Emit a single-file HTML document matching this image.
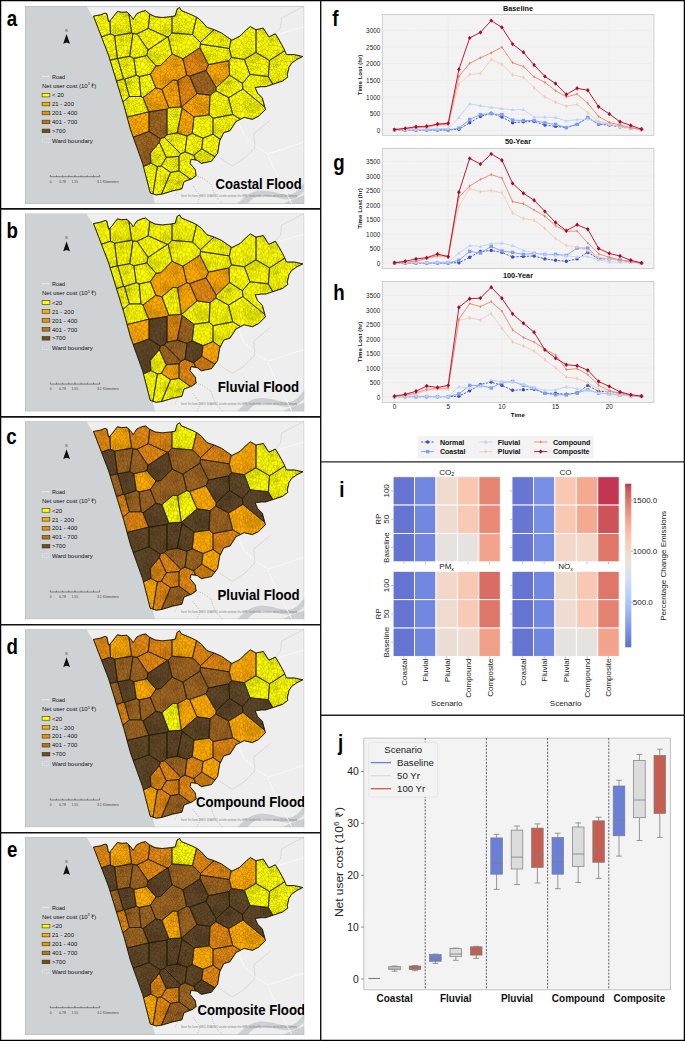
<!DOCTYPE html><html><head><meta charset="utf-8"><style>
html,body{margin:0;padding:0;background:#fff;}
svg{display:block;}
text{font-family:"Liberation Sans",sans-serif;}
.tk{font-size:6.4px;fill:#222;}
.ttl{font-size:7.3px;font-weight:bold;fill:#111;}
.yl{font-size:5.6px;font-weight:bold;fill:#111;}
.lg{font-size:7.1px;font-weight:bold;fill:#111;}
.hm{font-size:8px;fill:#222;}
.bx{font-size:9.6px;fill:#222;}
.bxt{font-size:10.4px;fill:#222;}
.bxl{font-size:10.2px;fill:#222;}
.bxg{font-size:10px;font-weight:bold;fill:#111;}
.pl{font-size:22px;font-weight:bold;fill:#000;}
.ml{font-size:6px;fill:#111;}
.mt{font-size:15px;font-weight:bold;fill:#000;}
</style></head><body><svg width="685" height="1041" viewBox="0 0 685 1041"><defs><clipPath id="mclip"><rect x="0" y="0" width="279.3" height="198"/></clipPath>
<clipPath id="cityclip"><polygon points="68.4,10.1 74.9,8.9 80.1,7.1 81.9,7.7 83.7,15.9 86.3,13.3 92.4,5.4 96.8,6.3 102.0,5.9 106.4,10.6 108.2,13.3 111.7,7.7 116.9,5.4 120.4,4.5 124.8,8.0 130.1,10.6 137.1,11.5 145.8,10.6 150.2,9.8 152.0,3.1 154.6,1.4 156.4,4.5 160.7,6.3 166.9,8.9 172.1,11.5 176.4,14.9 182.0,21.3 189.3,23.7 196.5,26.9 202.1,30.9 206.9,34.1 215.0,30.1 221.4,23.7 225.4,20.5 231.0,23.7 238.3,22.1 243.9,30.9 250.3,27.7 254.3,34.1 259.1,43.0 261.5,48.6 269.6,48.6 277.9,50.5 272.0,53.4 266.4,57.4 264.0,61.4 262.3,68.7 262.8,71.1 257.5,75.1 250.3,77.5 240.7,80.7 236.6,80.7 230.2,81.5 232.6,87.1 237.4,92.0 240.5,103.5 233.5,110.3 227.4,113.4 219.2,111.4 211.1,115.5 205.0,124.7 198.8,126.7 194.7,134.9 192.7,147.1 186.5,155.3 176.3,157.4 172.2,154.3 166.1,153.3 165.1,157.4 170.2,163.5 171.2,169.6 167.1,172.7 159.0,175.7 156.9,182.9 147.7,184.9 137.5,188.0 131.3,189.0 125.2,187.0 117.7,157.8 105.4,123.6 98.7,98.9 83.5,49.4"/></clipPath>
<g id="mapbg"><rect x="0" y="0" width="279.3" height="198" fill="#eeeeee"/><polygon points="0.0,0.0 61.8,0.0 68.3,10.5 83.5,49.4 98.7,98.9 105.4,123.6 117.7,157.8 127.2,186.3 130.0,198.0 0.0,198.0" fill="#cfd2d4"/><polyline points="61.8,0.0 68.3,10.5 83.5,49.4 98.7,98.9 105.4,123.6 117.7,157.8 127.2,186.3" fill="none" stroke="#f4f4f4" stroke-width="0.8"/><path d="M212 198 C219 191 226 184.5 237 184.5 C248 184.5 254 188.5 263 188.5 C271 188.5 275 182 280 175.5 L280 183.5 C276 189 271 193.5 263 193.5 C254 193.5 248 189.8 238 189.8 C230 189.8 226 194 222.5 198 Z M258 198 C264 194 272 192 280 189 L280 198 Z" fill="#cdd0d2"/><path d="M211.8 114 L219.5 129.3 L230.2 140 L242.5 147.7 L247 158.5 L257.8 180 L267 198 M242.5 147.7 C255 145 265 140 280 136 M253.2 28.5 C262 26 272 22 280 20.8" fill="none" stroke="#fafafa" stroke-width="0.9"/><path d="M245.5 114 L228.7 127.8 L230 141.6 L219.5 152.3 L207.2 160 L193.4 150.8 M280 0 L275 2.2 L256.5 12 L255.4 22 L251 26.3" fill="none" stroke="#c9cccc" stroke-width="0.6"/><path d="M150 190 L158 175 L165 168 L178 172 L186 178 L190 190 L198 198 M168 180 L175 190 L172 198 M140 172 L150 182" fill="none" stroke="#555" stroke-width="0.5" stroke-dasharray="0.6,1.6"/></g>
<g id="mapov"><polygon points="68.4,10.1 74.9,8.9 80.1,7.1 81.9,7.7 83.7,15.9 86.3,13.3 92.4,5.4 96.8,6.3 102.0,5.9 106.4,10.6 108.2,13.3 111.7,7.7 116.9,5.4 120.4,4.5 124.8,8.0 130.1,10.6 137.1,11.5 145.8,10.6 150.2,9.8 152.0,3.1 154.6,1.4 156.4,4.5 160.7,6.3 166.9,8.9 172.1,11.5 176.4,14.9 182.0,21.3 189.3,23.7 196.5,26.9 202.1,30.9 206.9,34.1 215.0,30.1 221.4,23.7 225.4,20.5 231.0,23.7 238.3,22.1 243.9,30.9 250.3,27.7 254.3,34.1 259.1,43.0 261.5,48.6 269.6,48.6 277.9,50.5 272.0,53.4 266.4,57.4 264.0,61.4 262.3,68.7 262.8,71.1 257.5,75.1 250.3,77.5 240.7,80.7 236.6,80.7 230.2,81.5 232.6,87.1 237.4,92.0 240.5,103.5 233.5,110.3 227.4,113.4 219.2,111.4 211.1,115.5 205.0,124.7 198.8,126.7 194.7,134.9 192.7,147.1 186.5,155.3 176.3,157.4 172.2,154.3 166.1,153.3 165.1,157.4 170.2,163.5 171.2,169.6 167.1,172.7 159.0,175.7 156.9,182.9 147.7,184.9 137.5,188.0 131.3,189.0 125.2,187.0 117.7,157.8 105.4,123.6 98.7,98.9 83.5,49.4" fill="none" stroke="#1a1a00" stroke-width="0.9"/><line x1="17" x2="24.6" y1="70.4" y2="70.4" stroke="#f0f0f0" stroke-width="0.8"/><text x="27" y="72.6" class="ml" textLength="13" lengthAdjust="spacingAndGlyphs">Road</text><text x="17" y="81.7" class="ml">Net user cost (10<tspan dy="-2.4" font-size="3.4">3</tspan><tspan dy="2.4"> &#8377;)</tspan></text><rect x="17.1" y="87.30" width="7.8" height="3.6" fill="#ffff00" stroke="#3a3a10" stroke-width="0.6"/><rect x="17.1" y="96.25" width="7.8" height="3.6" fill="#ffaa00" stroke="#3a3a10" stroke-width="0.6"/><text x="27" y="100.25" class="ml">21 - 200</text><rect x="17.1" y="105.20" width="7.8" height="3.6" fill="#f08c10" stroke="#3a3a10" stroke-width="0.6"/><text x="27" y="109.20" class="ml">201 - 400</text><rect x="17.1" y="114.15" width="7.8" height="3.6" fill="#b87320" stroke="#3a3a10" stroke-width="0.6"/><text x="27" y="118.15" class="ml">401 - 700</text><rect x="17.1" y="123.10" width="7.8" height="3.6" fill="#6e4c24" stroke="#3a3a10" stroke-width="0.6"/><text x="27" y="127.10" class="ml">&gt;700</text><rect x="17.3" y="132.6" width="7.4" height="3.6" fill="none" stroke="#f7f7f7" stroke-width="0.6" stroke-dasharray="1,1"/><text x="27" y="136.8" class="ml" textLength="40.8" lengthAdjust="spacingAndGlyphs">Ward boundary</text><text x="41.5" y="26" text-anchor="middle" font-size="3.2" fill="#333">N</text><path d="M41.5 27.9 L45 37.8 L41.5 36.5 L38.2 37.8 Z" fill="#111"/><path d="M25.3 169 V170.7 H74.7 V169 M31.5 170.7V169.3 M37.6 170.7 V169.3 M43.8 170.7V169.3 M49.9 170.7 V169 M56.1 170.7V169.3 M62.3 170.7 V169.3 M68.5 170.7V169.3" fill="none" stroke="#444" stroke-width="0.6"/><text x="25.6" y="176.8" font-size="3.4" fill="#444" text-anchor="middle">0</text><text x="37.5" y="176.8" font-size="3.4" fill="#444" text-anchor="middle">0.78</text><text x="49.8" y="176.8" font-size="3.4" fill="#444" text-anchor="middle">1.55</text><text x="72" y="176.8" font-size="3.4" fill="#444">3.1 Kilometers</text><text x="156" y="191.4" font-size="3.2" fill="#7a7a7a" textLength="116" lengthAdjust="spacingAndGlyphs">Source: Esri, Garmin, GEBCO, NOAA NGDC, and other contributors, Esri, HERE, OpenStreetMap contributors, and the GIS User Community</text></g><pattern id="roadpat" patternUnits="userSpaceOnUse" width="50" height="50"><path d="M0.0 17.7L0.5 17.3M0.5 17.3L0.0 14.7M0.0 0.2L0.1 0.0M0.1 50.0L0.2 49.6M0.2 49.6L0.0 49.3M0.0 36.9L0.4 35.9M0.4 35.9L0.0 34.8M0.0 1.3L0.2 1.0M0.2 1.0L0.2 0.6M0.2 0.6L0.0 0.4M0.0 34.5L0.3 34.3M0.3 34.3L0.6 33.6M0.6 33.6L1.1 31.7M1.1 31.7L1.1 31.6M1.1 31.6L0.0 31.2M0.0 9.2L0.1 9.1M0.1 9.1L0.0 9.1M0.1 9.1L0.4 9.0M0.4 9.0L0.7 8.6M0.7 8.6L0.7 8.6M0.7 8.6L0.3 7.7M0.3 7.7L0.0 7.4M0.0 21.7L1.4 22.3M1.4 22.3L1.5 22.2M1.5 22.2L1.8 21.1M1.8 21.1L1.9 20.8M1.9 20.8L1.2 19.9M1.2 19.9L0.0 18.5M0.0 25.2L0.4 24.9M0.4 24.9L0.4 23.9M0.4 23.9L0.0 23.7M0.4 23.9L1.4 22.3M0.0 27.4L1.4 26.8M1.4 26.8L1.0 25.2M1.0 25.2L0.4 24.9M0.2 49.6L1.6 48.1M1.6 48.1L0.0 47.0M0.3 7.7L1.5 7.3M1.5 7.3L2.0 5.9M2.0 5.9L0.6 5.7M0.6 5.7L0.0 6.0M0.6 5.7L0.5 4.0M0.5 4.0L0.0 3.9M0.0 28.0L1.6 27.2M1.6 27.2L1.4 26.8M0.5 4.0L0.5 4.0M0.5 4.0L0.5 3.9M0.5 3.9L0.0 2.6M0.0 10.0L0.6 9.6M0.6 9.6L0.4 9.0M0.0 10.6L1.1 10.3M1.1 10.3L0.6 9.6M0.2 0.6L1.9 0.5M1.9 0.5L2.2 0.0M0.0 28.6L1.4 28.0M1.4 28.0L1.8 27.4M1.8 27.4L1.8 27.4M1.8 27.4L1.6 27.2M2.2 50.0L2.7 48.8M2.7 48.8L2.0 48.1M2.0 48.1L1.7 48.1M1.7 48.1L1.6 48.1M1.2 19.9L3.0 18.8M3.0 18.8L2.5 17.9M2.5 17.9L1.0 17.1M1.0 17.1L0.5 17.3M0.0 11.8L1.5 11.5M1.5 11.5L1.5 10.4M1.5 10.4L1.1 10.3M1.7 48.1L1.6 44.5M1.6 44.5L0.0 44.5M1.0 25.2L1.7 25.2M1.7 25.2L2.2 25.1M2.2 25.1L3.0 24.5M3.0 24.5L3.3 24.2M3.3 24.2L3.5 23.4M3.5 23.4L1.5 22.2M1.1 31.6L1.2 31.5M1.2 31.5L2.1 29.4M2.1 29.4L1.4 29.1M1.4 29.1L0.0 28.7M0.5 4.0L2.5 3.9M2.5 3.9L2.5 3.8M2.5 3.8L1.0 2.8M1.0 2.8L0.5 3.9M1.0 2.8L1.0 1.8M1.0 1.8L0.2 1.0M1.6 44.5L2.6 44.1M2.6 44.1L2.5 40.0M2.5 40.0L2.3 39.7M2.3 39.7L1.3 39.5M1.3 39.5L0.0 39.5M1.5 10.4L1.8 10.1M1.8 10.1L0.7 8.6M0.0 13.5L1.1 13.6M1.1 13.6L1.9 13.1M1.9 13.1L2.4 12.4M2.4 12.4L1.5 11.5M1.0 17.1L1.7 16.4M1.7 16.4L1.1 13.6M0.4 35.9L1.5 36.3M1.5 36.3L2.9 35.2M2.9 35.2L2.9 35.2M2.9 35.2L0.3 34.3M2.5 3.8L3.1 2.5M3.1 2.5L1.0 1.8M1.8 27.4L2.1 27.1M2.1 27.1L2.5 26.5M2.5 26.5L1.7 25.2M1.3 39.5L1.5 36.3M2.0 5.9L3.0 5.8M3.0 5.8L2.5 3.9M3.1 2.5L3.6 2.2M3.6 2.2L4.1 1.0M4.1 1.0L1.9 0.5M1.4 28.0L1.4 29.1M2.1 29.4L2.3 29.3M2.3 29.3L2.5 28.1M2.5 28.1L1.8 27.4M2.3 39.7L4.5 36.8M4.5 36.8L4.2 36.4M4.2 36.4L2.9 35.2M2.9 35.2L3.1 34.2M3.1 34.2L2.6 33.8M2.6 33.8L0.6 33.6M1.8 10.1L2.2 9.8M2.2 9.8L2.4 9.3M2.4 9.3L2.4 8.6M2.4 8.6L2.0 8.4M2.0 8.4L0.7 8.6M2.4 12.4L3.4 12.2M3.4 12.2L3.1 10.4M3.1 10.4L2.2 9.8M2.0 8.4L1.5 7.3M2.6 33.8L1.1 31.7M2.4 8.6L2.5 8.5M2.5 8.5L3.2 5.9M3.2 5.9L3.0 5.8M1.7 16.4L3.3 15.6M3.3 15.6L1.9 13.1M3.2 5.9L5.1 6.0M5.1 6.0L5.7 5.4M5.7 5.4L5.8 4.7M5.8 4.7L3.6 2.2M3.1 34.2L4.6 32.1M4.6 32.1L4.3 31.8M4.3 31.8L1.2 31.5M2.0 48.1L2.8 47.5M2.8 47.5L2.9 45.2M2.9 45.2L2.8 44.2M2.8 44.2L2.6 44.1M2.5 28.1L3.3 27.8M3.3 27.8L3.4 27.5M3.4 27.5L2.5 27.1M2.5 27.1L2.1 27.1M2.5 8.5L5.7 8.9M5.7 8.9L5.1 6.0M2.4 9.3L4.5 9.6M4.5 9.6L5.8 9.1M5.8 9.1L5.7 8.9M4.2 36.4L5.0 34.1M5.0 34.1L5.3 32.1M5.3 32.1L4.6 32.1M3.3 15.6L4.9 15.5M4.9 15.5L6.7 14.0M6.7 14.0L7.0 13.2M7.0 13.2L3.4 12.2M4.3 31.8L3.9 30.6M3.9 30.6L2.9 29.4M2.9 29.4L2.3 29.3M2.5 26.5L3.1 26.5M3.1 26.5L3.1 26.0M3.1 26.0L2.2 25.1M4.1 1.0L4.7 0.4M4.7 0.4L4.6 0.0M4.6 0.0L4.6 0.0M4.6 0.0L4.6 0.0M4.6 50.0L2.7 48.8M2.5 27.1L3.3 26.8M3.3 26.8L3.1 26.5M3.1 10.4L4.5 9.6M2.9 45.2L3.4 47.3M3.4 47.3L3.9 47.2M3.9 47.2L4.4 44.7M4.4 44.7L3.6 44.3M3.6 44.3L2.8 44.2M2.5 17.9L4.5 17.8M4.5 17.8L4.8 17.4M4.8 17.4L4.9 15.5M1.9 20.8L4.1 20.1M4.1 20.1L4.2 19.8M4.2 19.8L4.2 19.7M4.2 19.7L3.0 18.8M4.6 0.0L4.6 0.0M4.6 50.0L4.2 47.5M4.2 47.5L3.9 47.2M3.4 47.3L2.8 47.5M3.5 23.4L3.6 23.4M3.6 23.4L3.7 22.0M3.7 22.0L1.8 21.1M2.9 29.4L4.4 28.5M4.4 28.5L3.3 27.8M3.6 44.3L5.6 40.9M5.6 40.9L2.5 40.0M3.4 27.5L3.5 27.3M3.5 27.3L3.4 26.9M3.4 26.9L3.3 26.8M3.1 26.0L3.1 26.0M3.1 26.0L3.5 25.7M3.5 25.7L3.0 24.5M3.4 26.9L4.2 26.3M4.2 26.3L4.2 26.1M4.2 26.1L3.1 26.0M3.7 22.0L4.6 21.0M4.6 21.0L4.1 20.1M4.4 28.5L4.7 28.6M4.7 28.6L4.7 28.6M4.7 28.6L4.7 27.2M4.7 27.2L3.5 27.3M3.9 30.6L4.7 28.6M7.0 13.2L7.4 12.7M7.4 12.7L7.3 10.5M7.3 10.5L5.8 9.1M4.2 19.7L4.5 17.8M3.5 25.7L4.1 25.4M4.1 25.4L4.1 25.1M4.1 25.1L3.3 24.2M5.8 4.7L6.0 4.5M6.0 4.5L6.8 2.5M6.8 2.5L5.9 1.1M5.9 1.1L4.7 0.4M5.3 32.1L5.5 32.1M5.5 32.1L5.5 29.1M5.5 29.1L4.8 28.6M4.8 28.6L4.7 28.6M4.8 17.4L7.4 19.4M7.4 19.4L8.3 18.3M8.3 18.3L7.3 15.4M7.3 15.4L6.7 14.0M4.1 25.1L4.8 25.0M4.8 25.0L5.4 24.8M5.4 24.8L4.1 23.3M4.1 23.3L3.6 23.4M4.1 23.3L5.8 22.3M5.8 22.3L5.8 22.1M5.8 22.1L4.6 21.0M4.2 26.1L4.1 25.4M4.7 27.2L4.9 26.8M4.9 26.8L4.6 26.5M4.6 26.5L4.2 26.3M4.2 19.8L7.4 19.4M7.4 19.4L7.4 19.4M5.8 22.1L7.5 20.8M7.5 20.8L7.4 19.4M5.6 40.9L6.8 40.9M6.8 40.9L8.5 38.7M8.5 38.7L7.2 37.5M7.2 37.5L6.1 36.9M6.1 36.9L4.5 36.8M7.3 10.5L9.1 8.5M9.1 8.5L9.7 6.7M9.7 6.7L5.7 5.4M4.6 26.5L4.9 26.0M4.9 26.0L4.8 25.0M4.6 0.0L4.7 0.0M4.7 50.0L6.5 48.3M6.5 48.3L6.9 46.8M6.9 46.8L4.2 47.5M6.9 46.8L7.5 45.8M7.5 45.8L7.6 45.0M7.6 45.0L7.6 45.0M7.6 45.0L4.4 44.7M5.4 24.8L5.9 24.8M5.9 24.8L6.1 24.6M6.1 24.6L6.7 24.1M6.7 24.1L6.7 24.0M6.7 24.0L5.8 22.3M7.6 45.0L6.8 40.9M4.9 26.8L6.1 26.8M6.1 26.8L6.1 26.5M6.1 26.5L5.8 25.7M5.8 25.7L4.9 26.0M5.8 25.7L5.9 24.8M4.8 28.6L6.3 27.0M6.3 27.0L6.1 26.8M6.1 36.9L6.3 35.5M6.3 35.5L5.0 34.1M5.9 1.1L8.1 0.0M8.1 0.0L8.1 0.0M8.1 0.0L8.3 0.1M8.3 0.1L8.4 0.0M8.1 50.0L6.5 48.3M8.4 50.0L9.1 48.6M9.1 48.6L7.5 45.8M6.3 35.5L7.0 32.5M7.0 32.5L6.8 32.3M6.8 32.3L5.5 32.1M6.1 26.5L6.8 26.0M6.8 26.0L6.1 24.6M8.5 38.7L10.0 38.5M10.0 38.5L10.7 38.1M10.7 38.1L11.4 35.7M11.4 35.7L8.7 33.4M8.7 33.4L7.2 37.5M6.7 24.0L8.9 23.1M8.9 23.1L9.3 22.2M9.3 22.2L9.3 22.1M9.3 22.1L7.5 20.8M8.7 33.4L8.3 32.8M8.3 32.8L7.0 32.5M5.5 29.1L6.9 28.7M6.9 28.7L6.6 27.3M6.6 27.3L6.3 27.0M7.3 15.4L9.9 16.5M9.9 16.5L10.3 13.2M10.3 13.2L7.4 12.7M7.6 45.0L8.2 45.0M8.2 45.0L9.5 43.9M9.5 43.9L10.7 42.1M10.7 42.1L10.0 38.5M6.6 27.3L8.8 26.3M8.8 26.3L7.9 25.6M7.9 25.6L6.8 26.0M6.8 32.3L7.6 29.7M7.6 29.7L7.5 29.1M7.5 29.1L6.9 28.7M9.3 22.1L10.8 18.6M10.8 18.6L10.7 18.5M10.7 18.5L8.3 18.3M9.7 6.7L10.6 5.7M10.6 5.7L10.5 5.4M10.5 5.4L7.2 4.4M7.2 4.4L6.0 4.5M7.9 25.6L6.7 24.1M8.8 26.3L9.4 26.4M9.4 26.4L9.7 25.9M9.7 25.9L8.9 23.1M8.3 32.8L9.5 31.8M9.5 31.8L10.3 30.5M10.3 30.5L7.6 29.7M7.5 29.1L9.8 27.6M9.8 27.6L9.4 26.4M6.8 2.5L9.0 2.1M9.0 2.1L9.3 1.4M9.3 1.4L8.3 0.1M7.2 4.4L9.5 3.3M9.5 3.3L9.0 2.1M9.3 1.4L10.5 0.7M10.5 0.7L10.4 0.0M10.4 50.0L10.4 49.6M10.4 49.6L9.4 48.7M9.4 48.7L9.1 48.6M10.3 30.5L11.1 29.8M11.1 29.8L11.0 28.8M11.0 28.8L9.8 27.6M9.5 3.3L9.8 3.6M9.8 3.6L12.0 2.1M12.0 2.1L12.0 0.9M12.0 0.9L10.5 0.7M10.5 5.4L9.8 3.6M10.7 18.5L10.8 18.1M10.8 18.1L9.9 16.5M9.4 48.7L11.5 47.3M11.5 47.3L10.3 46.2M10.3 46.2L8.2 45.0M11.0 28.8L13.7 27.2M13.7 27.2L13.9 26.7M13.9 26.7L9.8 25.9M9.8 25.9L9.7 25.9M9.8 25.9L11.5 24.6M11.5 24.6L11.9 22.7M11.9 22.7L9.3 22.2M11.4 35.7L13.4 33.9M13.4 33.9L9.5 31.8M10.3 13.2L10.5 13.2M10.5 13.2L10.9 13.1M10.9 13.1L14.6 11.4M14.6 11.4L12.8 9.8M12.8 9.8L9.1 8.5M13.4 33.9L13.9 33.6M13.9 33.6L13.6 31.7M13.6 31.7L11.1 29.8M10.8 18.1L11.1 17.2M11.1 17.2L10.5 13.2M12.8 9.8L11.2 5.7M11.2 5.7L10.6 5.7M10.8 18.6L13.2 19.7M13.2 19.7L15.0 17.7M15.0 17.7L15.1 17.4M15.1 17.4L12.4 16.4M12.4 16.4L11.1 17.2M10.4 49.6L11.7 47.5M11.7 47.5L11.5 47.3M11.9 22.7L12.4 22.4M12.4 22.4L13.2 20.0M13.2 20.0L13.2 19.7M11.2 5.7L11.3 5.7M11.3 5.7L12.3 2.8M12.3 2.8L12.0 2.1M11.7 47.5L14.2 48.0M14.2 48.0L14.2 47.9M14.2 47.9L12.0 44.9M12.0 44.9L10.3 46.2M10.7 42.1L13.7 43.0M13.7 43.0L14.7 42.8M14.7 42.8L14.6 39.7M14.6 39.7L10.7 38.1M9.5 43.9L12.1 44.3M12.1 44.3L13.7 43.0M12.0 0.9L13.4 0.0M13.4 50.0L14.2 49.5M14.2 49.5L14.6 48.8M14.6 48.8L14.2 48.0M12.0 44.9L12.1 44.3M12.4 16.4L12.3 15.4M12.3 15.4L10.9 13.1M13.9 26.7L13.9 26.6M13.9 26.6L13.7 26.4M13.7 26.4L11.5 24.6M13.6 31.7L14.9 29.9M14.9 29.9L14.9 29.6M14.9 29.6L13.7 27.2M14.6 39.7L15.7 38.9M15.7 38.9L16.9 37.9M16.9 37.9L16.7 37.1M16.7 37.1L15.8 34.4M15.8 34.4L13.9 33.6M12.3 2.8L14.8 3.4M14.8 3.4L14.3 0.0M14.3 50.0L14.2 49.5M14.6 11.4L14.9 11.4M14.9 11.4L16.1 5.7M16.1 5.7L16.0 5.6M16.0 5.6L11.3 5.7M12.3 15.4L15.9 15.9M15.9 15.9L16.2 15.5M16.2 15.5L17.0 13.0M17.0 13.0L14.9 11.4M14.6 48.8L16.0 49.0M16.0 49.0L18.5 46.1M18.5 46.1L18.6 45.9M18.6 45.9L18.5 45.1M18.5 45.1L17.5 43.8M17.5 43.8L15.5 43.8M15.5 43.8L14.2 47.9M13.7 26.4L12.9 22.7M12.9 22.7L12.4 22.4M15.5 43.8L14.7 42.8M13.9 26.6L14.6 26.2M14.6 26.2L14.5 23.4M14.5 23.4L12.9 22.7M16.0 5.6L14.8 3.4M14.5 23.4L15.3 23.2M15.3 23.2L15.7 21.7M15.7 21.7L15.7 21.4M15.7 21.4L13.2 20.0M15.1 17.4L15.9 15.9M16.1 5.7L17.0 5.4M17.0 5.4L17.5 4.3M17.5 4.3L17.4 0.6M17.4 0.6L16.9 0.0M16.9 50.0L16.1 49.1M16.1 49.1L16.0 49.0M15.7 21.4L17.9 20.3M17.9 20.3L15.0 17.7M15.8 34.4L18.5 32.6M18.5 32.6L19.2 31.5M19.2 31.5L18.1 30.6M18.1 30.6L14.9 29.9M17.9 20.3L18.5 20.5M18.5 20.5L17.9 17.4M17.9 17.4L16.2 15.5M14.9 29.6L17.1 27.7M17.1 27.7L17.4 26.1M17.4 26.1L17.3 26.0M17.3 26.0L14.6 26.2M17.5 43.8L18.5 42.7M18.5 42.7L15.7 38.9M17.0 13.0L17.6 13.0M17.6 13.0L20.6 8.5M20.6 8.5L19.5 6.6M19.5 6.6L19.0 6.1M19.0 6.1L17.0 5.4M17.3 26.0L17.5 24.5M17.5 24.5L15.3 23.2M17.5 24.5L18.0 23.6M18.0 23.6L15.7 21.7M18.1 30.6L17.1 27.7M19.2 31.5L20.6 30.8M20.6 30.8L18.3 26.4M18.3 26.4L17.4 26.1M18.0 23.6L19.7 21.7M19.7 21.7L19.0 20.7M19.0 20.7L18.5 20.5M18.5 42.7L19.3 42.1M19.3 42.1L17.8 38.8M17.8 38.8L17.0 37.9M17.0 37.9L16.9 37.9M18.3 26.4L20.4 26.1M20.4 26.1L23.1 24.7M23.1 24.7L22.0 22.5M22.0 22.5L19.7 21.7M16.7 37.1L19.9 34.8M19.9 34.8L18.5 32.6M18.5 45.1L20.9 44.9M20.9 44.9L21.3 44.5M21.3 44.5L21.1 43.6M21.1 43.6L19.4 42.0M19.4 42.0L19.3 42.1M17.9 17.4L20.4 17.9M20.4 17.9L22.3 15.8M22.3 15.8L21.0 14.3M21.0 14.3L17.6 13.0M16.1 49.1L18.6 48.6M18.6 48.6L18.5 46.1M17.5 4.3L19.3 2.8M19.3 2.8L19.6 1.8M19.6 1.8L18.8 0.7M18.8 0.7L17.4 0.6M19.0 20.7L20.4 17.9M19.0 6.1L21.5 3.9M21.5 3.9L21.2 3.1M21.2 3.1L21.2 3.1M21.2 3.1L19.3 2.8M18.6 48.6L20.1 48.5M20.1 48.5L18.6 45.9M18.6 45.9L18.6 45.9M18.8 0.7L19.7 0.0M19.7 50.0L19.9 49.8M19.9 49.8L20.1 49.6M20.1 49.6L20.3 49.2M20.3 49.2L20.1 48.5M20.1 48.5L20.1 48.5M18.6 45.9L20.8 46.5M20.8 46.5L20.9 44.9M17.0 37.9L21.7 36.8M21.7 36.8L19.9 34.8M21.7 36.8L22.0 36.9M22.0 36.9L22.2 36.8M22.2 36.8L22.6 36.0M22.6 36.0L20.8 30.8M20.8 30.8L20.6 30.8M22.0 22.5L22.6 21.5M22.6 21.5L22.8 16.2M22.8 16.2L22.4 15.8M22.4 15.8L22.3 15.8M20.1 48.5L21.3 47.3M21.3 47.3L20.8 46.5M19.4 42.0L19.7 41.8M19.7 41.8L21.0 40.6M21.0 40.6L21.0 39.9M21.0 39.9L17.8 38.8M19.6 1.8L20.4 1.5M20.4 1.5L20.0 0.0M20.0 50.0L19.9 49.8M21.0 39.9L22.0 36.9M20.8 30.8L20.9 30.7M20.9 30.7L20.4 26.1M21.0 14.3L23.6 10.0M23.6 10.0L20.9 8.6M20.9 8.6L20.6 8.5M20.4 1.5L21.0 1.5M21.0 1.5L21.1 1.5M21.1 1.5L20.3 0.0M20.3 50.0L20.1 49.6M21.1 43.6L22.5 42.5M22.5 42.5L19.7 41.8M20.9 30.7L21.6 30.5M21.6 30.5L24.7 26.1M24.7 26.1L24.5 25.6M24.5 25.6L23.1 24.7M21.1 1.5L22.5 0.3M22.5 0.3L21.9 0.0M21.2 3.1L21.2 2.2M21.2 2.2L21.0 1.5M21.9 50.0L20.3 49.2M22.5 0.3L22.6 0.3M22.6 0.3L22.7 0.0M22.7 50.0L23.2 49.1M23.2 49.1L22.5 47.2M22.5 47.2L21.3 47.3M21.2 3.1L23.2 1.9M23.2 1.9L23.1 1.7M23.1 1.7L21.2 2.2M22.5 47.2L22.6 47.0M22.6 47.0L22.4 44.9M22.4 44.9L21.3 44.5M23.1 1.7L22.9 0.7M22.9 0.7L22.6 0.3M19.5 6.6L22.2 5.8M22.2 5.8L22.4 4.1M22.4 4.1L21.5 3.9M22.5 42.5L22.9 42.4M22.9 42.4L22.7 41.2M22.7 41.2L21.0 40.6M22.7 41.2L24.5 39.7M24.5 39.7L24.3 38.5M24.3 38.5L24.3 38.5M24.3 38.5L22.2 36.8M22.6 36.0L23.0 35.6M23.0 35.6L23.9 33.9M23.9 33.9L23.0 31.3M23.0 31.3L21.6 30.5M20.9 8.6L23.0 6.6M23.0 6.6L22.9 6.3M22.9 6.3L22.2 5.8M24.5 25.6L25.5 24.5M25.5 24.5L25.9 23.3M25.9 23.3L26.3 20.7M26.3 20.7L25.4 20.3M25.4 20.3L22.6 21.5M22.4 15.8L25.1 13.1M25.1 13.1L23.6 10.0M23.6 10.0L23.6 10.0M22.4 44.9L22.5 44.8M22.5 44.8L22.9 43.7M22.9 43.7L23.1 42.6M23.1 42.6L22.9 42.4M23.2 1.9L23.5 2.2M23.5 2.2L25.2 1.7M25.2 1.7L24.5 0.7M24.5 0.7L22.9 0.7M22.4 4.1L23.7 3.8M23.7 3.8L23.5 2.2M23.6 10.0L24.5 9.5M24.5 9.5L24.5 9.1M24.5 9.1L23.9 7.2M23.9 7.2L23.0 6.6M24.5 0.7L25.0 0.0M22.6 47.0L23.7 46.8M23.7 46.8L25.8 45.1M25.8 45.1L25.8 45.0M25.8 45.0L22.5 44.8M25.0 50.0L25.0 50.0M25.0 50.0L25.0 49.6M25.0 49.6L24.4 49.0M24.4 49.0L23.2 49.1M22.9 43.7L26.1 44.3M26.1 44.3L26.7 42.8M26.7 42.8L23.1 42.6M22.9 6.3L24.1 4.8M24.1 4.8L24.1 4.1M24.1 4.1L23.7 3.8M25.4 20.3L24.8 17.1M24.8 17.1L24.0 16.5M24.0 16.5L22.8 16.2M24.4 49.0L24.5 48.9M24.5 48.9L24.7 48.4M24.7 48.4L24.1 47.3M24.1 47.3L23.7 46.8M25.8 45.0L26.1 44.3M24.3 38.5L26.6 35.2M26.6 35.2L23.0 35.6M26.7 42.8L26.7 42.8M26.7 42.8L26.5 42.2M26.5 42.2L24.5 39.7M23.9 7.2L24.8 6.0M24.8 6.0L24.1 4.8M26.6 35.2L26.7 35.2M26.7 35.2L26.0 33.2M26.0 33.2L23.9 33.9M24.1 4.1L24.3 4.0M24.3 4.0L26.1 2.0M26.1 2.0L26.0 1.9M26.0 1.9L25.2 1.7M24.1 47.3L25.9 47.5M25.9 47.5L26.2 46.9M26.2 46.9L25.9 45.2M25.9 45.2L25.8 45.1M24.5 9.1L25.9 6.3M25.9 6.3L25.8 6.2M25.8 6.2L24.8 6.0M23.0 31.3L26.0 31.3M26.0 31.3L26.3 29.1M26.3 29.1L25.6 26.8M25.6 26.8L24.7 26.1M25.9 45.2L29.1 46.7M29.1 46.7L29.2 46.6M29.2 46.6L29.4 45.5M29.4 45.5L27.7 42.9M27.7 42.9L26.7 42.8M26.0 33.2L26.4 31.9M26.4 31.9L26.0 31.3M24.7 48.4L25.9 47.5M25.9 47.5L25.9 47.5M24.0 16.5L27.0 14.6M27.0 14.6L26.5 13.2M26.5 13.2L25.3 13.1M25.3 13.1L25.1 13.1M25.8 6.2L25.6 4.3M25.6 4.3L24.3 4.0M24.5 48.9L26.0 48.7M26.0 48.7L26.0 47.8M26.0 47.8L25.9 47.5M26.0 1.9L26.2 0.9M26.2 0.9L25.0 0.0M25.0 50.0L25.0 50.0M25.3 13.1L26.2 9.7M26.2 9.7L24.5 9.5M26.2 46.9L28.5 47.9M28.5 47.9L28.9 47.8M28.9 47.8L29.0 47.7M29.0 47.7L29.1 46.7M25.6 26.8L28.0 26.7M28.0 26.7L31.1 24.4M31.1 24.4L31.1 23.7M31.1 23.7L30.9 22.5M30.9 22.5L25.5 24.5M25.0 49.6L26.2 49.3M26.2 49.3L26.0 48.7M24.3 38.5L27.9 37.9M27.9 37.9L27.9 35.7M27.9 35.7L26.7 35.2M27.9 35.7L31.8 33.3M31.8 33.3L30.6 32.2M30.6 32.2L26.4 31.9M26.2 9.7L26.9 9.7M26.9 9.7L27.0 9.7M27.0 9.7L28.1 7.4M28.1 7.4L26.5 6.3M26.5 6.3L25.9 6.3M26.2 49.3L27.0 49.8M27.0 49.8L27.2 49.8M27.2 49.8L27.5 49.0M27.5 49.0L26.0 47.8M27.5 49.0L28.5 47.9M26.2 0.9L26.9 0.0M26.1 2.0L26.6 2.4M26.6 2.4L28.5 1.0M28.5 1.0L28.1 0.5M28.1 0.5L27.4 0.0M27.4 50.0L27.2 49.8M27.0 49.8L26.9 50.0M26.5 42.2L28.1 38.2M28.1 38.2L27.9 37.9M25.6 4.3L26.9 4.1M26.9 4.1L27.1 4.0M27.1 4.0L27.4 3.7M27.4 3.7L26.6 2.4M26.3 20.7L29.0 19.9M29.0 19.9L29.0 17.8M29.0 17.8L24.8 17.1M26.5 6.3L26.9 4.1M25.9 23.3L29.6 20.8M29.6 20.8L29.0 19.9M26.5 13.2L26.9 12.8M26.9 12.8L26.9 9.7M28.3 7.3L28.3 7.3M28.3 7.3L27.4 3.7M27.4 3.7L27.4 3.7M27.1 4.0L28.3 7.3M28.3 7.3L28.1 7.4M27.0 9.7L28.8 10.7M28.8 10.7L30.3 10.7M30.3 10.7L30.5 10.6M30.5 10.6L31.1 9.9M31.1 9.9L31.3 7.5M31.3 7.5L30.4 6.7M30.4 6.7L29.7 6.8M29.7 6.8L28.3 7.3M29.0 17.8L29.5 16.9M29.5 16.9L27.6 14.8M27.6 14.8L27.0 14.6M30.9 22.5L30.9 22.2M30.9 22.2L29.6 20.8M27.6 14.8L28.7 13.0M28.7 13.0L28.5 12.8M28.5 12.8L26.9 12.8M30.6 32.2L30.0 30.1M30.0 30.1L26.3 29.1M28.1 0.5L28.5 0.0M28.5 50.0L29.2 49.0M29.2 49.0L28.9 47.8M30.9 22.2L35.3 19.7M35.3 19.7L35.2 18.7M35.2 18.7L29.9 16.6M29.9 16.6L29.5 16.9M28.5 12.8L28.8 10.7M27.4 3.7L27.9 3.7M27.9 3.7L28.7 3.3M28.7 3.3L29.4 1.8M29.4 1.8L28.9 1.2M28.9 1.2L28.5 1.0M28.1 38.2L31.2 39.4M31.2 39.4L33.2 35.9M33.2 35.9L33.2 35.4M33.2 35.4L32.0 33.3M32.0 33.3L31.8 33.3M27.7 42.9L31.4 41.3M31.4 41.3L31.2 39.4M29.9 16.6L30.9 14.8M30.9 14.8L29.9 13.5M29.9 13.5L28.7 13.0M28.9 1.2L29.4 0.2M29.4 0.2L29.4 0.0M29.4 50.0L29.2 49.0M29.2 49.0L29.2 49.0M29.7 6.8L27.9 3.7M32.0 33.3L32.2 33.2M32.2 33.2L32.2 27.0M32.2 27.0L30.1 29.0M30.1 29.0L30.0 30.1M30.1 29.0L28.0 26.7M29.2 49.0L30.5 49.7M30.5 49.7L31.1 49.4M31.1 49.4L31.6 48.4M31.6 48.4L31.6 48.4M31.6 48.4L29.0 47.7M31.1 23.7L35.3 24.3M35.3 24.3L35.5 20.6M35.5 20.6L35.3 19.8M35.3 19.8L35.3 19.7M29.9 13.5L30.3 10.7M32.2 27.0L32.3 26.8M32.3 26.8L31.1 24.4M29.4 45.5L32.2 44.6M32.2 44.6L31.5 41.4M31.5 41.4L31.4 41.3M30.4 6.7L30.5 6.5M30.5 6.5L29.2 3.6M29.2 3.6L28.7 3.3M29.4 1.8L30.4 1.8M30.4 1.8L30.5 0.0M30.0 0.0L29.4 0.2M30.5 50.0L30.5 49.8M30.5 49.8L30.0 50.0M31.3 7.5L33.8 7.4M33.8 7.4L32.9 4.1M32.9 4.1L30.8 5.8M30.8 5.8L30.5 6.5M30.5 49.8L30.5 49.7M29.2 3.6L30.7 3.9M30.7 3.9L31.0 3.2M31.0 3.2L30.7 1.9M30.7 1.9L30.4 1.8M30.8 5.8L30.7 3.9M31.6 48.4L31.0 46.5M31.0 46.5L29.2 46.6M30.9 14.8L32.2 14.1M32.2 14.1L32.3 13.7M32.3 13.7L31.7 12.1M31.7 12.1L30.5 10.6M31.5 41.4L33.8 41.5M33.8 41.5L35.3 40.7M35.3 40.7L36.3 39.8M36.3 39.8L36.4 39.5M36.4 39.5L33.2 35.9M30.7 1.9L31.8 1.4M31.8 1.4L31.3 0.0M32.2 44.6L32.2 44.7M32.2 44.7L33.4 45.6M33.4 45.6L36.2 45.2M36.2 45.2L36.3 45.1M36.3 45.1L33.8 41.5M31.3 50.0L31.1 49.4M31.8 1.4L32.1 1.4M32.1 1.4L32.6 0.0M31.0 46.5L32.2 44.7M32.9 4.1L32.9 4.1M32.9 4.1L32.0 3.5M32.0 3.5L31.0 3.2M32.6 50.0L32.6 50.0M32.6 50.0L32.5 48.4M32.5 48.4L31.6 48.4M32.5 48.4L32.7 48.3M32.7 48.3L32.8 48.2M32.8 48.2L33.4 45.6M32.0 3.5L32.6 1.6M32.6 1.6L32.1 1.4M32.3 26.8L32.5 26.9M32.5 26.9L35.5 24.6M35.5 24.6L35.3 24.3M31.7 12.1L33.3 10.8M33.3 10.8L33.1 10.6M33.1 10.6L31.1 9.9M35.2 18.7L36.2 16.0M36.2 16.0L36.0 15.8M36.0 15.8L32.2 14.1M32.2 33.2L35.7 30.0M35.7 30.0L35.7 29.3M35.7 29.3L35.3 28.8M35.3 28.8L32.5 26.9M32.6 1.6L33.3 1.8M33.3 1.8L33.5 1.8M33.5 1.8L34.1 1.4M34.1 1.4L34.0 0.7M34.0 0.7L32.7 0.0M32.7 50.0L32.6 50.0M33.2 35.4L33.8 35.4M33.8 35.4L35.9 34.7M35.9 34.7L38.0 31.3M38.0 31.3L35.7 30.0M32.3 13.7L33.5 12.3M33.5 12.3L33.9 11.2M33.9 11.2L33.3 10.8M32.9 4.1L33.0 4.0M33.0 4.0L33.3 1.8M33.1 10.6L34.1 7.5M34.1 7.5L33.8 7.4M34.0 0.7L34.1 0.0M34.1 50.0L34.1 49.9M34.1 49.9L34.1 49.5M34.1 49.5L32.7 48.3M33.9 11.2L35.6 10.9M35.6 10.9L36.9 9.6M36.9 9.6L36.9 9.0M36.9 9.0L36.1 7.9M36.1 7.9L35.0 7.4M35.0 7.4L34.1 7.5M35.0 7.4L34.8 4.1M34.8 4.1L34.8 4.1M34.8 4.1L33.0 4.0M36.0 15.8L35.5 13.3M35.5 13.3L33.5 12.3M34.8 4.1L33.5 1.8M34.8 4.1L36.2 3.1M36.2 3.1L34.6 1.5M34.6 1.5L34.1 1.4M34.6 1.5L35.4 0.8M35.4 0.8L35.1 0.1M35.1 0.1L34.6 0.0M34.6 50.0L34.1 49.9M32.8 48.2L35.6 48.0M35.6 48.0L35.9 47.9M35.9 47.9L36.2 45.2M35.3 28.8L35.7 24.8M35.7 24.8L35.5 24.6M35.5 20.6L37.3 23.3M37.3 23.3L38.8 22.5M38.8 22.5L39.2 22.1M39.2 22.1L39.2 21.8M39.2 21.8L38.7 21.3M38.7 21.3L38.3 20.9M38.3 20.9L37.0 20.2M37.0 20.2L35.3 19.8M36.1 7.9L38.5 3.5M38.5 3.5L37.9 3.1M37.9 3.1L36.2 3.1M34.1 49.5L34.5 49.3M34.5 49.3L35.6 48.0M35.9 47.9L36.2 48.4M36.2 48.4L38.3 49.1M38.3 49.1L38.5 47.9M38.5 47.9L37.3 44.8M37.3 44.8L36.3 45.1M35.5 13.3L35.6 10.9M37.0 20.2L40.4 18.2M40.4 18.2L40.6 17.9M40.6 17.9L37.2 15.7M37.2 15.7L36.2 16.0M37.2 15.7L39.7 12.8M39.7 12.8L36.9 9.6M35.7 24.8L35.8 24.8M35.8 24.8L37.2 24.4M37.2 24.4L37.3 23.3M34.5 49.3L35.4 49.6M35.4 49.6L35.9 49.5M35.9 49.5L36.2 48.4M37.9 3.1L37.6 1.1M37.6 1.1L36.3 0.4M36.3 0.4L35.4 0.8M35.1 0.1L35.1 0.0M35.1 50.0L35.4 49.6M36.3 0.4L36.1 0.0M36.1 50.0L35.9 49.5M37.3 44.8L37.4 44.8M37.4 44.8L35.3 40.7M36.4 39.5L38.4 38.7M38.4 38.7L38.6 38.6M38.6 38.6L36.3 36.3M36.3 36.3L33.8 35.4M37.6 1.1L38.0 0.0M35.7 29.3L36.9 28.2M36.9 28.2L37.7 27.1M37.7 27.1L35.8 24.8M38.0 50.0L38.4 49.2M38.4 49.2L38.3 49.1M37.4 44.8L38.6 44.1M38.6 44.1L36.3 39.8M38.5 3.5L38.7 3.6M38.7 3.6L39.9 0.0M39.9 50.0L40.0 49.7M40.0 49.7L40.0 49.5M40.0 49.5L38.4 49.2M36.9 9.0L38.7 8.3M38.7 8.3L41.2 4.6M41.2 4.6L40.9 4.1M40.9 4.1L38.7 3.6M38.0 31.3L38.5 31.5M38.5 31.5L40.2 30.9M40.2 30.9L40.3 30.4M40.3 30.4L39.0 28.4M39.0 28.4L36.9 28.2M38.6 38.6L39.7 37.7M39.7 37.7L40.0 36.9M40.0 36.9L39.0 35.7M39.0 35.7L36.3 36.3M38.6 44.1L40.1 43.8M40.1 43.8L38.4 38.7M39.0 35.7L38.3 34.7M38.3 34.7L35.9 34.7M38.3 34.7L38.6 32.4M38.6 32.4L38.5 31.5M37.7 27.1L37.8 27.0M37.8 27.0L37.9 26.8M37.9 26.8L38.5 25.1M38.5 25.1L38.5 25.0M38.5 25.0L38.4 24.9M38.4 24.9L37.2 24.4M38.5 47.9L40.3 47.3M40.3 47.3L41.7 44.7M41.7 44.7L40.4 43.8M40.4 43.8L40.1 43.8M40.0 36.9L42.0 35.9M42.0 35.9L42.1 35.4M42.1 35.4L38.6 32.4M42.1 35.4L42.9 33.7M42.9 33.7L41.5 31.4M41.5 31.4L40.2 30.9M38.4 24.9L38.8 22.5M39.0 28.4L39.7 27.7M39.7 27.7L37.8 27.0M40.4 43.8L41.8 40.3M41.8 40.3L39.7 37.7M39.7 12.8L40.4 12.7M40.4 12.7L41.9 11.6M41.9 11.6L42.3 10.7M42.3 10.7L41.8 9.7M41.8 9.7L40.5 8.8M40.5 8.8L38.7 8.3M38.5 25.0L40.1 24.2M40.1 24.2L39.2 22.1M39.7 27.7L41.0 27.3M41.0 27.3L40.5 26.7M40.5 26.7L37.9 26.8M40.0 49.5L40.4 49.2M40.4 49.2L40.3 47.3M38.3 20.9L40.2 19.1M40.2 19.1L40.4 18.2M40.3 30.4L41.3 27.5M41.3 27.5L41.0 27.3M40.5 26.7L40.5 26.6M40.5 26.6L40.4 26.5M40.4 26.5L38.5 25.1M40.2 19.1L40.3 19.7M40.3 19.7L40.8 20.9M40.8 20.9L42.4 18.8M42.4 18.8L41.0 17.8M41.0 17.8L40.6 17.9M40.4 26.5L40.5 24.3M40.5 24.3L40.1 24.2M40.5 26.6L41.3 24.6M41.3 24.6L41.2 24.4M41.2 24.4L40.8 24.2M40.8 24.2L40.5 24.3M41.0 17.8L42.0 15.3M42.0 15.3L40.4 12.7M38.7 21.3L40.3 19.7M39.2 21.8L40.5 21.7M40.5 21.7L40.7 21.6M40.7 21.6L40.8 20.9M40.9 4.1L41.1 3.7M41.1 3.7L40.3 0.1M40.3 0.1L40.2 0.0M40.2 50.0L40.0 49.7M41.5 31.4L42.6 30.6M42.6 30.6L43.0 27.7M43.0 27.7L42.4 27.2M42.4 27.2L41.3 27.5M42.4 27.2L42.6 26.6M42.6 26.6L41.3 24.6M40.5 8.8L41.6 5.0M41.6 5.0L41.6 5.0M41.6 5.0L41.2 4.6M40.8 24.2L40.8 24.0M40.8 24.0L40.5 21.7M40.3 0.1L42.2 1.3M42.2 1.3L42.5 0.0M42.5 50.0L42.7 49.1M42.7 49.1L40.4 49.2M42.7 49.1L43.0 48.9M43.0 48.9L42.4 44.8M42.4 44.8L41.7 44.7M41.8 40.3L43.3 39.9M43.3 39.9L43.3 39.8M43.3 39.8L43.6 38.0M43.6 38.0L43.3 36.8M43.3 36.8L42.0 35.9M41.1 3.7L42.2 2.3M42.2 2.3L42.2 1.3M41.8 9.7L42.4 6.5M42.4 6.5L41.6 5.0M41.6 5.0L44.0 4.8M44.0 4.8L45.5 3.0M45.5 3.0L45.0 1.9M45.0 1.9L42.2 2.3M42.4 44.8L42.8 44.8M42.8 44.8L44.2 41.1M44.2 41.1L43.3 39.9M40.8 24.0L42.3 22.0M42.3 22.0L40.7 21.6M42.0 15.3L43.3 15.4M43.3 15.4L44.5 13.5M44.5 13.5L41.9 11.6M43.3 36.8L45.6 36.5M45.6 36.5L45.7 36.3M45.7 36.3L45.7 36.3M45.7 36.3L45.2 34.8M45.2 34.8L43.3 33.6M43.3 33.6L42.9 33.7M41.2 24.4L42.0 24.1M42.0 24.1L43.3 22.6M43.3 22.6L43.3 22.6M43.3 22.6L42.7 22.0M42.7 22.0L42.3 22.0M42.7 22.0L43.1 19.0M43.1 19.0L42.4 18.8M43.1 19.0L44.8 18.5M44.8 18.5L44.9 18.5M44.9 18.5L44.5 16.5M44.5 16.5L43.3 15.4M42.6 26.6L43.1 26.0M43.1 26.0L43.2 25.3M43.2 25.3L42.0 24.1M45.0 1.9L45.6 0.0M45.6 50.0L45.7 49.7M45.7 49.7L43.0 48.9M43.3 22.6L44.4 22.2M44.4 22.2L45.6 20.2M45.6 20.2L45.6 19.7M45.6 19.7L44.8 18.5M43.0 27.7L45.3 28.7M45.3 28.7L46.2 26.5M46.2 26.5L43.2 26.0M43.2 26.0L43.1 26.0M43.2 25.3L43.6 24.4M43.6 24.4L43.4 23.0M43.4 23.0L43.3 22.6M43.3 33.6L43.9 33.2M43.9 33.2L45.3 30.1M45.3 30.1L42.6 30.6M42.3 10.7L44.0 10.1M44.0 10.1L45.0 8.4M45.0 8.4L44.8 8.0M44.8 8.0L42.4 6.5M45.3 30.1L45.8 29.7M45.8 29.7L45.3 28.7M43.4 23.0L45.4 24.2M45.4 24.2L46.0 23.2M46.0 23.2L44.4 22.2M43.2 26.0L45.4 25.0M45.4 25.0L45.2 24.6M45.2 24.6L43.6 24.4M44.8 8.0L45.2 5.7M45.2 5.7L44.0 4.8M45.7 49.7L46.2 49.4M46.2 49.4L47.1 46.6M47.1 46.6L43.0 44.8M43.0 44.8L42.8 44.8M44.5 13.5L46.2 13.4M46.2 13.4L45.3 11.1M45.3 11.1L44.0 10.1M43.3 39.8L46.5 39.2M46.5 39.2L43.6 38.0M44.5 16.5L47.1 14.0M47.1 14.0L47.1 13.8M47.1 13.8L46.2 13.4M45.2 24.6L45.4 24.2M44.2 41.1L46.2 41.1M46.2 41.1L48.3 39.4M48.3 39.4L46.5 39.2M43.9 33.2L44.6 33.2M44.6 33.2L46.5 31.1M46.5 31.1L46.8 30.2M46.8 30.2L45.8 29.7M44.9 18.5L48.3 16.8M48.3 16.8L47.1 14.0M45.5 3.0L45.9 3.1M45.9 3.1L47.6 2.4M47.6 2.4L47.6 0.3M47.6 0.3L47.1 0.0M47.1 50.0L46.2 49.4M45.0 8.4L45.1 8.4M45.1 8.4L47.0 6.9M47.0 6.9L47.1 5.8M47.1 5.8L46.8 5.4M46.8 5.4L45.2 5.7M46.2 26.5L46.2 26.5M46.2 26.5L45.4 25.1M45.4 25.1L45.4 25.0M45.4 25.1L47.1 24.2M47.1 24.2L47.3 23.9M47.3 23.9L46.7 23.1M46.7 23.1L46.0 23.2M46.8 5.4L47.0 4.8M47.0 4.8L45.9 3.1M43.0 44.8L45.8 43.0M45.8 43.0L46.2 41.1M45.2 34.8L46.1 34.3M46.1 34.3L46.0 33.3M46.0 33.3L46.0 33.3M46.0 33.3L44.6 33.2M46.7 23.1L47.2 21.9M47.2 21.9L45.6 20.2M48.3 39.4L48.3 39.4M48.3 39.4L47.9 38.3M47.9 38.3L45.6 36.5M46.8 30.2L47.1 30.2M47.1 30.2L47.8 27.7M47.8 27.7L47.6 26.7M47.6 26.7L46.6 26.4M46.6 26.4L46.4 26.4M46.4 26.4L46.2 26.5M45.8 43.0L48.9 44.6M48.9 44.6L49.0 44.5M49.0 44.5L48.7 39.5M48.7 39.5L48.3 39.4M47.1 46.6L47.9 46.2M47.9 46.2L48.3 45.8M48.3 45.8L48.9 44.6M46.4 26.4L47.1 24.2M45.3 11.1L47.0 10.5M47.0 10.5L46.2 8.9M46.2 8.9L45.1 8.4M45.7 36.3L46.2 34.6M46.2 34.6L46.1 34.3M45.6 19.7L49.0 19.6M49.0 19.6L50.0 18.4M50.0 18.4L50.0 17.7M50.0 17.7L48.3 16.8M45.7 36.3L47.0 35.1M47.0 35.1L46.5 34.6M46.5 34.6L46.2 34.6M46.0 33.3L46.5 31.1M46.5 34.6L47.1 34.1M47.1 34.1L46.4 33.3M46.4 33.3L46.0 33.3M47.1 13.8L48.5 12.8M48.5 12.8L48.6 12.1M48.6 12.1L48.6 11.2M48.6 11.2L48.4 11.0M48.4 11.0L47.0 10.5M47.9 38.3L48.4 35.1M48.4 35.1L47.0 35.1M50.0 17.7L50.0 17.7M50.0 14.7L49.8 13.5M49.8 13.5L48.5 12.8M46.2 8.9L48.3 8.4M48.3 8.4L48.3 8.4M48.3 8.4L47.0 6.9M47.3 23.9L47.3 23.9M47.3 23.9L49.1 23.2M49.1 23.2L48.4 21.6M48.4 21.6L47.2 21.9M46.4 33.3L46.7 33.2M46.7 33.2L47.5 32.6M47.5 32.6L48.4 31.5M48.4 31.5L48.6 30.6M48.6 30.6L47.1 30.2M46.6 26.4L48.1 24.7M48.1 24.7L47.3 23.9M47.1 5.8L49.5 6.4M49.5 6.4L49.6 6.3M49.6 6.3L48.5 3.9M48.5 3.9L47.0 4.8M48.4 35.1L48.6 34.8M48.6 34.8L47.1 34.1M47.6 0.3L50.0 0.3M50.0 0.3L50.0 0.2M50.0 49.3L47.9 46.2M48.4 11.0L48.3 8.5M48.3 8.5L48.3 8.4M48.5 3.9L48.7 3.5M48.7 3.5L48.7 3.2M48.7 3.2L47.6 2.4M48.6 34.8L48.8 34.6M48.8 34.6L48.6 33.9M48.6 33.9L47.5 33.5M47.5 33.5L46.7 33.2M48.3 8.4L49.5 7.0M49.5 7.0L49.5 6.4M48.7 39.5L48.9 39.5M48.9 39.5L50.0 36.9M50.0 34.8L49.9 34.6M49.9 34.6L48.8 34.6M48.4 21.6L48.7 21.2M48.7 21.2L49.0 19.6M48.6 33.9L48.4 31.5M47.5 32.6L47.5 33.5M48.6 30.6L48.6 30.6M48.6 30.6L49.7 28.6M49.7 28.6L49.7 28.2M49.7 28.2L47.8 27.7M48.7 3.2L49.7 1.9M49.7 1.9L50.0 1.3M50.0 0.4L50.0 0.3M49.9 34.6L50.0 34.5M50.0 31.2L48.6 30.6M48.6 11.2L49.1 10.8M49.1 10.8L49.2 10.6M49.2 10.6L50.0 9.2M50.0 9.1L48.3 8.5M50.0 7.4L49.5 7.0M47.6 26.7L49.2 26.2M49.2 26.2L49.6 25.4M49.6 25.4L48.1 24.7M49.7 28.2L49.7 28.1M49.7 28.1L49.6 27.6M49.6 27.6L49.2 26.2M48.7 21.2L50.0 21.7M50.0 18.5L50.0 18.4M49.6 25.4L50.0 25.2M50.0 23.7L49.1 23.2M49.6 27.6L50.0 27.4M50.0 47.0L48.3 45.8M50.0 6.0L49.6 6.3M50.0 3.9L48.7 3.5M49.7 28.1L50.0 28.0M50.0 2.6L49.7 1.9M49.2 10.6L50.0 10.0M49.1 10.8L50.0 10.6M49.7 28.6L49.8 28.7M49.8 28.7L50.0 28.6M48.6 12.1L50.0 11.8M50.0 44.5L49.0 44.5M50.0 28.7L49.8 28.7M50.0 39.5L48.9 39.5M49.8 13.5L50.0 13.5" fill="none" stroke="#000" stroke-opacity="0.5" stroke-width="0.3"/></pattern><rect id="roads" x="0" y="0" width="280" height="198" fill="url(#roadpat)"/></defs>
<g transform="translate(25 6.0)" clip-path="url(#mclip)">
<use href="#mapbg"/>
<g clip-path="url(#cityclip)"><path d="M85.5 27.8L84.9 14.7L83.7 15.9L81.9 7.7L80.1 7.1L74.9 8.9L68.4 10.1L76.4 30.9Z" fill="#ffff00"/><path d="M85.5 27.8L89.6 29.8L106.7 26.8L103.9 7.9L102.0 5.9L96.8 6.3L92.4 5.4L86.3 13.3L84.9 14.7Z" fill="#ffff00"/><path d="M106.7 26.8L107.9 27.6L112.2 27.9L123.2 22.4L124.8 8.0L120.4 4.5L116.9 5.4L111.7 7.7L108.2 13.3L106.4 10.6L103.9 7.9Z" fill="#ffff00"/><path d="M123.0 44.0L142.5 31.0L123.2 22.4L112.2 27.9Z" fill="#ffff00"/><path d="M123.2 22.4L142.5 31.0L143.2 31.0L147.0 26.9L147.0 10.4L145.8 10.6L137.1 11.5L130.1 10.6L124.8 8.0L124.8 8.0Z" fill="#ffff00"/><path d="M147.0 26.9L167.6 28.6L171.5 11.2L166.9 8.9L160.7 6.3L156.4 4.5L154.6 1.4L152.0 3.1L150.2 9.8L147.0 10.4Z" fill="#ffff00"/><path d="M167.6 28.6L175.4 36.4L189.1 23.6L182.0 21.3L176.4 14.9L172.1 11.5L171.5 11.2Z" fill="#ffff00"/><path d="M175.7 38.1L204.3 42.5L206.2 33.7L202.1 30.9L196.5 26.9L189.3 23.7L189.1 23.6L175.4 36.4Z" fill="#ffff00"/><path d="M92.4 52.4L89.6 29.8L85.5 27.8L76.4 30.9L83.5 49.4L85.0 54.3Z" fill="#ffff00"/><path d="M92.4 52.4L92.7 52.5L104.7 50.3L107.9 27.6L106.7 26.8L89.6 29.8Z" fill="#ffff00"/><path d="M108.8 52.4L121.9 49.5L123.0 44.0L112.2 27.9L107.9 27.6L104.7 50.3Z" fill="#ffff00"/><path d="M121.9 49.5L131.0 59.9L135.6 59.4L147.1 47.9L143.2 31.0L142.5 31.0L123.0 44.0Z" fill="#ffff00"/><path d="M147.1 47.9L157.9 52.8L174.9 41.8L175.7 38.1L175.4 36.4L167.6 28.6L147.0 26.9L143.2 31.0Z" fill="#ffff00"/><path d="M174.9 41.8L183.4 58.7L203.9 54.6L206.4 51.4L204.3 42.5L175.7 38.1Z" fill="#ffff00"/><path d="M98.5 72.8L92.7 52.5L92.4 52.4L85.0 54.3L91.4 75.2Z" fill="#ffff00"/><path d="M104.7 50.3L92.7 52.5L98.5 72.8L99.5 73.2L111.2 69.3L108.8 52.4Z" fill="#ffff00"/><path d="M114.2 70.5L125.4 68.2L131.0 59.9L121.9 49.5L108.8 52.4L111.2 69.3Z" fill="#ffff00"/><path d="M161.8 69.3L157.9 52.8L147.1 47.9L135.6 59.4L131.0 59.9L125.4 68.2L130.8 81.8L136.9 83.4L148.0 74.0L152.5 74.4Z" fill="#ffab00"/><path d="M161.8 69.3L164.5 70.2L181.0 64.4L183.4 58.7L174.9 41.8L157.9 52.8Z" fill="#e38912"/><path d="M181.0 64.4L191.2 81.6L204.6 69.2L203.9 54.6L183.4 58.7Z" fill="#ffab00"/><path d="M104.4 90.5L99.5 73.2L98.5 72.8L91.4 75.2L97.8 96.0Z" fill="#ffff00"/><path d="M104.4 90.5L115.9 90.5L114.2 70.5L111.2 69.3L99.5 73.2Z" fill="#ffff00"/><path d="M115.9 90.5L118.0 91.6L130.8 81.8L125.4 68.2L114.2 70.5Z" fill="#ffff00"/><path d="M136.9 83.4L143.8 101.8L156.3 101.0L152.5 74.4L148.0 74.0Z" fill="#ffab00"/><path d="M156.5 101.0L172.1 87.5L164.5 70.2L161.8 69.3L152.5 74.4L156.3 101.0Z" fill="#e38912"/><path d="M172.1 87.5L185.0 89.3L190.9 84.7L191.2 81.6L181.0 64.4L164.5 70.2Z" fill="#9f6622"/><path d="M184.1 108.8L188.0 112.2L207.7 108.5L203.5 91.7L190.9 84.7L185.0 89.3Z" fill="#ffff00"/><path d="M123.8 105.8L124.0 105.9L142.0 103.1L143.8 101.8L136.9 83.4L130.8 81.8L118.0 91.6Z" fill="#ffab00"/><path d="M169.0 110.9L184.1 108.8L185.0 89.3L172.1 87.5L156.5 101.0L157.2 102.0Z" fill="#ffab00"/><path d="M204.6 69.2L217.4 77.4L225.0 68.4L219.4 53.4L206.4 51.4L203.9 54.6Z" fill="#ffff00"/><path d="M217.4 77.4L217.9 83.1L239.9 101.2L237.4 92.0L232.6 87.1L230.2 81.5L236.6 80.7L240.7 80.7L247.8 78.3L243.3 70.5L225.0 68.4Z" fill="#ffff00"/><path d="M204.3 42.5L206.4 51.4L219.4 53.4L231.0 46.4L231.0 23.7L225.4 20.5L221.4 23.7L215.0 30.1L206.9 34.1L206.2 33.7Z" fill="#ffff00"/><path d="M231.0 46.4L244.5 54.5L259.8 44.7L259.1 43.0L254.3 34.1L250.3 27.7L243.9 30.9L238.3 22.1L231.0 23.7Z" fill="#ffff00"/><path d="M244.5 54.5L243.3 70.5L247.8 78.3L250.3 77.5L257.5 75.1L262.8 71.1L262.3 68.7L264.0 61.4L266.4 57.4L272.0 53.4L277.9 50.5L269.6 48.6L261.5 48.6L259.8 44.7Z" fill="#ffff00"/><path d="M225.0 68.4L243.3 70.5L244.5 54.5L231.0 46.4L219.4 53.4Z" fill="#ffff00"/><path d="M191.2 81.6L190.9 84.7L203.5 91.7L217.9 83.1L217.4 77.4L204.6 69.2Z" fill="#ffff00"/><path d="M217.9 83.1L203.5 91.7L207.7 108.5L215.5 113.3L219.2 111.4L227.4 113.4L233.5 110.3L240.5 103.5L239.9 101.2Z" fill="#ffff00"/><path d="M97.8 96.0L98.7 98.9L102.0 111.2L123.8 105.8L118.0 91.6L115.9 90.5L104.4 90.5Z" fill="#ffff00"/><path d="M124.0 125.5L124.0 105.9L123.8 105.8L102.0 111.2L105.4 123.6L108.1 131.2Z" fill="#ffab00"/><path d="M124.0 125.5L135.3 132.7L139.3 131.3L142.0 128.8L142.0 103.1L124.0 105.9Z" fill="#9f6622"/><path d="M142.0 103.1L142.0 128.8L152.2 126.8L157.2 102.0L156.5 101.0L156.3 101.0L143.8 101.8Z" fill="#ffff00"/><path d="M152.2 126.8L162.0 130.0L167.2 127.4L169.0 110.9L157.2 102.0Z" fill="#ffab00"/><path d="M169.0 110.9L167.2 127.4L178.0 132.2L188.0 128.2L188.0 112.2L184.1 108.8Z" fill="#ffff00"/><path d="M207.7 108.5L188.0 112.2L188.0 128.2L195.4 133.4L198.8 126.7L205.0 124.7L211.1 115.5L215.5 113.3Z" fill="#ffff00"/><path d="M125.9 157.2L125.3 147.1L134.4 136.3L135.3 132.7L124.0 125.5L108.1 131.2L117.7 157.8L118.4 160.7Z" fill="#9f6622"/><path d="M139.3 131.3L155.8 147.8L160.0 145.9L162.0 130.0L152.2 126.8L142.0 128.8Z" fill="#ffff00"/><path d="M162.0 130.0L160.0 145.9L168.8 149.3L176.7 142.8L178.0 132.2L167.2 127.4Z" fill="#ffff00"/><path d="M178.0 132.2L176.7 142.8L189.9 150.8L192.7 147.1L194.7 134.9L195.4 133.4L188.0 128.2Z" fill="#ffff00"/><path d="M141.3 151.4L154.0 150.3L155.8 147.8L139.3 131.3L135.3 132.7L134.4 136.3Z" fill="#ffff00"/><path d="M176.7 142.8L168.8 149.3L170.5 154.0L172.2 154.3L176.3 157.4L186.5 155.3L189.9 150.8Z" fill="#ffff00"/><path d="M125.9 157.2L132.4 160.5L136.3 159.9L141.3 151.4L134.4 136.3L125.3 147.1Z" fill="#ffff00"/><path d="M136.3 159.9L145.6 166.3L154.0 164.9L154.0 150.3L141.3 151.4Z" fill="#ffff00"/><path d="M154.0 150.3L154.0 164.9L165.6 173.3L167.1 172.7L171.2 169.6L170.2 163.5L165.1 157.4L166.1 153.3L170.5 154.0L168.8 149.3L160.0 145.9L155.8 147.8Z" fill="#ffff00"/><path d="M132.4 160.5L125.9 157.2L118.4 160.7L125.2 187.0L127.9 187.9Z" fill="#ffff00"/><path d="M127.9 187.9L131.3 189.0L136.5 188.2L145.6 166.3L136.3 159.9L132.4 160.5Z" fill="#ffff00"/><path d="M154.0 164.9L145.6 166.3L136.5 188.2L137.5 188.0L147.7 184.9L156.9 182.9L159.0 175.7L165.6 173.3Z" fill="#ffff00"/><use href="#roads"/><path d="M85.5 27.8L84.9 14.7L83.7 15.9L81.9 7.7L80.1 7.1L74.9 8.9L68.4 10.1L76.4 30.9ZM85.5 27.8L89.6 29.8L106.7 26.8L103.9 7.9L102.0 5.9L96.8 6.3L92.4 5.4L86.3 13.3L84.9 14.7ZM106.7 26.8L107.9 27.6L112.2 27.9L123.2 22.4L124.8 8.0L120.4 4.5L116.9 5.4L111.7 7.7L108.2 13.3L106.4 10.6L103.9 7.9ZM123.0 44.0L142.5 31.0L123.2 22.4L112.2 27.9ZM123.2 22.4L142.5 31.0L143.2 31.0L147.0 26.9L147.0 10.4L145.8 10.6L137.1 11.5L130.1 10.6L124.8 8.0L124.8 8.0ZM147.0 26.9L167.6 28.6L171.5 11.2L166.9 8.9L160.7 6.3L156.4 4.5L154.6 1.4L152.0 3.1L150.2 9.8L147.0 10.4ZM167.6 28.6L175.4 36.4L189.1 23.6L182.0 21.3L176.4 14.9L172.1 11.5L171.5 11.2ZM175.7 38.1L204.3 42.5L206.2 33.7L202.1 30.9L196.5 26.9L189.3 23.7L189.1 23.6L175.4 36.4ZM92.4 52.4L89.6 29.8L85.5 27.8L76.4 30.9L83.5 49.4L85.0 54.3ZM92.4 52.4L92.7 52.5L104.7 50.3L107.9 27.6L106.7 26.8L89.6 29.8ZM108.8 52.4L121.9 49.5L123.0 44.0L112.2 27.9L107.9 27.6L104.7 50.3ZM121.9 49.5L131.0 59.9L135.6 59.4L147.1 47.9L143.2 31.0L142.5 31.0L123.0 44.0ZM147.1 47.9L157.9 52.8L174.9 41.8L175.7 38.1L175.4 36.4L167.6 28.6L147.0 26.9L143.2 31.0ZM174.9 41.8L183.4 58.7L203.9 54.6L206.4 51.4L204.3 42.5L175.7 38.1ZM98.5 72.8L92.7 52.5L92.4 52.4L85.0 54.3L91.4 75.2ZM104.7 50.3L92.7 52.5L98.5 72.8L99.5 73.2L111.2 69.3L108.8 52.4ZM114.2 70.5L125.4 68.2L131.0 59.9L121.9 49.5L108.8 52.4L111.2 69.3ZM161.8 69.3L157.9 52.8L147.1 47.9L135.6 59.4L131.0 59.9L125.4 68.2L130.8 81.8L136.9 83.4L148.0 74.0L152.5 74.4ZM161.8 69.3L164.5 70.2L181.0 64.4L183.4 58.7L174.9 41.8L157.9 52.8ZM181.0 64.4L191.2 81.6L204.6 69.2L203.9 54.6L183.4 58.7ZM104.4 90.5L99.5 73.2L98.5 72.8L91.4 75.2L97.8 96.0ZM104.4 90.5L115.9 90.5L114.2 70.5L111.2 69.3L99.5 73.2ZM115.9 90.5L118.0 91.6L130.8 81.8L125.4 68.2L114.2 70.5ZM136.9 83.4L143.8 101.8L156.3 101.0L152.5 74.4L148.0 74.0ZM156.5 101.0L172.1 87.5L164.5 70.2L161.8 69.3L152.5 74.4L156.3 101.0ZM172.1 87.5L185.0 89.3L190.9 84.7L191.2 81.6L181.0 64.4L164.5 70.2ZM184.1 108.8L188.0 112.2L207.7 108.5L203.5 91.7L190.9 84.7L185.0 89.3ZM123.8 105.8L124.0 105.9L142.0 103.1L143.8 101.8L136.9 83.4L130.8 81.8L118.0 91.6ZM169.0 110.9L184.1 108.8L185.0 89.3L172.1 87.5L156.5 101.0L157.2 102.0ZM204.6 69.2L217.4 77.4L225.0 68.4L219.4 53.4L206.4 51.4L203.9 54.6ZM217.4 77.4L217.9 83.1L239.9 101.2L237.4 92.0L232.6 87.1L230.2 81.5L236.6 80.7L240.7 80.7L247.8 78.3L243.3 70.5L225.0 68.4ZM204.3 42.5L206.4 51.4L219.4 53.4L231.0 46.4L231.0 23.7L225.4 20.5L221.4 23.7L215.0 30.1L206.9 34.1L206.2 33.7ZM231.0 46.4L244.5 54.5L259.8 44.7L259.1 43.0L254.3 34.1L250.3 27.7L243.9 30.9L238.3 22.1L231.0 23.7ZM244.5 54.5L243.3 70.5L247.8 78.3L250.3 77.5L257.5 75.1L262.8 71.1L262.3 68.7L264.0 61.4L266.4 57.4L272.0 53.4L277.9 50.5L269.6 48.6L261.5 48.6L259.8 44.7ZM225.0 68.4L243.3 70.5L244.5 54.5L231.0 46.4L219.4 53.4ZM191.2 81.6L190.9 84.7L203.5 91.7L217.9 83.1L217.4 77.4L204.6 69.2ZM217.9 83.1L203.5 91.7L207.7 108.5L215.5 113.3L219.2 111.4L227.4 113.4L233.5 110.3L240.5 103.5L239.9 101.2ZM97.8 96.0L98.7 98.9L102.0 111.2L123.8 105.8L118.0 91.6L115.9 90.5L104.4 90.5ZM124.0 125.5L124.0 105.9L123.8 105.8L102.0 111.2L105.4 123.6L108.1 131.2ZM124.0 125.5L135.3 132.7L139.3 131.3L142.0 128.8L142.0 103.1L124.0 105.9ZM142.0 103.1L142.0 128.8L152.2 126.8L157.2 102.0L156.5 101.0L156.3 101.0L143.8 101.8ZM152.2 126.8L162.0 130.0L167.2 127.4L169.0 110.9L157.2 102.0ZM169.0 110.9L167.2 127.4L178.0 132.2L188.0 128.2L188.0 112.2L184.1 108.8ZM207.7 108.5L188.0 112.2L188.0 128.2L195.4 133.4L198.8 126.7L205.0 124.7L211.1 115.5L215.5 113.3ZM125.9 157.2L125.3 147.1L134.4 136.3L135.3 132.7L124.0 125.5L108.1 131.2L117.7 157.8L118.4 160.7ZM139.3 131.3L155.8 147.8L160.0 145.9L162.0 130.0L152.2 126.8L142.0 128.8ZM162.0 130.0L160.0 145.9L168.8 149.3L176.7 142.8L178.0 132.2L167.2 127.4ZM178.0 132.2L176.7 142.8L189.9 150.8L192.7 147.1L194.7 134.9L195.4 133.4L188.0 128.2ZM141.3 151.4L154.0 150.3L155.8 147.8L139.3 131.3L135.3 132.7L134.4 136.3ZM176.7 142.8L168.8 149.3L170.5 154.0L172.2 154.3L176.3 157.4L186.5 155.3L189.9 150.8ZM125.9 157.2L132.4 160.5L136.3 159.9L141.3 151.4L134.4 136.3L125.3 147.1ZM136.3 159.9L145.6 166.3L154.0 164.9L154.0 150.3L141.3 151.4ZM154.0 150.3L154.0 164.9L165.6 173.3L167.1 172.7L171.2 169.6L170.2 163.5L165.1 157.4L166.1 153.3L170.5 154.0L168.8 149.3L160.0 145.9L155.8 147.8ZM132.4 160.5L125.9 157.2L118.4 160.7L125.2 187.0L127.9 187.9ZM127.9 187.9L131.3 189.0L136.5 188.2L145.6 166.3L136.3 159.9L132.4 160.5ZM154.0 164.9L145.6 166.3L136.5 188.2L137.5 188.0L147.7 184.9L156.9 182.9L159.0 175.7L165.6 173.3Z" fill="none" stroke="#1c1a00" stroke-width="0.7"/></g>
<use href="#mapov"/>
<text x="27" y="91.3" class="ml">&lt; 20</text>
<rect x="0.25" y="0.25" width="278.8" height="197.5" fill="none" stroke="#b4b4b4" stroke-width="0.6"/>
<text x="190.6" y="183.2" class="mt" textLength="86" lengthAdjust="spacingAndGlyphs">Coastal Flood</text>
</g>
<g transform="translate(25 213.4)" clip-path="url(#mclip)">
<use href="#mapbg"/>
<g clip-path="url(#cityclip)"><path d="M85.5 27.8L84.9 14.7L83.7 15.9L81.9 7.7L80.1 7.1L74.9 8.9L68.4 10.1L76.4 30.9Z" fill="#ffff00"/><path d="M85.5 27.8L89.6 29.8L106.7 26.8L103.9 7.9L102.0 5.9L96.8 6.3L92.4 5.4L86.3 13.3L84.9 14.7Z" fill="#ffff00"/><path d="M106.7 26.8L107.9 27.6L112.2 27.9L123.2 22.4L124.8 8.0L120.4 4.5L116.9 5.4L111.7 7.7L108.2 13.3L106.4 10.6L103.9 7.9Z" fill="#ffff00"/><path d="M123.0 44.0L142.5 31.0L123.2 22.4L112.2 27.9Z" fill="#ffff00"/><path d="M123.2 22.4L142.5 31.0L143.2 31.0L147.0 26.9L147.0 10.4L145.8 10.6L137.1 11.5L130.1 10.6L124.8 8.0L124.8 8.0Z" fill="#ffff00"/><path d="M147.0 26.9L167.6 28.6L171.5 11.2L166.9 8.9L160.7 6.3L156.4 4.5L154.6 1.4L152.0 3.1L150.2 9.8L147.0 10.4Z" fill="#ffff00"/><path d="M167.6 28.6L175.4 36.4L189.1 23.6L182.0 21.3L176.4 14.9L172.1 11.5L171.5 11.2Z" fill="#ffff00"/><path d="M175.7 38.1L204.3 42.5L206.2 33.7L202.1 30.9L196.5 26.9L189.3 23.7L189.1 23.6L175.4 36.4Z" fill="#ffff00"/><path d="M92.4 52.4L89.6 29.8L85.5 27.8L76.4 30.9L83.5 49.4L85.0 54.3Z" fill="#ffff00"/><path d="M92.4 52.4L92.7 52.5L104.7 50.3L107.9 27.6L106.7 26.8L89.6 29.8Z" fill="#ffff00"/><path d="M108.8 52.4L121.9 49.5L123.0 44.0L112.2 27.9L107.9 27.6L104.7 50.3Z" fill="#ffff00"/><path d="M121.9 49.5L131.0 59.9L135.6 59.4L147.1 47.9L143.2 31.0L142.5 31.0L123.0 44.0Z" fill="#ffff00"/><path d="M147.1 47.9L157.9 52.8L174.9 41.8L175.7 38.1L175.4 36.4L167.6 28.6L147.0 26.9L143.2 31.0Z" fill="#ffff00"/><path d="M174.9 41.8L183.4 58.7L203.9 54.6L206.4 51.4L204.3 42.5L175.7 38.1Z" fill="#ffff00"/><path d="M98.5 72.8L92.7 52.5L92.4 52.4L85.0 54.3L91.4 75.2Z" fill="#ffff00"/><path d="M104.7 50.3L92.7 52.5L98.5 72.8L99.5 73.2L111.2 69.3L108.8 52.4Z" fill="#ffff00"/><path d="M114.2 70.5L125.4 68.2L131.0 59.9L121.9 49.5L108.8 52.4L111.2 69.3Z" fill="#ffff00"/><path d="M161.8 69.3L157.9 52.8L147.1 47.9L135.6 59.4L131.0 59.9L125.4 68.2L130.8 81.8L136.9 83.4L148.0 74.0L152.5 74.4Z" fill="#ffab00"/><path d="M161.8 69.3L164.5 70.2L181.0 64.4L183.4 58.7L174.9 41.8L157.9 52.8Z" fill="#ffab00"/><path d="M181.0 64.4L191.2 81.6L204.6 69.2L203.9 54.6L183.4 58.7Z" fill="#ffab00"/><path d="M104.4 90.5L99.5 73.2L98.5 72.8L91.4 75.2L97.8 96.0Z" fill="#ffff00"/><path d="M104.4 90.5L115.9 90.5L114.2 70.5L111.2 69.3L99.5 73.2Z" fill="#ffff00"/><path d="M115.9 90.5L118.0 91.6L130.8 81.8L125.4 68.2L114.2 70.5Z" fill="#ffff00"/><path d="M136.9 83.4L143.8 101.8L156.3 101.0L152.5 74.4L148.0 74.0Z" fill="#ffff00"/><path d="M156.5 101.0L172.1 87.5L164.5 70.2L161.8 69.3L152.5 74.4L156.3 101.0Z" fill="#ffab00"/><path d="M172.1 87.5L185.0 89.3L190.9 84.7L191.2 81.6L181.0 64.4L164.5 70.2Z" fill="#e38912"/><path d="M184.1 108.8L188.0 112.2L207.7 108.5L203.5 91.7L190.9 84.7L185.0 89.3Z" fill="#ffff00"/><path d="M123.8 105.8L124.0 105.9L142.0 103.1L143.8 101.8L136.9 83.4L130.8 81.8L118.0 91.6Z" fill="#ffab00"/><path d="M169.0 110.9L184.1 108.8L185.0 89.3L172.1 87.5L156.5 101.0L157.2 102.0Z" fill="#ffff00"/><path d="M204.6 69.2L217.4 77.4L225.0 68.4L219.4 53.4L206.4 51.4L203.9 54.6Z" fill="#ffff00"/><path d="M217.4 77.4L217.9 83.1L239.9 101.2L237.4 92.0L232.6 87.1L230.2 81.5L236.6 80.7L240.7 80.7L247.8 78.3L243.3 70.5L225.0 68.4Z" fill="#ffff00"/><path d="M204.3 42.5L206.4 51.4L219.4 53.4L231.0 46.4L231.0 23.7L225.4 20.5L221.4 23.7L215.0 30.1L206.9 34.1L206.2 33.7Z" fill="#ffff00"/><path d="M231.0 46.4L244.5 54.5L259.8 44.7L259.1 43.0L254.3 34.1L250.3 27.7L243.9 30.9L238.3 22.1L231.0 23.7Z" fill="#ffff00"/><path d="M244.5 54.5L243.3 70.5L247.8 78.3L250.3 77.5L257.5 75.1L262.8 71.1L262.3 68.7L264.0 61.4L266.4 57.4L272.0 53.4L277.9 50.5L269.6 48.6L261.5 48.6L259.8 44.7Z" fill="#ffff00"/><path d="M225.0 68.4L243.3 70.5L244.5 54.5L231.0 46.4L219.4 53.4Z" fill="#ffff00"/><path d="M191.2 81.6L190.9 84.7L203.5 91.7L217.9 83.1L217.4 77.4L204.6 69.2Z" fill="#ffff00"/><path d="M217.9 83.1L203.5 91.7L207.7 108.5L215.5 113.3L219.2 111.4L227.4 113.4L233.5 110.3L240.5 103.5L239.9 101.2Z" fill="#ffff00"/><path d="M97.8 96.0L98.7 98.9L102.0 111.2L123.8 105.8L118.0 91.6L115.9 90.5L104.4 90.5Z" fill="#ffff00"/><path d="M124.0 125.5L124.0 105.9L123.8 105.8L102.0 111.2L105.4 123.6L108.1 131.2Z" fill="#ffab00"/><path d="M124.0 125.5L135.3 132.7L139.3 131.3L142.0 128.8L142.0 103.1L124.0 105.9Z" fill="#614727"/><path d="M142.0 103.1L142.0 128.8L152.2 126.8L157.2 102.0L156.5 101.0L156.3 101.0L143.8 101.8Z" fill="#e38912"/><path d="M152.2 126.8L162.0 130.0L167.2 127.4L169.0 110.9L157.2 102.0Z" fill="#9f6622"/><path d="M169.0 110.9L167.2 127.4L178.0 132.2L188.0 128.2L188.0 112.2L184.1 108.8Z" fill="#ffff00"/><path d="M207.7 108.5L188.0 112.2L188.0 128.2L195.4 133.4L198.8 126.7L205.0 124.7L211.1 115.5L215.5 113.3Z" fill="#ffff00"/><path d="M125.9 157.2L125.3 147.1L134.4 136.3L135.3 132.7L124.0 125.5L108.1 131.2L117.7 157.8L118.4 160.7Z" fill="#614727"/><path d="M139.3 131.3L155.8 147.8L160.0 145.9L162.0 130.0L152.2 126.8L142.0 128.8Z" fill="#9f6622"/><path d="M162.0 130.0L160.0 145.9L168.8 149.3L176.7 142.8L178.0 132.2L167.2 127.4Z" fill="#614727"/><path d="M178.0 132.2L176.7 142.8L189.9 150.8L192.7 147.1L194.7 134.9L195.4 133.4L188.0 128.2Z" fill="#ffab00"/><path d="M141.3 151.4L154.0 150.3L155.8 147.8L139.3 131.3L135.3 132.7L134.4 136.3Z" fill="#9f6622"/><path d="M176.7 142.8L168.8 149.3L170.5 154.0L172.2 154.3L176.3 157.4L186.5 155.3L189.9 150.8Z" fill="#e38912"/><path d="M125.9 157.2L132.4 160.5L136.3 159.9L141.3 151.4L134.4 136.3L125.3 147.1Z" fill="#ffff00"/><path d="M136.3 159.9L145.6 166.3L154.0 164.9L154.0 150.3L141.3 151.4Z" fill="#ffab00"/><path d="M154.0 150.3L154.0 164.9L165.6 173.3L167.1 172.7L171.2 169.6L170.2 163.5L165.1 157.4L166.1 153.3L170.5 154.0L168.8 149.3L160.0 145.9L155.8 147.8Z" fill="#e38912"/><path d="M132.4 160.5L125.9 157.2L118.4 160.7L125.2 187.0L127.9 187.9Z" fill="#ffff00"/><path d="M127.9 187.9L131.3 189.0L136.5 188.2L145.6 166.3L136.3 159.9L132.4 160.5Z" fill="#ffff00"/><path d="M154.0 164.9L145.6 166.3L136.5 188.2L137.5 188.0L147.7 184.9L156.9 182.9L159.0 175.7L165.6 173.3Z" fill="#ffff00"/><use href="#roads"/><path d="M85.5 27.8L84.9 14.7L83.7 15.9L81.9 7.7L80.1 7.1L74.9 8.9L68.4 10.1L76.4 30.9ZM85.5 27.8L89.6 29.8L106.7 26.8L103.9 7.9L102.0 5.9L96.8 6.3L92.4 5.4L86.3 13.3L84.9 14.7ZM106.7 26.8L107.9 27.6L112.2 27.9L123.2 22.4L124.8 8.0L120.4 4.5L116.9 5.4L111.7 7.7L108.2 13.3L106.4 10.6L103.9 7.9ZM123.0 44.0L142.5 31.0L123.2 22.4L112.2 27.9ZM123.2 22.4L142.5 31.0L143.2 31.0L147.0 26.9L147.0 10.4L145.8 10.6L137.1 11.5L130.1 10.6L124.8 8.0L124.8 8.0ZM147.0 26.9L167.6 28.6L171.5 11.2L166.9 8.9L160.7 6.3L156.4 4.5L154.6 1.4L152.0 3.1L150.2 9.8L147.0 10.4ZM167.6 28.6L175.4 36.4L189.1 23.6L182.0 21.3L176.4 14.9L172.1 11.5L171.5 11.2ZM175.7 38.1L204.3 42.5L206.2 33.7L202.1 30.9L196.5 26.9L189.3 23.7L189.1 23.6L175.4 36.4ZM92.4 52.4L89.6 29.8L85.5 27.8L76.4 30.9L83.5 49.4L85.0 54.3ZM92.4 52.4L92.7 52.5L104.7 50.3L107.9 27.6L106.7 26.8L89.6 29.8ZM108.8 52.4L121.9 49.5L123.0 44.0L112.2 27.9L107.9 27.6L104.7 50.3ZM121.9 49.5L131.0 59.9L135.6 59.4L147.1 47.9L143.2 31.0L142.5 31.0L123.0 44.0ZM147.1 47.9L157.9 52.8L174.9 41.8L175.7 38.1L175.4 36.4L167.6 28.6L147.0 26.9L143.2 31.0ZM174.9 41.8L183.4 58.7L203.9 54.6L206.4 51.4L204.3 42.5L175.7 38.1ZM98.5 72.8L92.7 52.5L92.4 52.4L85.0 54.3L91.4 75.2ZM104.7 50.3L92.7 52.5L98.5 72.8L99.5 73.2L111.2 69.3L108.8 52.4ZM114.2 70.5L125.4 68.2L131.0 59.9L121.9 49.5L108.8 52.4L111.2 69.3ZM161.8 69.3L157.9 52.8L147.1 47.9L135.6 59.4L131.0 59.9L125.4 68.2L130.8 81.8L136.9 83.4L148.0 74.0L152.5 74.4ZM161.8 69.3L164.5 70.2L181.0 64.4L183.4 58.7L174.9 41.8L157.9 52.8ZM181.0 64.4L191.2 81.6L204.6 69.2L203.9 54.6L183.4 58.7ZM104.4 90.5L99.5 73.2L98.5 72.8L91.4 75.2L97.8 96.0ZM104.4 90.5L115.9 90.5L114.2 70.5L111.2 69.3L99.5 73.2ZM115.9 90.5L118.0 91.6L130.8 81.8L125.4 68.2L114.2 70.5ZM136.9 83.4L143.8 101.8L156.3 101.0L152.5 74.4L148.0 74.0ZM156.5 101.0L172.1 87.5L164.5 70.2L161.8 69.3L152.5 74.4L156.3 101.0ZM172.1 87.5L185.0 89.3L190.9 84.7L191.2 81.6L181.0 64.4L164.5 70.2ZM184.1 108.8L188.0 112.2L207.7 108.5L203.5 91.7L190.9 84.7L185.0 89.3ZM123.8 105.8L124.0 105.9L142.0 103.1L143.8 101.8L136.9 83.4L130.8 81.8L118.0 91.6ZM169.0 110.9L184.1 108.8L185.0 89.3L172.1 87.5L156.5 101.0L157.2 102.0ZM204.6 69.2L217.4 77.4L225.0 68.4L219.4 53.4L206.4 51.4L203.9 54.6ZM217.4 77.4L217.9 83.1L239.9 101.2L237.4 92.0L232.6 87.1L230.2 81.5L236.6 80.7L240.7 80.7L247.8 78.3L243.3 70.5L225.0 68.4ZM204.3 42.5L206.4 51.4L219.4 53.4L231.0 46.4L231.0 23.7L225.4 20.5L221.4 23.7L215.0 30.1L206.9 34.1L206.2 33.7ZM231.0 46.4L244.5 54.5L259.8 44.7L259.1 43.0L254.3 34.1L250.3 27.7L243.9 30.9L238.3 22.1L231.0 23.7ZM244.5 54.5L243.3 70.5L247.8 78.3L250.3 77.5L257.5 75.1L262.8 71.1L262.3 68.7L264.0 61.4L266.4 57.4L272.0 53.4L277.9 50.5L269.6 48.6L261.5 48.6L259.8 44.7ZM225.0 68.4L243.3 70.5L244.5 54.5L231.0 46.4L219.4 53.4ZM191.2 81.6L190.9 84.7L203.5 91.7L217.9 83.1L217.4 77.4L204.6 69.2ZM217.9 83.1L203.5 91.7L207.7 108.5L215.5 113.3L219.2 111.4L227.4 113.4L233.5 110.3L240.5 103.5L239.9 101.2ZM97.8 96.0L98.7 98.9L102.0 111.2L123.8 105.8L118.0 91.6L115.9 90.5L104.4 90.5ZM124.0 125.5L124.0 105.9L123.8 105.8L102.0 111.2L105.4 123.6L108.1 131.2ZM124.0 125.5L135.3 132.7L139.3 131.3L142.0 128.8L142.0 103.1L124.0 105.9ZM142.0 103.1L142.0 128.8L152.2 126.8L157.2 102.0L156.5 101.0L156.3 101.0L143.8 101.8ZM152.2 126.8L162.0 130.0L167.2 127.4L169.0 110.9L157.2 102.0ZM169.0 110.9L167.2 127.4L178.0 132.2L188.0 128.2L188.0 112.2L184.1 108.8ZM207.7 108.5L188.0 112.2L188.0 128.2L195.4 133.4L198.8 126.7L205.0 124.7L211.1 115.5L215.5 113.3ZM125.9 157.2L125.3 147.1L134.4 136.3L135.3 132.7L124.0 125.5L108.1 131.2L117.7 157.8L118.4 160.7ZM139.3 131.3L155.8 147.8L160.0 145.9L162.0 130.0L152.2 126.8L142.0 128.8ZM162.0 130.0L160.0 145.9L168.8 149.3L176.7 142.8L178.0 132.2L167.2 127.4ZM178.0 132.2L176.7 142.8L189.9 150.8L192.7 147.1L194.7 134.9L195.4 133.4L188.0 128.2ZM141.3 151.4L154.0 150.3L155.8 147.8L139.3 131.3L135.3 132.7L134.4 136.3ZM176.7 142.8L168.8 149.3L170.5 154.0L172.2 154.3L176.3 157.4L186.5 155.3L189.9 150.8ZM125.9 157.2L132.4 160.5L136.3 159.9L141.3 151.4L134.4 136.3L125.3 147.1ZM136.3 159.9L145.6 166.3L154.0 164.9L154.0 150.3L141.3 151.4ZM154.0 150.3L154.0 164.9L165.6 173.3L167.1 172.7L171.2 169.6L170.2 163.5L165.1 157.4L166.1 153.3L170.5 154.0L168.8 149.3L160.0 145.9L155.8 147.8ZM132.4 160.5L125.9 157.2L118.4 160.7L125.2 187.0L127.9 187.9ZM127.9 187.9L131.3 189.0L136.5 188.2L145.6 166.3L136.3 159.9L132.4 160.5ZM154.0 164.9L145.6 166.3L136.5 188.2L137.5 188.0L147.7 184.9L156.9 182.9L159.0 175.7L165.6 173.3Z" fill="none" stroke="#1c1a00" stroke-width="0.7"/></g>
<use href="#mapov"/>
<text x="27" y="91.3" class="ml">&lt;20</text>
<rect x="0.25" y="0.25" width="278.8" height="197.5" fill="none" stroke="#b4b4b4" stroke-width="0.6"/>
<text x="192.8" y="178.5" class="mt" textLength="81.2" lengthAdjust="spacingAndGlyphs">Fluvial Flood</text>
</g>
<g transform="translate(25 421.3)" clip-path="url(#mclip)">
<use href="#mapbg"/>
<g clip-path="url(#cityclip)"><path d="M85.5 27.8L84.9 14.7L83.7 15.9L81.9 7.7L80.1 7.1L74.9 8.9L68.4 10.1L76.4 30.9Z" fill="#e38912"/><path d="M85.5 27.8L89.6 29.8L106.7 26.8L103.9 7.9L102.0 5.9L96.8 6.3L92.4 5.4L86.3 13.3L84.9 14.7Z" fill="#ffab00"/><path d="M106.7 26.8L107.9 27.6L112.2 27.9L123.2 22.4L124.8 8.0L120.4 4.5L116.9 5.4L111.7 7.7L108.2 13.3L106.4 10.6L103.9 7.9Z" fill="#e38912"/><path d="M123.0 44.0L142.5 31.0L123.2 22.4L112.2 27.9Z" fill="#e38912"/><path d="M123.2 22.4L142.5 31.0L143.2 31.0L147.0 26.9L147.0 10.4L145.8 10.6L137.1 11.5L130.1 10.6L124.8 8.0L124.8 8.0Z" fill="#e38912"/><path d="M147.0 26.9L167.6 28.6L171.5 11.2L166.9 8.9L160.7 6.3L156.4 4.5L154.6 1.4L152.0 3.1L150.2 9.8L147.0 10.4Z" fill="#ffff00"/><path d="M167.6 28.6L175.4 36.4L189.1 23.6L182.0 21.3L176.4 14.9L172.1 11.5L171.5 11.2Z" fill="#e38912"/><path d="M175.7 38.1L204.3 42.5L206.2 33.7L202.1 30.9L196.5 26.9L189.3 23.7L189.1 23.6L175.4 36.4Z" fill="#e38912"/><path d="M92.4 52.4L89.6 29.8L85.5 27.8L76.4 30.9L83.5 49.4L85.0 54.3Z" fill="#614727"/><path d="M92.4 52.4L92.7 52.5L104.7 50.3L107.9 27.6L106.7 26.8L89.6 29.8Z" fill="#9f6622"/><path d="M108.8 52.4L121.9 49.5L123.0 44.0L112.2 27.9L107.9 27.6L104.7 50.3Z" fill="#9f6622"/><path d="M121.9 49.5L131.0 59.9L135.6 59.4L147.1 47.9L143.2 31.0L142.5 31.0L123.0 44.0Z" fill="#614727"/><path d="M147.1 47.9L157.9 52.8L174.9 41.8L175.7 38.1L175.4 36.4L167.6 28.6L147.0 26.9L143.2 31.0Z" fill="#9f6622"/><path d="M174.9 41.8L183.4 58.7L203.9 54.6L206.4 51.4L204.3 42.5L175.7 38.1Z" fill="#9f6622"/><path d="M98.5 72.8L92.7 52.5L92.4 52.4L85.0 54.3L91.4 75.2Z" fill="#9f6622"/><path d="M104.7 50.3L92.7 52.5L98.5 72.8L99.5 73.2L111.2 69.3L108.8 52.4Z" fill="#614727"/><path d="M114.2 70.5L125.4 68.2L131.0 59.9L121.9 49.5L108.8 52.4L111.2 69.3Z" fill="#ffab00"/><path d="M161.8 69.3L157.9 52.8L147.1 47.9L135.6 59.4L131.0 59.9L125.4 68.2L130.8 81.8L136.9 83.4L148.0 74.0L152.5 74.4Z" fill="#9f6622"/><path d="M161.8 69.3L164.5 70.2L181.0 64.4L183.4 58.7L174.9 41.8L157.9 52.8Z" fill="#9f6622"/><path d="M181.0 64.4L191.2 81.6L204.6 69.2L203.9 54.6L183.4 58.7Z" fill="#614727"/><path d="M104.4 90.5L99.5 73.2L98.5 72.8L91.4 75.2L97.8 96.0Z" fill="#e38912"/><path d="M104.4 90.5L115.9 90.5L114.2 70.5L111.2 69.3L99.5 73.2Z" fill="#9f6622"/><path d="M115.9 90.5L118.0 91.6L130.8 81.8L125.4 68.2L114.2 70.5Z" fill="#9f6622"/><path d="M136.9 83.4L143.8 101.8L156.3 101.0L152.5 74.4L148.0 74.0Z" fill="#ffff00"/><path d="M156.5 101.0L172.1 87.5L164.5 70.2L161.8 69.3L152.5 74.4L156.3 101.0Z" fill="#ffff00"/><path d="M172.1 87.5L185.0 89.3L190.9 84.7L191.2 81.6L181.0 64.4L164.5 70.2Z" fill="#ffab00"/><path d="M184.1 108.8L188.0 112.2L207.7 108.5L203.5 91.7L190.9 84.7L185.0 89.3Z" fill="#9f6622"/><path d="M123.8 105.8L124.0 105.9L142.0 103.1L143.8 101.8L136.9 83.4L130.8 81.8L118.0 91.6Z" fill="#614727"/><path d="M169.0 110.9L184.1 108.8L185.0 89.3L172.1 87.5L156.5 101.0L157.2 102.0Z" fill="#614727"/><path d="M204.6 69.2L217.4 77.4L225.0 68.4L219.4 53.4L206.4 51.4L203.9 54.6Z" fill="#614727"/><path d="M217.4 77.4L217.9 83.1L239.9 101.2L237.4 92.0L232.6 87.1L230.2 81.5L236.6 80.7L240.7 80.7L247.8 78.3L243.3 70.5L225.0 68.4Z" fill="#614727"/><path d="M204.3 42.5L206.4 51.4L219.4 53.4L231.0 46.4L231.0 23.7L225.4 20.5L221.4 23.7L215.0 30.1L206.9 34.1L206.2 33.7Z" fill="#ffab00"/><path d="M231.0 46.4L244.5 54.5L259.8 44.7L259.1 43.0L254.3 34.1L250.3 27.7L243.9 30.9L238.3 22.1L231.0 23.7Z" fill="#ffff00"/><path d="M244.5 54.5L243.3 70.5L247.8 78.3L250.3 77.5L257.5 75.1L262.8 71.1L262.3 68.7L264.0 61.4L266.4 57.4L272.0 53.4L277.9 50.5L269.6 48.6L261.5 48.6L259.8 44.7Z" fill="#ffff00"/><path d="M225.0 68.4L243.3 70.5L244.5 54.5L231.0 46.4L219.4 53.4Z" fill="#ffff00"/><path d="M191.2 81.6L190.9 84.7L203.5 91.7L217.9 83.1L217.4 77.4L204.6 69.2Z" fill="#614727"/><path d="M217.9 83.1L203.5 91.7L207.7 108.5L215.5 113.3L219.2 111.4L227.4 113.4L233.5 110.3L240.5 103.5L239.9 101.2Z" fill="#ffab00"/><path d="M97.8 96.0L98.7 98.9L102.0 111.2L123.8 105.8L118.0 91.6L115.9 90.5L104.4 90.5Z" fill="#e38912"/><path d="M124.0 125.5L124.0 105.9L123.8 105.8L102.0 111.2L105.4 123.6L108.1 131.2Z" fill="#614727"/><path d="M124.0 125.5L135.3 132.7L139.3 131.3L142.0 128.8L142.0 103.1L124.0 105.9Z" fill="#614727"/><path d="M142.0 103.1L142.0 128.8L152.2 126.8L157.2 102.0L156.5 101.0L156.3 101.0L143.8 101.8Z" fill="#614727"/><path d="M152.2 126.8L162.0 130.0L167.2 127.4L169.0 110.9L157.2 102.0Z" fill="#614727"/><path d="M169.0 110.9L167.2 127.4L178.0 132.2L188.0 128.2L188.0 112.2L184.1 108.8Z" fill="#ffab00"/><path d="M207.7 108.5L188.0 112.2L188.0 128.2L195.4 133.4L198.8 126.7L205.0 124.7L211.1 115.5L215.5 113.3Z" fill="#e38912"/><path d="M125.9 157.2L125.3 147.1L134.4 136.3L135.3 132.7L124.0 125.5L108.1 131.2L117.7 157.8L118.4 160.7Z" fill="#614727"/><path d="M139.3 131.3L155.8 147.8L160.0 145.9L162.0 130.0L152.2 126.8L142.0 128.8Z" fill="#9f6622"/><path d="M162.0 130.0L160.0 145.9L168.8 149.3L176.7 142.8L178.0 132.2L167.2 127.4Z" fill="#9f6622"/><path d="M178.0 132.2L176.7 142.8L189.9 150.8L192.7 147.1L194.7 134.9L195.4 133.4L188.0 128.2Z" fill="#ffab00"/><path d="M141.3 151.4L154.0 150.3L155.8 147.8L139.3 131.3L135.3 132.7L134.4 136.3Z" fill="#e38912"/><path d="M176.7 142.8L168.8 149.3L170.5 154.0L172.2 154.3L176.3 157.4L186.5 155.3L189.9 150.8Z" fill="#e38912"/><path d="M125.9 157.2L132.4 160.5L136.3 159.9L141.3 151.4L134.4 136.3L125.3 147.1Z" fill="#e38912"/><path d="M136.3 159.9L145.6 166.3L154.0 164.9L154.0 150.3L141.3 151.4Z" fill="#e38912"/><path d="M154.0 150.3L154.0 164.9L165.6 173.3L167.1 172.7L171.2 169.6L170.2 163.5L165.1 157.4L166.1 153.3L170.5 154.0L168.8 149.3L160.0 145.9L155.8 147.8Z" fill="#e38912"/><path d="M132.4 160.5L125.9 157.2L118.4 160.7L125.2 187.0L127.9 187.9Z" fill="#ffab00"/><path d="M127.9 187.9L131.3 189.0L136.5 188.2L145.6 166.3L136.3 159.9L132.4 160.5Z" fill="#e38912"/><path d="M154.0 164.9L145.6 166.3L136.5 188.2L137.5 188.0L147.7 184.9L156.9 182.9L159.0 175.7L165.6 173.3Z" fill="#9f6622"/><use href="#roads"/><path d="M85.5 27.8L84.9 14.7L83.7 15.9L81.9 7.7L80.1 7.1L74.9 8.9L68.4 10.1L76.4 30.9ZM85.5 27.8L89.6 29.8L106.7 26.8L103.9 7.9L102.0 5.9L96.8 6.3L92.4 5.4L86.3 13.3L84.9 14.7ZM106.7 26.8L107.9 27.6L112.2 27.9L123.2 22.4L124.8 8.0L120.4 4.5L116.9 5.4L111.7 7.7L108.2 13.3L106.4 10.6L103.9 7.9ZM123.0 44.0L142.5 31.0L123.2 22.4L112.2 27.9ZM123.2 22.4L142.5 31.0L143.2 31.0L147.0 26.9L147.0 10.4L145.8 10.6L137.1 11.5L130.1 10.6L124.8 8.0L124.8 8.0ZM147.0 26.9L167.6 28.6L171.5 11.2L166.9 8.9L160.7 6.3L156.4 4.5L154.6 1.4L152.0 3.1L150.2 9.8L147.0 10.4ZM167.6 28.6L175.4 36.4L189.1 23.6L182.0 21.3L176.4 14.9L172.1 11.5L171.5 11.2ZM175.7 38.1L204.3 42.5L206.2 33.7L202.1 30.9L196.5 26.9L189.3 23.7L189.1 23.6L175.4 36.4ZM92.4 52.4L89.6 29.8L85.5 27.8L76.4 30.9L83.5 49.4L85.0 54.3ZM92.4 52.4L92.7 52.5L104.7 50.3L107.9 27.6L106.7 26.8L89.6 29.8ZM108.8 52.4L121.9 49.5L123.0 44.0L112.2 27.9L107.9 27.6L104.7 50.3ZM121.9 49.5L131.0 59.9L135.6 59.4L147.1 47.9L143.2 31.0L142.5 31.0L123.0 44.0ZM147.1 47.9L157.9 52.8L174.9 41.8L175.7 38.1L175.4 36.4L167.6 28.6L147.0 26.9L143.2 31.0ZM174.9 41.8L183.4 58.7L203.9 54.6L206.4 51.4L204.3 42.5L175.7 38.1ZM98.5 72.8L92.7 52.5L92.4 52.4L85.0 54.3L91.4 75.2ZM104.7 50.3L92.7 52.5L98.5 72.8L99.5 73.2L111.2 69.3L108.8 52.4ZM114.2 70.5L125.4 68.2L131.0 59.9L121.9 49.5L108.8 52.4L111.2 69.3ZM161.8 69.3L157.9 52.8L147.1 47.9L135.6 59.4L131.0 59.9L125.4 68.2L130.8 81.8L136.9 83.4L148.0 74.0L152.5 74.4ZM161.8 69.3L164.5 70.2L181.0 64.4L183.4 58.7L174.9 41.8L157.9 52.8ZM181.0 64.4L191.2 81.6L204.6 69.2L203.9 54.6L183.4 58.7ZM104.4 90.5L99.5 73.2L98.5 72.8L91.4 75.2L97.8 96.0ZM104.4 90.5L115.9 90.5L114.2 70.5L111.2 69.3L99.5 73.2ZM115.9 90.5L118.0 91.6L130.8 81.8L125.4 68.2L114.2 70.5ZM136.9 83.4L143.8 101.8L156.3 101.0L152.5 74.4L148.0 74.0ZM156.5 101.0L172.1 87.5L164.5 70.2L161.8 69.3L152.5 74.4L156.3 101.0ZM172.1 87.5L185.0 89.3L190.9 84.7L191.2 81.6L181.0 64.4L164.5 70.2ZM184.1 108.8L188.0 112.2L207.7 108.5L203.5 91.7L190.9 84.7L185.0 89.3ZM123.8 105.8L124.0 105.9L142.0 103.1L143.8 101.8L136.9 83.4L130.8 81.8L118.0 91.6ZM169.0 110.9L184.1 108.8L185.0 89.3L172.1 87.5L156.5 101.0L157.2 102.0ZM204.6 69.2L217.4 77.4L225.0 68.4L219.4 53.4L206.4 51.4L203.9 54.6ZM217.4 77.4L217.9 83.1L239.9 101.2L237.4 92.0L232.6 87.1L230.2 81.5L236.6 80.7L240.7 80.7L247.8 78.3L243.3 70.5L225.0 68.4ZM204.3 42.5L206.4 51.4L219.4 53.4L231.0 46.4L231.0 23.7L225.4 20.5L221.4 23.7L215.0 30.1L206.9 34.1L206.2 33.7ZM231.0 46.4L244.5 54.5L259.8 44.7L259.1 43.0L254.3 34.1L250.3 27.7L243.9 30.9L238.3 22.1L231.0 23.7ZM244.5 54.5L243.3 70.5L247.8 78.3L250.3 77.5L257.5 75.1L262.8 71.1L262.3 68.7L264.0 61.4L266.4 57.4L272.0 53.4L277.9 50.5L269.6 48.6L261.5 48.6L259.8 44.7ZM225.0 68.4L243.3 70.5L244.5 54.5L231.0 46.4L219.4 53.4ZM191.2 81.6L190.9 84.7L203.5 91.7L217.9 83.1L217.4 77.4L204.6 69.2ZM217.9 83.1L203.5 91.7L207.7 108.5L215.5 113.3L219.2 111.4L227.4 113.4L233.5 110.3L240.5 103.5L239.9 101.2ZM97.8 96.0L98.7 98.9L102.0 111.2L123.8 105.8L118.0 91.6L115.9 90.5L104.4 90.5ZM124.0 125.5L124.0 105.9L123.8 105.8L102.0 111.2L105.4 123.6L108.1 131.2ZM124.0 125.5L135.3 132.7L139.3 131.3L142.0 128.8L142.0 103.1L124.0 105.9ZM142.0 103.1L142.0 128.8L152.2 126.8L157.2 102.0L156.5 101.0L156.3 101.0L143.8 101.8ZM152.2 126.8L162.0 130.0L167.2 127.4L169.0 110.9L157.2 102.0ZM169.0 110.9L167.2 127.4L178.0 132.2L188.0 128.2L188.0 112.2L184.1 108.8ZM207.7 108.5L188.0 112.2L188.0 128.2L195.4 133.4L198.8 126.7L205.0 124.7L211.1 115.5L215.5 113.3ZM125.9 157.2L125.3 147.1L134.4 136.3L135.3 132.7L124.0 125.5L108.1 131.2L117.7 157.8L118.4 160.7ZM139.3 131.3L155.8 147.8L160.0 145.9L162.0 130.0L152.2 126.8L142.0 128.8ZM162.0 130.0L160.0 145.9L168.8 149.3L176.7 142.8L178.0 132.2L167.2 127.4ZM178.0 132.2L176.7 142.8L189.9 150.8L192.7 147.1L194.7 134.9L195.4 133.4L188.0 128.2ZM141.3 151.4L154.0 150.3L155.8 147.8L139.3 131.3L135.3 132.7L134.4 136.3ZM176.7 142.8L168.8 149.3L170.5 154.0L172.2 154.3L176.3 157.4L186.5 155.3L189.9 150.8ZM125.9 157.2L132.4 160.5L136.3 159.9L141.3 151.4L134.4 136.3L125.3 147.1ZM136.3 159.9L145.6 166.3L154.0 164.9L154.0 150.3L141.3 151.4ZM154.0 150.3L154.0 164.9L165.6 173.3L167.1 172.7L171.2 169.6L170.2 163.5L165.1 157.4L166.1 153.3L170.5 154.0L168.8 149.3L160.0 145.9L155.8 147.8ZM132.4 160.5L125.9 157.2L118.4 160.7L125.2 187.0L127.9 187.9ZM127.9 187.9L131.3 189.0L136.5 188.2L145.6 166.3L136.3 159.9L132.4 160.5ZM154.0 164.9L145.6 166.3L136.5 188.2L137.5 188.0L147.7 184.9L156.9 182.9L159.0 175.7L165.6 173.3Z" fill="none" stroke="#1c1a00" stroke-width="0.7"/></g>
<use href="#mapov"/>
<text x="27" y="91.3" class="ml">&lt;20</text>
<rect x="0.25" y="0.25" width="278.8" height="197.5" fill="none" stroke="#b4b4b4" stroke-width="0.6"/>
<text x="192.5" y="179.2" class="mt" textLength="82.1" lengthAdjust="spacingAndGlyphs">Pluvial Flood</text>
</g>
<g transform="translate(25 629.3)" clip-path="url(#mclip)">
<use href="#mapbg"/>
<g clip-path="url(#cityclip)"><path d="M85.5 27.8L84.9 14.7L83.7 15.9L81.9 7.7L80.1 7.1L74.9 8.9L68.4 10.1L76.4 30.9Z" fill="#e38912"/><path d="M85.5 27.8L89.6 29.8L106.7 26.8L103.9 7.9L102.0 5.9L96.8 6.3L92.4 5.4L86.3 13.3L84.9 14.7Z" fill="#ffab00"/><path d="M106.7 26.8L107.9 27.6L112.2 27.9L123.2 22.4L124.8 8.0L120.4 4.5L116.9 5.4L111.7 7.7L108.2 13.3L106.4 10.6L103.9 7.9Z" fill="#e38912"/><path d="M123.0 44.0L142.5 31.0L123.2 22.4L112.2 27.9Z" fill="#e38912"/><path d="M123.2 22.4L142.5 31.0L143.2 31.0L147.0 26.9L147.0 10.4L145.8 10.6L137.1 11.5L130.1 10.6L124.8 8.0L124.8 8.0Z" fill="#e38912"/><path d="M147.0 26.9L167.6 28.6L171.5 11.2L166.9 8.9L160.7 6.3L156.4 4.5L154.6 1.4L152.0 3.1L150.2 9.8L147.0 10.4Z" fill="#ffab00"/><path d="M167.6 28.6L175.4 36.4L189.1 23.6L182.0 21.3L176.4 14.9L172.1 11.5L171.5 11.2Z" fill="#e38912"/><path d="M175.7 38.1L204.3 42.5L206.2 33.7L202.1 30.9L196.5 26.9L189.3 23.7L189.1 23.6L175.4 36.4Z" fill="#e38912"/><path d="M92.4 52.4L89.6 29.8L85.5 27.8L76.4 30.9L83.5 49.4L85.0 54.3Z" fill="#614727"/><path d="M92.4 52.4L92.7 52.5L104.7 50.3L107.9 27.6L106.7 26.8L89.6 29.8Z" fill="#9f6622"/><path d="M108.8 52.4L121.9 49.5L123.0 44.0L112.2 27.9L107.9 27.6L104.7 50.3Z" fill="#9f6622"/><path d="M121.9 49.5L131.0 59.9L135.6 59.4L147.1 47.9L143.2 31.0L142.5 31.0L123.0 44.0Z" fill="#614727"/><path d="M147.1 47.9L157.9 52.8L174.9 41.8L175.7 38.1L175.4 36.4L167.6 28.6L147.0 26.9L143.2 31.0Z" fill="#9f6622"/><path d="M174.9 41.8L183.4 58.7L203.9 54.6L206.4 51.4L204.3 42.5L175.7 38.1Z" fill="#9f6622"/><path d="M98.5 72.8L92.7 52.5L92.4 52.4L85.0 54.3L91.4 75.2Z" fill="#9f6622"/><path d="M104.7 50.3L92.7 52.5L98.5 72.8L99.5 73.2L111.2 69.3L108.8 52.4Z" fill="#614727"/><path d="M114.2 70.5L125.4 68.2L131.0 59.9L121.9 49.5L108.8 52.4L111.2 69.3Z" fill="#ffab00"/><path d="M161.8 69.3L157.9 52.8L147.1 47.9L135.6 59.4L131.0 59.9L125.4 68.2L130.8 81.8L136.9 83.4L148.0 74.0L152.5 74.4Z" fill="#9f6622"/><path d="M161.8 69.3L164.5 70.2L181.0 64.4L183.4 58.7L174.9 41.8L157.9 52.8Z" fill="#9f6622"/><path d="M181.0 64.4L191.2 81.6L204.6 69.2L203.9 54.6L183.4 58.7Z" fill="#614727"/><path d="M104.4 90.5L99.5 73.2L98.5 72.8L91.4 75.2L97.8 96.0Z" fill="#e38912"/><path d="M104.4 90.5L115.9 90.5L114.2 70.5L111.2 69.3L99.5 73.2Z" fill="#9f6622"/><path d="M115.9 90.5L118.0 91.6L130.8 81.8L125.4 68.2L114.2 70.5Z" fill="#9f6622"/><path d="M136.9 83.4L143.8 101.8L156.3 101.0L152.5 74.4L148.0 74.0Z" fill="#ffff00"/><path d="M156.5 101.0L172.1 87.5L164.5 70.2L161.8 69.3L152.5 74.4L156.3 101.0Z" fill="#ffab00"/><path d="M172.1 87.5L185.0 89.3L190.9 84.7L191.2 81.6L181.0 64.4L164.5 70.2Z" fill="#ffab00"/><path d="M184.1 108.8L188.0 112.2L207.7 108.5L203.5 91.7L190.9 84.7L185.0 89.3Z" fill="#9f6622"/><path d="M123.8 105.8L124.0 105.9L142.0 103.1L143.8 101.8L136.9 83.4L130.8 81.8L118.0 91.6Z" fill="#614727"/><path d="M169.0 110.9L184.1 108.8L185.0 89.3L172.1 87.5L156.5 101.0L157.2 102.0Z" fill="#614727"/><path d="M204.6 69.2L217.4 77.4L225.0 68.4L219.4 53.4L206.4 51.4L203.9 54.6Z" fill="#614727"/><path d="M217.4 77.4L217.9 83.1L239.9 101.2L237.4 92.0L232.6 87.1L230.2 81.5L236.6 80.7L240.7 80.7L247.8 78.3L243.3 70.5L225.0 68.4Z" fill="#614727"/><path d="M204.3 42.5L206.4 51.4L219.4 53.4L231.0 46.4L231.0 23.7L225.4 20.5L221.4 23.7L215.0 30.1L206.9 34.1L206.2 33.7Z" fill="#ffab00"/><path d="M231.0 46.4L244.5 54.5L259.8 44.7L259.1 43.0L254.3 34.1L250.3 27.7L243.9 30.9L238.3 22.1L231.0 23.7Z" fill="#ffff00"/><path d="M244.5 54.5L243.3 70.5L247.8 78.3L250.3 77.5L257.5 75.1L262.8 71.1L262.3 68.7L264.0 61.4L266.4 57.4L272.0 53.4L277.9 50.5L269.6 48.6L261.5 48.6L259.8 44.7Z" fill="#ffff00"/><path d="M225.0 68.4L243.3 70.5L244.5 54.5L231.0 46.4L219.4 53.4Z" fill="#ffff00"/><path d="M191.2 81.6L190.9 84.7L203.5 91.7L217.9 83.1L217.4 77.4L204.6 69.2Z" fill="#614727"/><path d="M217.9 83.1L203.5 91.7L207.7 108.5L215.5 113.3L219.2 111.4L227.4 113.4L233.5 110.3L240.5 103.5L239.9 101.2Z" fill="#ffab00"/><path d="M97.8 96.0L98.7 98.9L102.0 111.2L123.8 105.8L118.0 91.6L115.9 90.5L104.4 90.5Z" fill="#9f6622"/><path d="M124.0 125.5L124.0 105.9L123.8 105.8L102.0 111.2L105.4 123.6L108.1 131.2Z" fill="#614727"/><path d="M124.0 125.5L135.3 132.7L139.3 131.3L142.0 128.8L142.0 103.1L124.0 105.9Z" fill="#614727"/><path d="M142.0 103.1L142.0 128.8L152.2 126.8L157.2 102.0L156.5 101.0L156.3 101.0L143.8 101.8Z" fill="#614727"/><path d="M152.2 126.8L162.0 130.0L167.2 127.4L169.0 110.9L157.2 102.0Z" fill="#614727"/><path d="M169.0 110.9L167.2 127.4L178.0 132.2L188.0 128.2L188.0 112.2L184.1 108.8Z" fill="#ffab00"/><path d="M207.7 108.5L188.0 112.2L188.0 128.2L195.4 133.4L198.8 126.7L205.0 124.7L211.1 115.5L215.5 113.3Z" fill="#e38912"/><path d="M125.9 157.2L125.3 147.1L134.4 136.3L135.3 132.7L124.0 125.5L108.1 131.2L117.7 157.8L118.4 160.7Z" fill="#614727"/><path d="M139.3 131.3L155.8 147.8L160.0 145.9L162.0 130.0L152.2 126.8L142.0 128.8Z" fill="#9f6622"/><path d="M162.0 130.0L160.0 145.9L168.8 149.3L176.7 142.8L178.0 132.2L167.2 127.4Z" fill="#e38912"/><path d="M178.0 132.2L176.7 142.8L189.9 150.8L192.7 147.1L194.7 134.9L195.4 133.4L188.0 128.2Z" fill="#ffab00"/><path d="M141.3 151.4L154.0 150.3L155.8 147.8L139.3 131.3L135.3 132.7L134.4 136.3Z" fill="#e38912"/><path d="M176.7 142.8L168.8 149.3L170.5 154.0L172.2 154.3L176.3 157.4L186.5 155.3L189.9 150.8Z" fill="#e38912"/><path d="M125.9 157.2L132.4 160.5L136.3 159.9L141.3 151.4L134.4 136.3L125.3 147.1Z" fill="#e38912"/><path d="M136.3 159.9L145.6 166.3L154.0 164.9L154.0 150.3L141.3 151.4Z" fill="#e38912"/><path d="M154.0 150.3L154.0 164.9L165.6 173.3L167.1 172.7L171.2 169.6L170.2 163.5L165.1 157.4L166.1 153.3L170.5 154.0L168.8 149.3L160.0 145.9L155.8 147.8Z" fill="#e38912"/><path d="M132.4 160.5L125.9 157.2L118.4 160.7L125.2 187.0L127.9 187.9Z" fill="#ffab00"/><path d="M127.9 187.9L131.3 189.0L136.5 188.2L145.6 166.3L136.3 159.9L132.4 160.5Z" fill="#e38912"/><path d="M154.0 164.9L145.6 166.3L136.5 188.2L137.5 188.0L147.7 184.9L156.9 182.9L159.0 175.7L165.6 173.3Z" fill="#9f6622"/><use href="#roads"/><path d="M85.5 27.8L84.9 14.7L83.7 15.9L81.9 7.7L80.1 7.1L74.9 8.9L68.4 10.1L76.4 30.9ZM85.5 27.8L89.6 29.8L106.7 26.8L103.9 7.9L102.0 5.9L96.8 6.3L92.4 5.4L86.3 13.3L84.9 14.7ZM106.7 26.8L107.9 27.6L112.2 27.9L123.2 22.4L124.8 8.0L120.4 4.5L116.9 5.4L111.7 7.7L108.2 13.3L106.4 10.6L103.9 7.9ZM123.0 44.0L142.5 31.0L123.2 22.4L112.2 27.9ZM123.2 22.4L142.5 31.0L143.2 31.0L147.0 26.9L147.0 10.4L145.8 10.6L137.1 11.5L130.1 10.6L124.8 8.0L124.8 8.0ZM147.0 26.9L167.6 28.6L171.5 11.2L166.9 8.9L160.7 6.3L156.4 4.5L154.6 1.4L152.0 3.1L150.2 9.8L147.0 10.4ZM167.6 28.6L175.4 36.4L189.1 23.6L182.0 21.3L176.4 14.9L172.1 11.5L171.5 11.2ZM175.7 38.1L204.3 42.5L206.2 33.7L202.1 30.9L196.5 26.9L189.3 23.7L189.1 23.6L175.4 36.4ZM92.4 52.4L89.6 29.8L85.5 27.8L76.4 30.9L83.5 49.4L85.0 54.3ZM92.4 52.4L92.7 52.5L104.7 50.3L107.9 27.6L106.7 26.8L89.6 29.8ZM108.8 52.4L121.9 49.5L123.0 44.0L112.2 27.9L107.9 27.6L104.7 50.3ZM121.9 49.5L131.0 59.9L135.6 59.4L147.1 47.9L143.2 31.0L142.5 31.0L123.0 44.0ZM147.1 47.9L157.9 52.8L174.9 41.8L175.7 38.1L175.4 36.4L167.6 28.6L147.0 26.9L143.2 31.0ZM174.9 41.8L183.4 58.7L203.9 54.6L206.4 51.4L204.3 42.5L175.7 38.1ZM98.5 72.8L92.7 52.5L92.4 52.4L85.0 54.3L91.4 75.2ZM104.7 50.3L92.7 52.5L98.5 72.8L99.5 73.2L111.2 69.3L108.8 52.4ZM114.2 70.5L125.4 68.2L131.0 59.9L121.9 49.5L108.8 52.4L111.2 69.3ZM161.8 69.3L157.9 52.8L147.1 47.9L135.6 59.4L131.0 59.9L125.4 68.2L130.8 81.8L136.9 83.4L148.0 74.0L152.5 74.4ZM161.8 69.3L164.5 70.2L181.0 64.4L183.4 58.7L174.9 41.8L157.9 52.8ZM181.0 64.4L191.2 81.6L204.6 69.2L203.9 54.6L183.4 58.7ZM104.4 90.5L99.5 73.2L98.5 72.8L91.4 75.2L97.8 96.0ZM104.4 90.5L115.9 90.5L114.2 70.5L111.2 69.3L99.5 73.2ZM115.9 90.5L118.0 91.6L130.8 81.8L125.4 68.2L114.2 70.5ZM136.9 83.4L143.8 101.8L156.3 101.0L152.5 74.4L148.0 74.0ZM156.5 101.0L172.1 87.5L164.5 70.2L161.8 69.3L152.5 74.4L156.3 101.0ZM172.1 87.5L185.0 89.3L190.9 84.7L191.2 81.6L181.0 64.4L164.5 70.2ZM184.1 108.8L188.0 112.2L207.7 108.5L203.5 91.7L190.9 84.7L185.0 89.3ZM123.8 105.8L124.0 105.9L142.0 103.1L143.8 101.8L136.9 83.4L130.8 81.8L118.0 91.6ZM169.0 110.9L184.1 108.8L185.0 89.3L172.1 87.5L156.5 101.0L157.2 102.0ZM204.6 69.2L217.4 77.4L225.0 68.4L219.4 53.4L206.4 51.4L203.9 54.6ZM217.4 77.4L217.9 83.1L239.9 101.2L237.4 92.0L232.6 87.1L230.2 81.5L236.6 80.7L240.7 80.7L247.8 78.3L243.3 70.5L225.0 68.4ZM204.3 42.5L206.4 51.4L219.4 53.4L231.0 46.4L231.0 23.7L225.4 20.5L221.4 23.7L215.0 30.1L206.9 34.1L206.2 33.7ZM231.0 46.4L244.5 54.5L259.8 44.7L259.1 43.0L254.3 34.1L250.3 27.7L243.9 30.9L238.3 22.1L231.0 23.7ZM244.5 54.5L243.3 70.5L247.8 78.3L250.3 77.5L257.5 75.1L262.8 71.1L262.3 68.7L264.0 61.4L266.4 57.4L272.0 53.4L277.9 50.5L269.6 48.6L261.5 48.6L259.8 44.7ZM225.0 68.4L243.3 70.5L244.5 54.5L231.0 46.4L219.4 53.4ZM191.2 81.6L190.9 84.7L203.5 91.7L217.9 83.1L217.4 77.4L204.6 69.2ZM217.9 83.1L203.5 91.7L207.7 108.5L215.5 113.3L219.2 111.4L227.4 113.4L233.5 110.3L240.5 103.5L239.9 101.2ZM97.8 96.0L98.7 98.9L102.0 111.2L123.8 105.8L118.0 91.6L115.9 90.5L104.4 90.5ZM124.0 125.5L124.0 105.9L123.8 105.8L102.0 111.2L105.4 123.6L108.1 131.2ZM124.0 125.5L135.3 132.7L139.3 131.3L142.0 128.8L142.0 103.1L124.0 105.9ZM142.0 103.1L142.0 128.8L152.2 126.8L157.2 102.0L156.5 101.0L156.3 101.0L143.8 101.8ZM152.2 126.8L162.0 130.0L167.2 127.4L169.0 110.9L157.2 102.0ZM169.0 110.9L167.2 127.4L178.0 132.2L188.0 128.2L188.0 112.2L184.1 108.8ZM207.7 108.5L188.0 112.2L188.0 128.2L195.4 133.4L198.8 126.7L205.0 124.7L211.1 115.5L215.5 113.3ZM125.9 157.2L125.3 147.1L134.4 136.3L135.3 132.7L124.0 125.5L108.1 131.2L117.7 157.8L118.4 160.7ZM139.3 131.3L155.8 147.8L160.0 145.9L162.0 130.0L152.2 126.8L142.0 128.8ZM162.0 130.0L160.0 145.9L168.8 149.3L176.7 142.8L178.0 132.2L167.2 127.4ZM178.0 132.2L176.7 142.8L189.9 150.8L192.7 147.1L194.7 134.9L195.4 133.4L188.0 128.2ZM141.3 151.4L154.0 150.3L155.8 147.8L139.3 131.3L135.3 132.7L134.4 136.3ZM176.7 142.8L168.8 149.3L170.5 154.0L172.2 154.3L176.3 157.4L186.5 155.3L189.9 150.8ZM125.9 157.2L132.4 160.5L136.3 159.9L141.3 151.4L134.4 136.3L125.3 147.1ZM136.3 159.9L145.6 166.3L154.0 164.9L154.0 150.3L141.3 151.4ZM154.0 150.3L154.0 164.9L165.6 173.3L167.1 172.7L171.2 169.6L170.2 163.5L165.1 157.4L166.1 153.3L170.5 154.0L168.8 149.3L160.0 145.9L155.8 147.8ZM132.4 160.5L125.9 157.2L118.4 160.7L125.2 187.0L127.9 187.9ZM127.9 187.9L131.3 189.0L136.5 188.2L145.6 166.3L136.3 159.9L132.4 160.5ZM154.0 164.9L145.6 166.3L136.5 188.2L137.5 188.0L147.7 184.9L156.9 182.9L159.0 175.7L165.6 173.3Z" fill="none" stroke="#1c1a00" stroke-width="0.7"/></g>
<use href="#mapov"/>
<text x="27" y="91.3" class="ml">&lt;20</text>
<rect x="0.25" y="0.25" width="278.8" height="197.5" fill="none" stroke="#b4b4b4" stroke-width="0.6"/>
<text x="171" y="178.1" class="mt" textLength="109" lengthAdjust="spacingAndGlyphs">Compound Flood</text>
</g>
<g transform="translate(25 837.0)" clip-path="url(#mclip)">
<use href="#mapbg"/>
<g clip-path="url(#cityclip)"><path d="M85.5 27.8L84.9 14.7L83.7 15.9L81.9 7.7L80.1 7.1L74.9 8.9L68.4 10.1L76.4 30.9Z" fill="#e38912"/><path d="M85.5 27.8L89.6 29.8L106.7 26.8L103.9 7.9L102.0 5.9L96.8 6.3L92.4 5.4L86.3 13.3L84.9 14.7Z" fill="#ffab00"/><path d="M106.7 26.8L107.9 27.6L112.2 27.9L123.2 22.4L124.8 8.0L120.4 4.5L116.9 5.4L111.7 7.7L108.2 13.3L106.4 10.6L103.9 7.9Z" fill="#e38912"/><path d="M123.0 44.0L142.5 31.0L123.2 22.4L112.2 27.9Z" fill="#e38912"/><path d="M123.2 22.4L142.5 31.0L143.2 31.0L147.0 26.9L147.0 10.4L145.8 10.6L137.1 11.5L130.1 10.6L124.8 8.0L124.8 8.0Z" fill="#e38912"/><path d="M147.0 26.9L167.6 28.6L171.5 11.2L166.9 8.9L160.7 6.3L156.4 4.5L154.6 1.4L152.0 3.1L150.2 9.8L147.0 10.4Z" fill="#ffff00"/><path d="M167.6 28.6L175.4 36.4L189.1 23.6L182.0 21.3L176.4 14.9L172.1 11.5L171.5 11.2Z" fill="#e38912"/><path d="M175.7 38.1L204.3 42.5L206.2 33.7L202.1 30.9L196.5 26.9L189.3 23.7L189.1 23.6L175.4 36.4Z" fill="#e38912"/><path d="M92.4 52.4L89.6 29.8L85.5 27.8L76.4 30.9L83.5 49.4L85.0 54.3Z" fill="#614727"/><path d="M92.4 52.4L92.7 52.5L104.7 50.3L107.9 27.6L106.7 26.8L89.6 29.8Z" fill="#9f6622"/><path d="M108.8 52.4L121.9 49.5L123.0 44.0L112.2 27.9L107.9 27.6L104.7 50.3Z" fill="#9f6622"/><path d="M121.9 49.5L131.0 59.9L135.6 59.4L147.1 47.9L143.2 31.0L142.5 31.0L123.0 44.0Z" fill="#614727"/><path d="M147.1 47.9L157.9 52.8L174.9 41.8L175.7 38.1L175.4 36.4L167.6 28.6L147.0 26.9L143.2 31.0Z" fill="#9f6622"/><path d="M174.9 41.8L183.4 58.7L203.9 54.6L206.4 51.4L204.3 42.5L175.7 38.1Z" fill="#9f6622"/><path d="M98.5 72.8L92.7 52.5L92.4 52.4L85.0 54.3L91.4 75.2Z" fill="#9f6622"/><path d="M104.7 50.3L92.7 52.5L98.5 72.8L99.5 73.2L111.2 69.3L108.8 52.4Z" fill="#614727"/><path d="M114.2 70.5L125.4 68.2L131.0 59.9L121.9 49.5L108.8 52.4L111.2 69.3Z" fill="#ffab00"/><path d="M161.8 69.3L157.9 52.8L147.1 47.9L135.6 59.4L131.0 59.9L125.4 68.2L130.8 81.8L136.9 83.4L148.0 74.0L152.5 74.4Z" fill="#9f6622"/><path d="M161.8 69.3L164.5 70.2L181.0 64.4L183.4 58.7L174.9 41.8L157.9 52.8Z" fill="#614727"/><path d="M181.0 64.4L191.2 81.6L204.6 69.2L203.9 54.6L183.4 58.7Z" fill="#614727"/><path d="M104.4 90.5L99.5 73.2L98.5 72.8L91.4 75.2L97.8 96.0Z" fill="#e38912"/><path d="M104.4 90.5L115.9 90.5L114.2 70.5L111.2 69.3L99.5 73.2Z" fill="#9f6622"/><path d="M115.9 90.5L118.0 91.6L130.8 81.8L125.4 68.2L114.2 70.5Z" fill="#9f6622"/><path d="M136.9 83.4L143.8 101.8L156.3 101.0L152.5 74.4L148.0 74.0Z" fill="#ffab00"/><path d="M156.5 101.0L172.1 87.5L164.5 70.2L161.8 69.3L152.5 74.4L156.3 101.0Z" fill="#9f6622"/><path d="M172.1 87.5L185.0 89.3L190.9 84.7L191.2 81.6L181.0 64.4L164.5 70.2Z" fill="#614727"/><path d="M184.1 108.8L188.0 112.2L207.7 108.5L203.5 91.7L190.9 84.7L185.0 89.3Z" fill="#e38912"/><path d="M123.8 105.8L124.0 105.9L142.0 103.1L143.8 101.8L136.9 83.4L130.8 81.8L118.0 91.6Z" fill="#614727"/><path d="M169.0 110.9L184.1 108.8L185.0 89.3L172.1 87.5L156.5 101.0L157.2 102.0Z" fill="#614727"/><path d="M204.6 69.2L217.4 77.4L225.0 68.4L219.4 53.4L206.4 51.4L203.9 54.6Z" fill="#614727"/><path d="M217.4 77.4L217.9 83.1L239.9 101.2L237.4 92.0L232.6 87.1L230.2 81.5L236.6 80.7L240.7 80.7L247.8 78.3L243.3 70.5L225.0 68.4Z" fill="#614727"/><path d="M204.3 42.5L206.4 51.4L219.4 53.4L231.0 46.4L231.0 23.7L225.4 20.5L221.4 23.7L215.0 30.1L206.9 34.1L206.2 33.7Z" fill="#ffab00"/><path d="M231.0 46.4L244.5 54.5L259.8 44.7L259.1 43.0L254.3 34.1L250.3 27.7L243.9 30.9L238.3 22.1L231.0 23.7Z" fill="#ffff00"/><path d="M244.5 54.5L243.3 70.5L247.8 78.3L250.3 77.5L257.5 75.1L262.8 71.1L262.3 68.7L264.0 61.4L266.4 57.4L272.0 53.4L277.9 50.5L269.6 48.6L261.5 48.6L259.8 44.7Z" fill="#ffff00"/><path d="M225.0 68.4L243.3 70.5L244.5 54.5L231.0 46.4L219.4 53.4Z" fill="#ffff00"/><path d="M191.2 81.6L190.9 84.7L203.5 91.7L217.9 83.1L217.4 77.4L204.6 69.2Z" fill="#614727"/><path d="M217.9 83.1L203.5 91.7L207.7 108.5L215.5 113.3L219.2 111.4L227.4 113.4L233.5 110.3L240.5 103.5L239.9 101.2Z" fill="#ffab00"/><path d="M97.8 96.0L98.7 98.9L102.0 111.2L123.8 105.8L118.0 91.6L115.9 90.5L104.4 90.5Z" fill="#9f6622"/><path d="M124.0 125.5L124.0 105.9L123.8 105.8L102.0 111.2L105.4 123.6L108.1 131.2Z" fill="#614727"/><path d="M124.0 125.5L135.3 132.7L139.3 131.3L142.0 128.8L142.0 103.1L124.0 105.9Z" fill="#614727"/><path d="M142.0 103.1L142.0 128.8L152.2 126.8L157.2 102.0L156.5 101.0L156.3 101.0L143.8 101.8Z" fill="#614727"/><path d="M152.2 126.8L162.0 130.0L167.2 127.4L169.0 110.9L157.2 102.0Z" fill="#614727"/><path d="M169.0 110.9L167.2 127.4L178.0 132.2L188.0 128.2L188.0 112.2L184.1 108.8Z" fill="#ffab00"/><path d="M207.7 108.5L188.0 112.2L188.0 128.2L195.4 133.4L198.8 126.7L205.0 124.7L211.1 115.5L215.5 113.3Z" fill="#e38912"/><path d="M125.9 157.2L125.3 147.1L134.4 136.3L135.3 132.7L124.0 125.5L108.1 131.2L117.7 157.8L118.4 160.7Z" fill="#614727"/><path d="M139.3 131.3L155.8 147.8L160.0 145.9L162.0 130.0L152.2 126.8L142.0 128.8Z" fill="#614727"/><path d="M162.0 130.0L160.0 145.9L168.8 149.3L176.7 142.8L178.0 132.2L167.2 127.4Z" fill="#614727"/><path d="M178.0 132.2L176.7 142.8L189.9 150.8L192.7 147.1L194.7 134.9L195.4 133.4L188.0 128.2Z" fill="#e38912"/><path d="M141.3 151.4L154.0 150.3L155.8 147.8L139.3 131.3L135.3 132.7L134.4 136.3Z" fill="#614727"/><path d="M176.7 142.8L168.8 149.3L170.5 154.0L172.2 154.3L176.3 157.4L186.5 155.3L189.9 150.8Z" fill="#614727"/><path d="M125.9 157.2L132.4 160.5L136.3 159.9L141.3 151.4L134.4 136.3L125.3 147.1Z" fill="#e38912"/><path d="M136.3 159.9L145.6 166.3L154.0 164.9L154.0 150.3L141.3 151.4Z" fill="#e38912"/><path d="M154.0 150.3L154.0 164.9L165.6 173.3L167.1 172.7L171.2 169.6L170.2 163.5L165.1 157.4L166.1 153.3L170.5 154.0L168.8 149.3L160.0 145.9L155.8 147.8Z" fill="#9f6622"/><path d="M132.4 160.5L125.9 157.2L118.4 160.7L125.2 187.0L127.9 187.9Z" fill="#ffab00"/><path d="M127.9 187.9L131.3 189.0L136.5 188.2L145.6 166.3L136.3 159.9L132.4 160.5Z" fill="#e38912"/><path d="M154.0 164.9L145.6 166.3L136.5 188.2L137.5 188.0L147.7 184.9L156.9 182.9L159.0 175.7L165.6 173.3Z" fill="#9f6622"/><use href="#roads"/><path d="M85.5 27.8L84.9 14.7L83.7 15.9L81.9 7.7L80.1 7.1L74.9 8.9L68.4 10.1L76.4 30.9ZM85.5 27.8L89.6 29.8L106.7 26.8L103.9 7.9L102.0 5.9L96.8 6.3L92.4 5.4L86.3 13.3L84.9 14.7ZM106.7 26.8L107.9 27.6L112.2 27.9L123.2 22.4L124.8 8.0L120.4 4.5L116.9 5.4L111.7 7.7L108.2 13.3L106.4 10.6L103.9 7.9ZM123.0 44.0L142.5 31.0L123.2 22.4L112.2 27.9ZM123.2 22.4L142.5 31.0L143.2 31.0L147.0 26.9L147.0 10.4L145.8 10.6L137.1 11.5L130.1 10.6L124.8 8.0L124.8 8.0ZM147.0 26.9L167.6 28.6L171.5 11.2L166.9 8.9L160.7 6.3L156.4 4.5L154.6 1.4L152.0 3.1L150.2 9.8L147.0 10.4ZM167.6 28.6L175.4 36.4L189.1 23.6L182.0 21.3L176.4 14.9L172.1 11.5L171.5 11.2ZM175.7 38.1L204.3 42.5L206.2 33.7L202.1 30.9L196.5 26.9L189.3 23.7L189.1 23.6L175.4 36.4ZM92.4 52.4L89.6 29.8L85.5 27.8L76.4 30.9L83.5 49.4L85.0 54.3ZM92.4 52.4L92.7 52.5L104.7 50.3L107.9 27.6L106.7 26.8L89.6 29.8ZM108.8 52.4L121.9 49.5L123.0 44.0L112.2 27.9L107.9 27.6L104.7 50.3ZM121.9 49.5L131.0 59.9L135.6 59.4L147.1 47.9L143.2 31.0L142.5 31.0L123.0 44.0ZM147.1 47.9L157.9 52.8L174.9 41.8L175.7 38.1L175.4 36.4L167.6 28.6L147.0 26.9L143.2 31.0ZM174.9 41.8L183.4 58.7L203.9 54.6L206.4 51.4L204.3 42.5L175.7 38.1ZM98.5 72.8L92.7 52.5L92.4 52.4L85.0 54.3L91.4 75.2ZM104.7 50.3L92.7 52.5L98.5 72.8L99.5 73.2L111.2 69.3L108.8 52.4ZM114.2 70.5L125.4 68.2L131.0 59.9L121.9 49.5L108.8 52.4L111.2 69.3ZM161.8 69.3L157.9 52.8L147.1 47.9L135.6 59.4L131.0 59.9L125.4 68.2L130.8 81.8L136.9 83.4L148.0 74.0L152.5 74.4ZM161.8 69.3L164.5 70.2L181.0 64.4L183.4 58.7L174.9 41.8L157.9 52.8ZM181.0 64.4L191.2 81.6L204.6 69.2L203.9 54.6L183.4 58.7ZM104.4 90.5L99.5 73.2L98.5 72.8L91.4 75.2L97.8 96.0ZM104.4 90.5L115.9 90.5L114.2 70.5L111.2 69.3L99.5 73.2ZM115.9 90.5L118.0 91.6L130.8 81.8L125.4 68.2L114.2 70.5ZM136.9 83.4L143.8 101.8L156.3 101.0L152.5 74.4L148.0 74.0ZM156.5 101.0L172.1 87.5L164.5 70.2L161.8 69.3L152.5 74.4L156.3 101.0ZM172.1 87.5L185.0 89.3L190.9 84.7L191.2 81.6L181.0 64.4L164.5 70.2ZM184.1 108.8L188.0 112.2L207.7 108.5L203.5 91.7L190.9 84.7L185.0 89.3ZM123.8 105.8L124.0 105.9L142.0 103.1L143.8 101.8L136.9 83.4L130.8 81.8L118.0 91.6ZM169.0 110.9L184.1 108.8L185.0 89.3L172.1 87.5L156.5 101.0L157.2 102.0ZM204.6 69.2L217.4 77.4L225.0 68.4L219.4 53.4L206.4 51.4L203.9 54.6ZM217.4 77.4L217.9 83.1L239.9 101.2L237.4 92.0L232.6 87.1L230.2 81.5L236.6 80.7L240.7 80.7L247.8 78.3L243.3 70.5L225.0 68.4ZM204.3 42.5L206.4 51.4L219.4 53.4L231.0 46.4L231.0 23.7L225.4 20.5L221.4 23.7L215.0 30.1L206.9 34.1L206.2 33.7ZM231.0 46.4L244.5 54.5L259.8 44.7L259.1 43.0L254.3 34.1L250.3 27.7L243.9 30.9L238.3 22.1L231.0 23.7ZM244.5 54.5L243.3 70.5L247.8 78.3L250.3 77.5L257.5 75.1L262.8 71.1L262.3 68.7L264.0 61.4L266.4 57.4L272.0 53.4L277.9 50.5L269.6 48.6L261.5 48.6L259.8 44.7ZM225.0 68.4L243.3 70.5L244.5 54.5L231.0 46.4L219.4 53.4ZM191.2 81.6L190.9 84.7L203.5 91.7L217.9 83.1L217.4 77.4L204.6 69.2ZM217.9 83.1L203.5 91.7L207.7 108.5L215.5 113.3L219.2 111.4L227.4 113.4L233.5 110.3L240.5 103.5L239.9 101.2ZM97.8 96.0L98.7 98.9L102.0 111.2L123.8 105.8L118.0 91.6L115.9 90.5L104.4 90.5ZM124.0 125.5L124.0 105.9L123.8 105.8L102.0 111.2L105.4 123.6L108.1 131.2ZM124.0 125.5L135.3 132.7L139.3 131.3L142.0 128.8L142.0 103.1L124.0 105.9ZM142.0 103.1L142.0 128.8L152.2 126.8L157.2 102.0L156.5 101.0L156.3 101.0L143.8 101.8ZM152.2 126.8L162.0 130.0L167.2 127.4L169.0 110.9L157.2 102.0ZM169.0 110.9L167.2 127.4L178.0 132.2L188.0 128.2L188.0 112.2L184.1 108.8ZM207.7 108.5L188.0 112.2L188.0 128.2L195.4 133.4L198.8 126.7L205.0 124.7L211.1 115.5L215.5 113.3ZM125.9 157.2L125.3 147.1L134.4 136.3L135.3 132.7L124.0 125.5L108.1 131.2L117.7 157.8L118.4 160.7ZM139.3 131.3L155.8 147.8L160.0 145.9L162.0 130.0L152.2 126.8L142.0 128.8ZM162.0 130.0L160.0 145.9L168.8 149.3L176.7 142.8L178.0 132.2L167.2 127.4ZM178.0 132.2L176.7 142.8L189.9 150.8L192.7 147.1L194.7 134.9L195.4 133.4L188.0 128.2ZM141.3 151.4L154.0 150.3L155.8 147.8L139.3 131.3L135.3 132.7L134.4 136.3ZM176.7 142.8L168.8 149.3L170.5 154.0L172.2 154.3L176.3 157.4L186.5 155.3L189.9 150.8ZM125.9 157.2L132.4 160.5L136.3 159.9L141.3 151.4L134.4 136.3L125.3 147.1ZM136.3 159.9L145.6 166.3L154.0 164.9L154.0 150.3L141.3 151.4ZM154.0 150.3L154.0 164.9L165.6 173.3L167.1 172.7L171.2 169.6L170.2 163.5L165.1 157.4L166.1 153.3L170.5 154.0L168.8 149.3L160.0 145.9L155.8 147.8ZM132.4 160.5L125.9 157.2L118.4 160.7L125.2 187.0L127.9 187.9ZM127.9 187.9L131.3 189.0L136.5 188.2L145.6 166.3L136.3 159.9L132.4 160.5ZM154.0 164.9L145.6 166.3L136.5 188.2L137.5 188.0L147.7 184.9L156.9 182.9L159.0 175.7L165.6 173.3Z" fill="none" stroke="#1c1a00" stroke-width="0.7"/></g>
<use href="#mapov"/>
<text x="27" y="91.3" class="ml">&lt;20</text>
<rect x="0.25" y="0.25" width="278.8" height="197.5" fill="none" stroke="#b4b4b4" stroke-width="0.6"/>
<text x="172.4" y="177.6" class="mt" textLength="107.6" lengthAdjust="spacingAndGlyphs">Composite Flood</text>
</g>
<rect x="382.3" y="14.4" width="271.6" height="120.9" fill="#f3f3f3" stroke="#c4c4c4" stroke-width="0.8"/>
<line x1="382.3" x2="653.9" y1="130.30" y2="130.30" stroke="#e2e2e2" stroke-width="0.5" stroke-dasharray="1.6,1"/>
<line x1="382.3" x2="653.9" y1="113.65" y2="113.65" stroke="#e2e2e2" stroke-width="0.5" stroke-dasharray="1.6,1"/>
<line x1="382.3" x2="653.9" y1="97.00" y2="97.00" stroke="#e2e2e2" stroke-width="0.5" stroke-dasharray="1.6,1"/>
<line x1="382.3" x2="653.9" y1="80.35" y2="80.35" stroke="#e2e2e2" stroke-width="0.5" stroke-dasharray="1.6,1"/>
<line x1="382.3" x2="653.9" y1="63.70" y2="63.70" stroke="#e2e2e2" stroke-width="0.5" stroke-dasharray="1.6,1"/>
<line x1="382.3" x2="653.9" y1="47.05" y2="47.05" stroke="#e2e2e2" stroke-width="0.5" stroke-dasharray="1.6,1"/>
<line x1="382.3" x2="653.9" y1="30.40" y2="30.40" stroke="#e2e2e2" stroke-width="0.5" stroke-dasharray="1.6,1"/>
<line x1="448.20" x2="448.20" y1="14.4" y2="135.3" stroke="#e2e2e2" stroke-width="0.5" stroke-dasharray="1.6,1"/>
<line x1="501.90" x2="501.90" y1="14.4" y2="135.3" stroke="#e2e2e2" stroke-width="0.5" stroke-dasharray="1.6,1"/>
<line x1="609.30" x2="609.30" y1="14.4" y2="135.3" stroke="#e2e2e2" stroke-width="0.5" stroke-dasharray="1.6,1"/>
<text x="380.3" y="132.90" text-anchor="end" class="tk">0</text>
<text x="380.3" y="116.25" text-anchor="end" class="tk">500</text>
<text x="380.3" y="99.60" text-anchor="end" class="tk">1000</text>
<text x="380.3" y="82.95" text-anchor="end" class="tk">1500</text>
<text x="380.3" y="66.30" text-anchor="end" class="tk">2000</text>
<text x="380.3" y="49.65" text-anchor="end" class="tk">2500</text>
<text x="380.3" y="33.00" text-anchor="end" class="tk">3000</text>
<polyline points="394.5,130.0 405.2,130.0 416.0,130.0 426.7,130.0 437.5,130.0 448.2,130.0 458.9,129.3 469.7,122.8 480.4,116.5 491.2,113.1 501.9,117.1 512.6,122.8 523.4,121.8 534.1,121.5 544.9,125.0 555.6,126.4 566.3,127.4 577.1,124.4 587.8,117.5 598.6,124.4 609.3,125.0 620.0,127.0 630.8,127.9 641.5,129.3" fill="none" stroke="#3b4cc0" stroke-width="0.9" stroke-dasharray="2.2,1.3"/>
<circle cx="394.5" cy="130.0" r="1.7" fill="#3b4cc0"/>
<circle cx="405.2" cy="130.0" r="1.7" fill="#3b4cc0"/>
<circle cx="416.0" cy="130.0" r="1.7" fill="#3b4cc0"/>
<circle cx="426.7" cy="130.0" r="1.7" fill="#3b4cc0"/>
<circle cx="437.5" cy="130.0" r="1.7" fill="#3b4cc0"/>
<circle cx="448.2" cy="130.0" r="1.7" fill="#3b4cc0"/>
<circle cx="458.9" cy="129.3" r="1.7" fill="#3b4cc0"/>
<circle cx="469.7" cy="122.8" r="1.7" fill="#3b4cc0"/>
<circle cx="480.4" cy="116.5" r="1.7" fill="#3b4cc0"/>
<circle cx="491.2" cy="113.1" r="1.7" fill="#3b4cc0"/>
<circle cx="501.9" cy="117.1" r="1.7" fill="#3b4cc0"/>
<circle cx="512.6" cy="122.8" r="1.7" fill="#3b4cc0"/>
<circle cx="523.4" cy="121.8" r="1.7" fill="#3b4cc0"/>
<circle cx="534.1" cy="121.5" r="1.7" fill="#3b4cc0"/>
<circle cx="544.9" cy="125.0" r="1.7" fill="#3b4cc0"/>
<circle cx="555.6" cy="126.4" r="1.7" fill="#3b4cc0"/>
<circle cx="566.3" cy="127.4" r="1.7" fill="#3b4cc0"/>
<circle cx="577.1" cy="124.4" r="1.7" fill="#3b4cc0"/>
<circle cx="587.8" cy="117.5" r="1.7" fill="#3b4cc0"/>
<circle cx="598.6" cy="124.4" r="1.7" fill="#3b4cc0"/>
<circle cx="609.3" cy="125.0" r="1.7" fill="#3b4cc0"/>
<circle cx="620.0" cy="127.0" r="1.7" fill="#3b4cc0"/>
<circle cx="630.8" cy="127.9" r="1.7" fill="#3b4cc0"/>
<circle cx="641.5" cy="129.3" r="1.7" fill="#3b4cc0"/>
<polyline points="394.5,129.8 405.2,129.8 416.0,129.8 426.7,129.8 437.5,129.8 448.2,129.8 458.9,128.3 469.7,119.5 480.4,114.6 491.2,113.7 501.9,114.6 512.6,120.1 523.4,120.5 534.1,120.5 544.9,122.8 555.6,124.4 566.3,127.7 577.1,124.4 587.8,117.5 598.6,124.0 609.3,124.4 620.0,126.4 630.8,127.9 641.5,129.3" fill="none" stroke="#7b9ff9" stroke-width="0.9"/>
<rect x="392.8" y="128.1" width="3.4" height="3.4" fill="#7b9ff9"/>
<rect x="403.5" y="128.1" width="3.4" height="3.4" fill="#7b9ff9"/>
<rect x="414.3" y="128.1" width="3.4" height="3.4" fill="#7b9ff9"/>
<rect x="425.0" y="128.1" width="3.4" height="3.4" fill="#7b9ff9"/>
<rect x="435.8" y="128.1" width="3.4" height="3.4" fill="#7b9ff9"/>
<rect x="446.5" y="128.1" width="3.4" height="3.4" fill="#7b9ff9"/>
<rect x="457.2" y="126.6" width="3.4" height="3.4" fill="#7b9ff9"/>
<rect x="468.0" y="117.8" width="3.4" height="3.4" fill="#7b9ff9"/>
<rect x="478.7" y="112.9" width="3.4" height="3.4" fill="#7b9ff9"/>
<rect x="489.5" y="112.0" width="3.4" height="3.4" fill="#7b9ff9"/>
<rect x="500.2" y="112.9" width="3.4" height="3.4" fill="#7b9ff9"/>
<rect x="510.9" y="118.4" width="3.4" height="3.4" fill="#7b9ff9"/>
<rect x="521.7" y="118.8" width="3.4" height="3.4" fill="#7b9ff9"/>
<rect x="532.4" y="118.8" width="3.4" height="3.4" fill="#7b9ff9"/>
<rect x="543.2" y="121.1" width="3.4" height="3.4" fill="#7b9ff9"/>
<rect x="553.9" y="122.7" width="3.4" height="3.4" fill="#7b9ff9"/>
<rect x="564.6" y="126.0" width="3.4" height="3.4" fill="#7b9ff9"/>
<rect x="575.4" y="122.7" width="3.4" height="3.4" fill="#7b9ff9"/>
<rect x="586.1" y="115.8" width="3.4" height="3.4" fill="#7b9ff9"/>
<rect x="596.9" y="122.3" width="3.4" height="3.4" fill="#7b9ff9"/>
<rect x="607.6" y="122.7" width="3.4" height="3.4" fill="#7b9ff9"/>
<rect x="618.3" y="124.7" width="3.4" height="3.4" fill="#7b9ff9"/>
<rect x="629.1" y="126.2" width="3.4" height="3.4" fill="#7b9ff9"/>
<rect x="639.8" y="127.6" width="3.4" height="3.4" fill="#7b9ff9"/>
<polyline points="394.5,129.6 405.2,129.5 416.0,129.3 426.7,129.1 437.5,128.8 448.2,128.3 458.9,117.5 469.7,103.8 480.4,105.8 491.2,107.4 501.9,108.7 512.6,109.7 523.4,109.7 534.1,117.1 544.9,117.1 555.6,117.5 566.3,120.9 577.1,119.5 587.8,119.1 598.6,121.5 609.3,124.4 620.0,126.4 630.8,127.9 641.5,129.3" fill="none" stroke="#c0d4f5" stroke-width="0.9"/>
<path d="M394.5 127.6L396.4 131.0H392.6Z" fill="#c0d4f5"/>
<path d="M405.2 127.5L407.1 130.9H403.3Z" fill="#c0d4f5"/>
<path d="M416.0 127.3L417.9 130.7H414.1Z" fill="#c0d4f5"/>
<path d="M426.7 127.1L428.6 130.5H424.8Z" fill="#c0d4f5"/>
<path d="M437.5 126.8L439.4 130.2H435.6Z" fill="#c0d4f5"/>
<path d="M448.2 126.3L450.1 129.7H446.3Z" fill="#c0d4f5"/>
<path d="M458.9 115.5L460.8 118.9H457.0Z" fill="#c0d4f5"/>
<path d="M469.7 101.8L471.6 105.2H467.8Z" fill="#c0d4f5"/>
<path d="M480.4 103.8L482.3 107.2H478.5Z" fill="#c0d4f5"/>
<path d="M491.2 105.4L493.1 108.8H489.3Z" fill="#c0d4f5"/>
<path d="M501.9 106.7L503.8 110.1H500.0Z" fill="#c0d4f5"/>
<path d="M512.6 107.7L514.5 111.1H510.7Z" fill="#c0d4f5"/>
<path d="M523.4 107.7L525.3 111.1H521.5Z" fill="#c0d4f5"/>
<path d="M534.1 115.1L536.0 118.5H532.2Z" fill="#c0d4f5"/>
<path d="M544.9 115.1L546.8 118.5H543.0Z" fill="#c0d4f5"/>
<path d="M555.6 115.5L557.5 118.9H553.7Z" fill="#c0d4f5"/>
<path d="M566.3 118.9L568.2 122.3H564.4Z" fill="#c0d4f5"/>
<path d="M577.1 117.5L579.0 120.9H575.2Z" fill="#c0d4f5"/>
<path d="M587.8 117.1L589.7 120.5H585.9Z" fill="#c0d4f5"/>
<path d="M598.6 119.5L600.5 122.9H596.7Z" fill="#c0d4f5"/>
<path d="M609.3 122.4L611.2 125.8H607.4Z" fill="#c0d4f5"/>
<path d="M620.0 124.4L621.9 127.8H618.1Z" fill="#c0d4f5"/>
<path d="M630.8 125.9L632.7 129.3H628.9Z" fill="#c0d4f5"/>
<path d="M641.5 127.3L643.4 130.7H639.6Z" fill="#c0d4f5"/>
<polyline points="394.5,130.0 405.2,129.0 416.0,128.0 426.7,127.3 437.5,125.6 448.2,125.0 458.9,84.2 469.7,74.4 480.4,73.5 491.2,59.4 501.9,64.3 512.6,74.8 523.4,77.4 534.1,87.8 544.9,96.9 555.6,102.2 566.3,106.2 577.1,104.4 587.8,112.7 598.6,121.5 609.3,123.4 620.0,127.4 630.8,128.3 641.5,129.3" fill="none" stroke="#f2cbb7" stroke-width="0.9"/>
<path d="M394.5 127.8L395.8 130.0L394.5 132.2L393.2 130.0Z" fill="#f2cbb7"/>
<path d="M405.2 126.8L406.5 129.0L405.2 131.2L403.9 129.0Z" fill="#f2cbb7"/>
<path d="M416.0 125.8L417.3 128.0L416.0 130.2L414.7 128.0Z" fill="#f2cbb7"/>
<path d="M426.7 125.1L428.0 127.3L426.7 129.5L425.4 127.3Z" fill="#f2cbb7"/>
<path d="M437.5 123.4L438.8 125.6L437.5 127.8L436.2 125.6Z" fill="#f2cbb7"/>
<path d="M448.2 122.8L449.5 125.0L448.2 127.2L446.9 125.0Z" fill="#f2cbb7"/>
<path d="M458.9 82.0L460.2 84.2L458.9 86.4L457.6 84.2Z" fill="#f2cbb7"/>
<path d="M469.7 72.2L471.0 74.4L469.7 76.6L468.4 74.4Z" fill="#f2cbb7"/>
<path d="M480.4 71.3L481.7 73.5L480.4 75.7L479.1 73.5Z" fill="#f2cbb7"/>
<path d="M491.2 57.2L492.5 59.4L491.2 61.6L489.9 59.4Z" fill="#f2cbb7"/>
<path d="M501.9 62.1L503.2 64.3L501.9 66.5L500.6 64.3Z" fill="#f2cbb7"/>
<path d="M512.6 72.6L513.9 74.8L512.6 77.0L511.3 74.8Z" fill="#f2cbb7"/>
<path d="M523.4 75.2L524.7 77.4L523.4 79.6L522.1 77.4Z" fill="#f2cbb7"/>
<path d="M534.1 85.6L535.4 87.8L534.1 90.0L532.8 87.8Z" fill="#f2cbb7"/>
<path d="M544.9 94.7L546.2 96.9L544.9 99.1L543.6 96.9Z" fill="#f2cbb7"/>
<path d="M555.6 100.0L556.9 102.2L555.6 104.4L554.3 102.2Z" fill="#f2cbb7"/>
<path d="M566.3 104.0L567.6 106.2L566.3 108.4L565.0 106.2Z" fill="#f2cbb7"/>
<path d="M577.1 102.2L578.4 104.4L577.1 106.6L575.8 104.4Z" fill="#f2cbb7"/>
<path d="M587.8 110.5L589.1 112.7L587.8 114.9L586.5 112.7Z" fill="#f2cbb7"/>
<path d="M598.6 119.3L599.9 121.5L598.6 123.7L597.3 121.5Z" fill="#f2cbb7"/>
<path d="M609.3 121.2L610.6 123.4L609.3 125.6L608.0 123.4Z" fill="#f2cbb7"/>
<path d="M620.0 125.2L621.3 127.4L620.0 129.6L618.7 127.4Z" fill="#f2cbb7"/>
<path d="M630.8 126.1L632.1 128.3L630.8 130.5L629.5 128.3Z" fill="#f2cbb7"/>
<path d="M641.5 127.1L642.8 129.3L641.5 131.5L640.2 129.3Z" fill="#f2cbb7"/>
<polyline points="394.5,129.6 405.2,128.5 416.0,127.5 426.7,127.0 437.5,124.8 448.2,124.3 458.9,76.4 469.7,63.3 480.4,57.8 491.2,52.9 501.9,47.2 512.6,62.7 523.4,66.6 534.1,76.8 544.9,82.4 555.6,90.7 566.3,96.9 577.1,94.1 587.8,103.4 598.6,116.5 609.3,122.4 620.0,125.0 630.8,127.7 641.5,129.6" fill="none" stroke="#ee8468" stroke-width="0.9"/>
<path d="M394.5 128.0L395.6 129.6L394.5 131.2L393.4 129.6Z" fill="#ee8468"/>
<path d="M405.2 126.9L406.3 128.5L405.2 130.1L404.1 128.5Z" fill="#ee8468"/>
<path d="M416.0 125.9L417.1 127.5L416.0 129.1L414.9 127.5Z" fill="#ee8468"/>
<path d="M426.7 125.4L427.8 127.0L426.7 128.6L425.6 127.0Z" fill="#ee8468"/>
<path d="M437.5 123.2L438.6 124.8L437.5 126.4L436.4 124.8Z" fill="#ee8468"/>
<path d="M448.2 122.7L449.3 124.3L448.2 125.9L447.1 124.3Z" fill="#ee8468"/>
<path d="M458.9 74.8L460.0 76.4L458.9 78.0L457.8 76.4Z" fill="#ee8468"/>
<path d="M469.7 61.7L470.8 63.3L469.7 64.9L468.6 63.3Z" fill="#ee8468"/>
<path d="M480.4 56.2L481.5 57.8L480.4 59.4L479.3 57.8Z" fill="#ee8468"/>
<path d="M491.2 51.3L492.3 52.9L491.2 54.5L490.1 52.9Z" fill="#ee8468"/>
<path d="M501.9 45.6L503.0 47.2L501.9 48.8L500.8 47.2Z" fill="#ee8468"/>
<path d="M512.6 61.1L513.7 62.7L512.6 64.3L511.5 62.7Z" fill="#ee8468"/>
<path d="M523.4 65.0L524.5 66.6L523.4 68.2L522.3 66.6Z" fill="#ee8468"/>
<path d="M534.1 75.2L535.2 76.8L534.1 78.4L533.0 76.8Z" fill="#ee8468"/>
<path d="M544.9 80.8L546.0 82.4L544.9 84.0L543.8 82.4Z" fill="#ee8468"/>
<path d="M555.6 89.1L556.7 90.7L555.6 92.3L554.5 90.7Z" fill="#ee8468"/>
<path d="M566.3 95.3L567.4 96.9L566.3 98.5L565.2 96.9Z" fill="#ee8468"/>
<path d="M577.1 92.5L578.2 94.1L577.1 95.7L576.0 94.1Z" fill="#ee8468"/>
<path d="M587.8 101.8L588.9 103.4L587.8 105.0L586.7 103.4Z" fill="#ee8468"/>
<path d="M598.6 114.9L599.7 116.5L598.6 118.1L597.5 116.5Z" fill="#ee8468"/>
<path d="M609.3 120.8L610.4 122.4L609.3 124.0L608.2 122.4Z" fill="#ee8468"/>
<path d="M620.0 123.4L621.1 125.0L620.0 126.6L618.9 125.0Z" fill="#ee8468"/>
<path d="M630.8 126.1L631.9 127.7L630.8 129.3L629.7 127.7Z" fill="#ee8468"/>
<path d="M641.5 128.0L642.6 129.6L641.5 131.2L640.4 129.6Z" fill="#ee8468"/>
<polyline points="394.5,129.6 405.2,128.4 416.0,126.7 426.7,126.3 437.5,124.0 448.2,123.3 458.9,69.4 469.7,37.9 480.4,32.4 491.2,20.6 501.9,27.4 512.6,44.1 523.4,52.3 534.1,65.0 544.9,76.4 555.6,83.6 566.3,94.5 577.1,88.3 587.8,90.3 598.6,106.8 609.3,114.0 620.0,121.8 630.8,125.4 641.5,129.3" fill="none" stroke="#b40426" stroke-width="0.9"/>
<path d="M394.5 127.4L396.3 129.6L394.5 131.8L392.7 129.6Z" fill="#b40426"/>
<path d="M405.2 126.2L407.0 128.4L405.2 130.6L403.4 128.4Z" fill="#b40426"/>
<path d="M416.0 124.5L417.8 126.7L416.0 128.9L414.2 126.7Z" fill="#b40426"/>
<path d="M426.7 124.1L428.5 126.3L426.7 128.5L424.9 126.3Z" fill="#b40426"/>
<path d="M437.5 121.8L439.3 124.0L437.5 126.2L435.7 124.0Z" fill="#b40426"/>
<path d="M448.2 121.1L450.0 123.3L448.2 125.5L446.4 123.3Z" fill="#b40426"/>
<path d="M458.9 67.2L460.7 69.4L458.9 71.6L457.1 69.4Z" fill="#b40426"/>
<path d="M469.7 35.7L471.5 37.9L469.7 40.1L467.9 37.9Z" fill="#b40426"/>
<path d="M480.4 30.2L482.2 32.4L480.4 34.6L478.6 32.4Z" fill="#b40426"/>
<path d="M491.2 18.4L493.0 20.6L491.2 22.8L489.4 20.6Z" fill="#b40426"/>
<path d="M501.9 25.2L503.7 27.4L501.9 29.6L500.1 27.4Z" fill="#b40426"/>
<path d="M512.6 41.9L514.4 44.1L512.6 46.3L510.8 44.1Z" fill="#b40426"/>
<path d="M523.4 50.1L525.2 52.3L523.4 54.5L521.6 52.3Z" fill="#b40426"/>
<path d="M534.1 62.8L535.9 65.0L534.1 67.2L532.3 65.0Z" fill="#b40426"/>
<path d="M544.9 74.2L546.7 76.4L544.9 78.6L543.1 76.4Z" fill="#b40426"/>
<path d="M555.6 81.4L557.4 83.6L555.6 85.8L553.8 83.6Z" fill="#b40426"/>
<path d="M566.3 92.3L568.1 94.5L566.3 96.7L564.5 94.5Z" fill="#b40426"/>
<path d="M577.1 86.1L578.9 88.3L577.1 90.5L575.3 88.3Z" fill="#b40426"/>
<path d="M587.8 88.1L589.6 90.3L587.8 92.5L586.0 90.3Z" fill="#b40426"/>
<path d="M598.6 104.6L600.4 106.8L598.6 109.0L596.8 106.8Z" fill="#b40426"/>
<path d="M609.3 111.8L611.1 114.0L609.3 116.2L607.5 114.0Z" fill="#b40426"/>
<path d="M620.0 119.6L621.8 121.8L620.0 124.0L618.2 121.8Z" fill="#b40426"/>
<path d="M630.8 123.2L632.6 125.4L630.8 127.6L629.0 125.4Z" fill="#b40426"/>
<path d="M641.5 127.1L643.3 129.3L641.5 131.5L639.7 129.3Z" fill="#b40426"/>
<text x="518" y="10.6" text-anchor="middle" class="ttl">Baseline</text>
<text transform="translate(362.4 95.2) rotate(-90)" class="yl" textLength="40.6" lengthAdjust="spacingAndGlyphs">Time Lost (hr)</text>
<rect x="382.3" y="148.3" width="271.6" height="120.2" fill="#f3f3f3" stroke="#c4c4c4" stroke-width="0.8"/>
<line x1="382.3" x2="653.9" y1="263.30" y2="263.30" stroke="#e2e2e2" stroke-width="0.5" stroke-dasharray="1.6,1"/>
<line x1="382.3" x2="653.9" y1="248.76" y2="248.76" stroke="#e2e2e2" stroke-width="0.5" stroke-dasharray="1.6,1"/>
<line x1="382.3" x2="653.9" y1="234.22" y2="234.22" stroke="#e2e2e2" stroke-width="0.5" stroke-dasharray="1.6,1"/>
<line x1="382.3" x2="653.9" y1="219.68" y2="219.68" stroke="#e2e2e2" stroke-width="0.5" stroke-dasharray="1.6,1"/>
<line x1="382.3" x2="653.9" y1="205.14" y2="205.14" stroke="#e2e2e2" stroke-width="0.5" stroke-dasharray="1.6,1"/>
<line x1="382.3" x2="653.9" y1="190.60" y2="190.60" stroke="#e2e2e2" stroke-width="0.5" stroke-dasharray="1.6,1"/>
<line x1="382.3" x2="653.9" y1="176.06" y2="176.06" stroke="#e2e2e2" stroke-width="0.5" stroke-dasharray="1.6,1"/>
<line x1="382.3" x2="653.9" y1="161.52" y2="161.52" stroke="#e2e2e2" stroke-width="0.5" stroke-dasharray="1.6,1"/>
<line x1="448.20" x2="448.20" y1="148.3" y2="268.5" stroke="#e2e2e2" stroke-width="0.5" stroke-dasharray="1.6,1"/>
<line x1="501.90" x2="501.90" y1="148.3" y2="268.5" stroke="#e2e2e2" stroke-width="0.5" stroke-dasharray="1.6,1"/>
<line x1="609.30" x2="609.30" y1="148.3" y2="268.5" stroke="#e2e2e2" stroke-width="0.5" stroke-dasharray="1.6,1"/>
<text x="380.3" y="265.90" text-anchor="end" class="tk">0</text>
<text x="380.3" y="251.36" text-anchor="end" class="tk">500</text>
<text x="380.3" y="236.82" text-anchor="end" class="tk">1000</text>
<text x="380.3" y="222.28" text-anchor="end" class="tk">1500</text>
<text x="380.3" y="207.74" text-anchor="end" class="tk">2000</text>
<text x="380.3" y="193.20" text-anchor="end" class="tk">2500</text>
<text x="380.3" y="178.66" text-anchor="end" class="tk">3000</text>
<text x="380.3" y="164.12" text-anchor="end" class="tk">3500</text>
<polyline points="394.5,263.0 405.2,263.0 416.0,263.0 426.7,263.0 437.5,263.0 448.2,263.0 458.9,262.7 469.7,257.3 480.4,251.4 491.2,250.5 501.9,252.4 512.6,257.0 523.4,256.4 534.1,256.0 544.9,258.9 555.6,260.3 566.3,261.3 577.1,258.9 587.8,252.4 598.6,258.7 609.3,258.9 620.0,260.3 630.8,261.3 641.5,263.2" fill="none" stroke="#3b4cc0" stroke-width="0.9" stroke-dasharray="2.2,1.3"/>
<circle cx="394.5" cy="263.0" r="1.7" fill="#3b4cc0"/>
<circle cx="405.2" cy="263.0" r="1.7" fill="#3b4cc0"/>
<circle cx="416.0" cy="263.0" r="1.7" fill="#3b4cc0"/>
<circle cx="426.7" cy="263.0" r="1.7" fill="#3b4cc0"/>
<circle cx="437.5" cy="263.0" r="1.7" fill="#3b4cc0"/>
<circle cx="448.2" cy="263.0" r="1.7" fill="#3b4cc0"/>
<circle cx="458.9" cy="262.7" r="1.7" fill="#3b4cc0"/>
<circle cx="469.7" cy="257.3" r="1.7" fill="#3b4cc0"/>
<circle cx="480.4" cy="251.4" r="1.7" fill="#3b4cc0"/>
<circle cx="491.2" cy="250.5" r="1.7" fill="#3b4cc0"/>
<circle cx="501.9" cy="252.4" r="1.7" fill="#3b4cc0"/>
<circle cx="512.6" cy="257.0" r="1.7" fill="#3b4cc0"/>
<circle cx="523.4" cy="256.4" r="1.7" fill="#3b4cc0"/>
<circle cx="534.1" cy="256.0" r="1.7" fill="#3b4cc0"/>
<circle cx="544.9" cy="258.9" r="1.7" fill="#3b4cc0"/>
<circle cx="555.6" cy="260.3" r="1.7" fill="#3b4cc0"/>
<circle cx="566.3" cy="261.3" r="1.7" fill="#3b4cc0"/>
<circle cx="577.1" cy="258.9" r="1.7" fill="#3b4cc0"/>
<circle cx="587.8" cy="252.4" r="1.7" fill="#3b4cc0"/>
<circle cx="598.6" cy="258.7" r="1.7" fill="#3b4cc0"/>
<circle cx="609.3" cy="258.9" r="1.7" fill="#3b4cc0"/>
<circle cx="620.0" cy="260.3" r="1.7" fill="#3b4cc0"/>
<circle cx="630.8" cy="261.3" r="1.7" fill="#3b4cc0"/>
<circle cx="641.5" cy="263.2" r="1.7" fill="#3b4cc0"/>
<polyline points="394.5,262.9 405.2,262.9 416.0,262.9 426.7,262.9 437.5,262.9 448.2,262.9 458.9,260.3 469.7,251.4 480.4,253.0 491.2,246.5 501.9,251.0 512.6,252.4 523.4,254.4 534.1,253.4 544.9,254.4 555.6,254.4 566.3,255.4 577.1,248.1 587.8,248.1 598.6,258.7 609.3,258.5 620.0,259.9 630.8,261.3 641.5,263.2" fill="none" stroke="#7b9ff9" stroke-width="0.9"/>
<rect x="392.8" y="261.2" width="3.4" height="3.4" fill="#7b9ff9"/>
<rect x="403.5" y="261.2" width="3.4" height="3.4" fill="#7b9ff9"/>
<rect x="414.3" y="261.2" width="3.4" height="3.4" fill="#7b9ff9"/>
<rect x="425.0" y="261.2" width="3.4" height="3.4" fill="#7b9ff9"/>
<rect x="435.8" y="261.2" width="3.4" height="3.4" fill="#7b9ff9"/>
<rect x="446.5" y="261.2" width="3.4" height="3.4" fill="#7b9ff9"/>
<rect x="457.2" y="258.6" width="3.4" height="3.4" fill="#7b9ff9"/>
<rect x="468.0" y="249.7" width="3.4" height="3.4" fill="#7b9ff9"/>
<rect x="478.7" y="251.3" width="3.4" height="3.4" fill="#7b9ff9"/>
<rect x="489.5" y="244.8" width="3.4" height="3.4" fill="#7b9ff9"/>
<rect x="500.2" y="249.3" width="3.4" height="3.4" fill="#7b9ff9"/>
<rect x="510.9" y="250.7" width="3.4" height="3.4" fill="#7b9ff9"/>
<rect x="521.7" y="252.7" width="3.4" height="3.4" fill="#7b9ff9"/>
<rect x="532.4" y="251.7" width="3.4" height="3.4" fill="#7b9ff9"/>
<rect x="543.2" y="252.7" width="3.4" height="3.4" fill="#7b9ff9"/>
<rect x="553.9" y="252.7" width="3.4" height="3.4" fill="#7b9ff9"/>
<rect x="564.6" y="253.7" width="3.4" height="3.4" fill="#7b9ff9"/>
<rect x="575.4" y="246.4" width="3.4" height="3.4" fill="#7b9ff9"/>
<rect x="586.1" y="246.4" width="3.4" height="3.4" fill="#7b9ff9"/>
<rect x="596.9" y="257.0" width="3.4" height="3.4" fill="#7b9ff9"/>
<rect x="607.6" y="256.8" width="3.4" height="3.4" fill="#7b9ff9"/>
<rect x="618.3" y="258.2" width="3.4" height="3.4" fill="#7b9ff9"/>
<rect x="629.1" y="259.6" width="3.4" height="3.4" fill="#7b9ff9"/>
<rect x="639.8" y="261.5" width="3.4" height="3.4" fill="#7b9ff9"/>
<polyline points="394.5,262.7 405.2,262.6 416.0,262.4 426.7,262.3 437.5,262.1 448.2,262.1 458.9,253.0 469.7,245.5 480.4,246.5 491.2,243.5 501.9,243.1 512.6,245.5 523.4,250.4 534.1,253.0 544.9,254.4 555.6,255.4 566.3,255.8 577.1,257.0 587.8,256.4 598.6,259.9 609.3,261.9 620.0,262.4 630.8,262.7 641.5,263.2" fill="none" stroke="#c0d4f5" stroke-width="0.9"/>
<path d="M394.5 260.7L396.4 264.1H392.6Z" fill="#c0d4f5"/>
<path d="M405.2 260.6L407.1 264.0H403.3Z" fill="#c0d4f5"/>
<path d="M416.0 260.4L417.9 263.8H414.1Z" fill="#c0d4f5"/>
<path d="M426.7 260.3L428.6 263.7H424.8Z" fill="#c0d4f5"/>
<path d="M437.5 260.1L439.4 263.5H435.6Z" fill="#c0d4f5"/>
<path d="M448.2 260.1L450.1 263.5H446.3Z" fill="#c0d4f5"/>
<path d="M458.9 251.0L460.8 254.4H457.0Z" fill="#c0d4f5"/>
<path d="M469.7 243.5L471.6 246.9H467.8Z" fill="#c0d4f5"/>
<path d="M480.4 244.5L482.3 247.9H478.5Z" fill="#c0d4f5"/>
<path d="M491.2 241.5L493.1 244.9H489.3Z" fill="#c0d4f5"/>
<path d="M501.9 241.1L503.8 244.5H500.0Z" fill="#c0d4f5"/>
<path d="M512.6 243.5L514.5 246.9H510.7Z" fill="#c0d4f5"/>
<path d="M523.4 248.4L525.3 251.8H521.5Z" fill="#c0d4f5"/>
<path d="M534.1 251.0L536.0 254.4H532.2Z" fill="#c0d4f5"/>
<path d="M544.9 252.4L546.8 255.8H543.0Z" fill="#c0d4f5"/>
<path d="M555.6 253.4L557.5 256.8H553.7Z" fill="#c0d4f5"/>
<path d="M566.3 253.8L568.2 257.2H564.4Z" fill="#c0d4f5"/>
<path d="M577.1 255.0L579.0 258.4H575.2Z" fill="#c0d4f5"/>
<path d="M587.8 254.4L589.7 257.8H585.9Z" fill="#c0d4f5"/>
<path d="M598.6 257.9L600.5 261.3H596.7Z" fill="#c0d4f5"/>
<path d="M609.3 259.9L611.2 263.3H607.4Z" fill="#c0d4f5"/>
<path d="M620.0 260.4L621.9 263.8H618.1Z" fill="#c0d4f5"/>
<path d="M630.8 260.7L632.7 264.1H628.9Z" fill="#c0d4f5"/>
<path d="M641.5 261.2L643.4 264.6H639.6Z" fill="#c0d4f5"/>
<polyline points="394.5,263.0 405.2,262.4 416.0,261.6 426.7,258.9 437.5,256.6 448.2,256.9 458.9,206.1 469.7,188.7 480.4,191.7 491.2,190.7 501.9,192.9 512.6,213.0 523.4,218.5 534.1,220.3 544.9,228.4 555.6,238.6 566.3,245.5 577.1,246.9 587.8,250.8 598.6,257.3 609.3,258.9 620.0,260.3 630.8,261.7 641.5,262.9" fill="none" stroke="#f2cbb7" stroke-width="0.9"/>
<path d="M394.5 260.8L395.8 263.0L394.5 265.2L393.2 263.0Z" fill="#f2cbb7"/>
<path d="M405.2 260.2L406.5 262.4L405.2 264.6L403.9 262.4Z" fill="#f2cbb7"/>
<path d="M416.0 259.4L417.3 261.6L416.0 263.8L414.7 261.6Z" fill="#f2cbb7"/>
<path d="M426.7 256.7L428.0 258.9L426.7 261.1L425.4 258.9Z" fill="#f2cbb7"/>
<path d="M437.5 254.4L438.8 256.6L437.5 258.8L436.2 256.6Z" fill="#f2cbb7"/>
<path d="M448.2 254.7L449.5 256.9L448.2 259.1L446.9 256.9Z" fill="#f2cbb7"/>
<path d="M458.9 203.9L460.2 206.1L458.9 208.3L457.6 206.1Z" fill="#f2cbb7"/>
<path d="M469.7 186.5L471.0 188.7L469.7 190.9L468.4 188.7Z" fill="#f2cbb7"/>
<path d="M480.4 189.5L481.7 191.7L480.4 193.9L479.1 191.7Z" fill="#f2cbb7"/>
<path d="M491.2 188.5L492.5 190.7L491.2 192.9L489.9 190.7Z" fill="#f2cbb7"/>
<path d="M501.9 190.7L503.2 192.9L501.9 195.1L500.6 192.9Z" fill="#f2cbb7"/>
<path d="M512.6 210.8L513.9 213.0L512.6 215.2L511.3 213.0Z" fill="#f2cbb7"/>
<path d="M523.4 216.3L524.7 218.5L523.4 220.7L522.1 218.5Z" fill="#f2cbb7"/>
<path d="M534.1 218.1L535.4 220.3L534.1 222.5L532.8 220.3Z" fill="#f2cbb7"/>
<path d="M544.9 226.2L546.2 228.4L544.9 230.6L543.6 228.4Z" fill="#f2cbb7"/>
<path d="M555.6 236.4L556.9 238.6L555.6 240.8L554.3 238.6Z" fill="#f2cbb7"/>
<path d="M566.3 243.3L567.6 245.5L566.3 247.7L565.0 245.5Z" fill="#f2cbb7"/>
<path d="M577.1 244.7L578.4 246.9L577.1 249.1L575.8 246.9Z" fill="#f2cbb7"/>
<path d="M587.8 248.6L589.1 250.8L587.8 253.0L586.5 250.8Z" fill="#f2cbb7"/>
<path d="M598.6 255.1L599.9 257.3L598.6 259.5L597.3 257.3Z" fill="#f2cbb7"/>
<path d="M609.3 256.7L610.6 258.9L609.3 261.1L608.0 258.9Z" fill="#f2cbb7"/>
<path d="M620.0 258.1L621.3 260.3L620.0 262.5L618.7 260.3Z" fill="#f2cbb7"/>
<path d="M630.8 259.5L632.1 261.7L630.8 263.9L629.5 261.7Z" fill="#f2cbb7"/>
<path d="M641.5 260.7L642.8 262.9L641.5 265.1L640.2 262.9Z" fill="#f2cbb7"/>
<polyline points="394.5,262.7 405.2,262.1 416.0,261.3 426.7,258.1 437.5,255.7 448.2,256.0 458.9,197.2 469.7,186.0 480.4,179.5 491.2,174.6 501.9,178.1 512.6,201.6 523.4,203.7 534.1,210.0 544.9,216.3 555.6,225.8 566.3,231.3 577.1,231.1 587.8,243.0 598.6,253.8 609.3,257.3 620.0,259.9 630.8,261.7 641.5,263.2" fill="none" stroke="#ee8468" stroke-width="0.9"/>
<path d="M394.5 261.1L395.6 262.7L394.5 264.3L393.4 262.7Z" fill="#ee8468"/>
<path d="M405.2 260.5L406.3 262.1L405.2 263.7L404.1 262.1Z" fill="#ee8468"/>
<path d="M416.0 259.7L417.1 261.3L416.0 262.9L414.9 261.3Z" fill="#ee8468"/>
<path d="M426.7 256.5L427.8 258.1L426.7 259.7L425.6 258.1Z" fill="#ee8468"/>
<path d="M437.5 254.1L438.6 255.7L437.5 257.3L436.4 255.7Z" fill="#ee8468"/>
<path d="M448.2 254.4L449.3 256.0L448.2 257.6L447.1 256.0Z" fill="#ee8468"/>
<path d="M458.9 195.6L460.0 197.2L458.9 198.8L457.8 197.2Z" fill="#ee8468"/>
<path d="M469.7 184.4L470.8 186.0L469.7 187.6L468.6 186.0Z" fill="#ee8468"/>
<path d="M480.4 177.9L481.5 179.5L480.4 181.1L479.3 179.5Z" fill="#ee8468"/>
<path d="M491.2 173.0L492.3 174.6L491.2 176.2L490.1 174.6Z" fill="#ee8468"/>
<path d="M501.9 176.5L503.0 178.1L501.9 179.7L500.8 178.1Z" fill="#ee8468"/>
<path d="M512.6 200.0L513.7 201.6L512.6 203.2L511.5 201.6Z" fill="#ee8468"/>
<path d="M523.4 202.1L524.5 203.7L523.4 205.3L522.3 203.7Z" fill="#ee8468"/>
<path d="M534.1 208.4L535.2 210.0L534.1 211.6L533.0 210.0Z" fill="#ee8468"/>
<path d="M544.9 214.7L546.0 216.3L544.9 217.9L543.8 216.3Z" fill="#ee8468"/>
<path d="M555.6 224.2L556.7 225.8L555.6 227.4L554.5 225.8Z" fill="#ee8468"/>
<path d="M566.3 229.7L567.4 231.3L566.3 232.9L565.2 231.3Z" fill="#ee8468"/>
<path d="M577.1 229.5L578.2 231.1L577.1 232.7L576.0 231.1Z" fill="#ee8468"/>
<path d="M587.8 241.4L588.9 243.0L587.8 244.6L586.7 243.0Z" fill="#ee8468"/>
<path d="M598.6 252.2L599.7 253.8L598.6 255.4L597.5 253.8Z" fill="#ee8468"/>
<path d="M609.3 255.7L610.4 257.3L609.3 258.9L608.2 257.3Z" fill="#ee8468"/>
<path d="M620.0 258.3L621.1 259.9L620.0 261.5L618.9 259.9Z" fill="#ee8468"/>
<path d="M630.8 260.1L631.9 261.7L630.8 263.3L629.7 261.7Z" fill="#ee8468"/>
<path d="M641.5 261.6L642.6 263.2L641.5 264.8L640.4 263.2Z" fill="#ee8468"/>
<polyline points="394.5,262.7 405.2,261.3 416.0,258.9 426.7,257.7 437.5,254.0 448.2,256.7 458.9,192.3 469.7,158.4 480.4,164.1 491.2,153.9 501.9,160.2 512.6,183.4 523.4,193.3 534.1,200.2 544.9,211.4 555.6,222.5 566.3,230.7 577.1,224.8 587.8,229.2 598.6,248.5 609.3,253.4 620.0,256.0 630.8,260.3 641.5,262.9" fill="none" stroke="#b40426" stroke-width="0.9"/>
<path d="M394.5 260.5L396.3 262.7L394.5 264.9L392.7 262.7Z" fill="#b40426"/>
<path d="M405.2 259.1L407.0 261.3L405.2 263.5L403.4 261.3Z" fill="#b40426"/>
<path d="M416.0 256.7L417.8 258.9L416.0 261.1L414.2 258.9Z" fill="#b40426"/>
<path d="M426.7 255.5L428.5 257.7L426.7 259.9L424.9 257.7Z" fill="#b40426"/>
<path d="M437.5 251.8L439.3 254.0L437.5 256.2L435.7 254.0Z" fill="#b40426"/>
<path d="M448.2 254.5L450.0 256.7L448.2 258.9L446.4 256.7Z" fill="#b40426"/>
<path d="M458.9 190.1L460.7 192.3L458.9 194.5L457.1 192.3Z" fill="#b40426"/>
<path d="M469.7 156.2L471.5 158.4L469.7 160.6L467.9 158.4Z" fill="#b40426"/>
<path d="M480.4 161.9L482.2 164.1L480.4 166.3L478.6 164.1Z" fill="#b40426"/>
<path d="M491.2 151.7L493.0 153.9L491.2 156.1L489.4 153.9Z" fill="#b40426"/>
<path d="M501.9 158.0L503.7 160.2L501.9 162.4L500.1 160.2Z" fill="#b40426"/>
<path d="M512.6 181.2L514.4 183.4L512.6 185.6L510.8 183.4Z" fill="#b40426"/>
<path d="M523.4 191.1L525.2 193.3L523.4 195.5L521.6 193.3Z" fill="#b40426"/>
<path d="M534.1 198.0L535.9 200.2L534.1 202.4L532.3 200.2Z" fill="#b40426"/>
<path d="M544.9 209.2L546.7 211.4L544.9 213.6L543.1 211.4Z" fill="#b40426"/>
<path d="M555.6 220.3L557.4 222.5L555.6 224.7L553.8 222.5Z" fill="#b40426"/>
<path d="M566.3 228.5L568.1 230.7L566.3 232.9L564.5 230.7Z" fill="#b40426"/>
<path d="M577.1 222.6L578.9 224.8L577.1 227.0L575.3 224.8Z" fill="#b40426"/>
<path d="M587.8 227.0L589.6 229.2L587.8 231.4L586.0 229.2Z" fill="#b40426"/>
<path d="M598.6 246.3L600.4 248.5L598.6 250.7L596.8 248.5Z" fill="#b40426"/>
<path d="M609.3 251.2L611.1 253.4L609.3 255.6L607.5 253.4Z" fill="#b40426"/>
<path d="M620.0 253.8L621.8 256.0L620.0 258.2L618.2 256.0Z" fill="#b40426"/>
<path d="M630.8 258.1L632.6 260.3L630.8 262.5L629.0 260.3Z" fill="#b40426"/>
<path d="M641.5 260.7L643.3 262.9L641.5 265.1L639.7 262.9Z" fill="#b40426"/>
<text x="518" y="144.3" text-anchor="middle" class="ttl">50-Year</text>
<text transform="translate(362.4 228.7) rotate(-90)" class="yl" textLength="40.6" lengthAdjust="spacingAndGlyphs">Time Lost (hr)</text>
<rect x="382.3" y="281.4" width="271.6" height="121.0" fill="#f3f3f3" stroke="#c4c4c4" stroke-width="0.8"/>
<line x1="382.3" x2="653.9" y1="397.00" y2="397.00" stroke="#e2e2e2" stroke-width="0.5" stroke-dasharray="1.6,1"/>
<line x1="382.3" x2="653.9" y1="382.49" y2="382.49" stroke="#e2e2e2" stroke-width="0.5" stroke-dasharray="1.6,1"/>
<line x1="382.3" x2="653.9" y1="367.98" y2="367.98" stroke="#e2e2e2" stroke-width="0.5" stroke-dasharray="1.6,1"/>
<line x1="382.3" x2="653.9" y1="353.47" y2="353.47" stroke="#e2e2e2" stroke-width="0.5" stroke-dasharray="1.6,1"/>
<line x1="382.3" x2="653.9" y1="338.96" y2="338.96" stroke="#e2e2e2" stroke-width="0.5" stroke-dasharray="1.6,1"/>
<line x1="382.3" x2="653.9" y1="324.45" y2="324.45" stroke="#e2e2e2" stroke-width="0.5" stroke-dasharray="1.6,1"/>
<line x1="382.3" x2="653.9" y1="309.94" y2="309.94" stroke="#e2e2e2" stroke-width="0.5" stroke-dasharray="1.6,1"/>
<line x1="382.3" x2="653.9" y1="295.43" y2="295.43" stroke="#e2e2e2" stroke-width="0.5" stroke-dasharray="1.6,1"/>
<line x1="448.20" x2="448.20" y1="281.4" y2="402.4" stroke="#e2e2e2" stroke-width="0.5" stroke-dasharray="1.6,1"/>
<line x1="501.90" x2="501.90" y1="281.4" y2="402.4" stroke="#e2e2e2" stroke-width="0.5" stroke-dasharray="1.6,1"/>
<line x1="609.30" x2="609.30" y1="281.4" y2="402.4" stroke="#e2e2e2" stroke-width="0.5" stroke-dasharray="1.6,1"/>
<text x="380.3" y="399.60" text-anchor="end" class="tk">0</text>
<text x="380.3" y="385.09" text-anchor="end" class="tk">500</text>
<text x="380.3" y="370.58" text-anchor="end" class="tk">1000</text>
<text x="380.3" y="356.07" text-anchor="end" class="tk">1500</text>
<text x="380.3" y="341.56" text-anchor="end" class="tk">2000</text>
<text x="380.3" y="327.05" text-anchor="end" class="tk">2500</text>
<text x="380.3" y="312.54" text-anchor="end" class="tk">3000</text>
<text x="380.3" y="298.03" text-anchor="end" class="tk">3500</text>
<polyline points="394.5,396.7 405.2,396.7 416.0,396.7 426.7,396.7 437.5,396.7 448.2,396.7 458.9,396.2 469.7,390.7 480.4,384.4 491.2,382.1 501.9,385.4 512.6,390.3 523.4,389.7 534.1,389.3 544.9,393.3 555.6,393.3 566.3,394.3 577.1,392.9 587.8,385.4 598.6,391.5 609.3,391.7 620.0,393.3 630.8,395.7 641.5,396.2" fill="none" stroke="#3b4cc0" stroke-width="0.9" stroke-dasharray="2.2,1.3"/>
<circle cx="394.5" cy="396.7" r="1.7" fill="#3b4cc0"/>
<circle cx="405.2" cy="396.7" r="1.7" fill="#3b4cc0"/>
<circle cx="416.0" cy="396.7" r="1.7" fill="#3b4cc0"/>
<circle cx="426.7" cy="396.7" r="1.7" fill="#3b4cc0"/>
<circle cx="437.5" cy="396.7" r="1.7" fill="#3b4cc0"/>
<circle cx="448.2" cy="396.7" r="1.7" fill="#3b4cc0"/>
<circle cx="458.9" cy="396.2" r="1.7" fill="#3b4cc0"/>
<circle cx="469.7" cy="390.7" r="1.7" fill="#3b4cc0"/>
<circle cx="480.4" cy="384.4" r="1.7" fill="#3b4cc0"/>
<circle cx="491.2" cy="382.1" r="1.7" fill="#3b4cc0"/>
<circle cx="501.9" cy="385.4" r="1.7" fill="#3b4cc0"/>
<circle cx="512.6" cy="390.3" r="1.7" fill="#3b4cc0"/>
<circle cx="523.4" cy="389.7" r="1.7" fill="#3b4cc0"/>
<circle cx="534.1" cy="389.3" r="1.7" fill="#3b4cc0"/>
<circle cx="544.9" cy="393.3" r="1.7" fill="#3b4cc0"/>
<circle cx="555.6" cy="393.3" r="1.7" fill="#3b4cc0"/>
<circle cx="566.3" cy="394.3" r="1.7" fill="#3b4cc0"/>
<circle cx="577.1" cy="392.9" r="1.7" fill="#3b4cc0"/>
<circle cx="587.8" cy="385.4" r="1.7" fill="#3b4cc0"/>
<circle cx="598.6" cy="391.5" r="1.7" fill="#3b4cc0"/>
<circle cx="609.3" cy="391.7" r="1.7" fill="#3b4cc0"/>
<circle cx="620.0" cy="393.3" r="1.7" fill="#3b4cc0"/>
<circle cx="630.8" cy="395.7" r="1.7" fill="#3b4cc0"/>
<circle cx="641.5" cy="396.2" r="1.7" fill="#3b4cc0"/>
<polyline points="394.5,396.6 405.2,396.6 416.0,396.6 426.7,396.6 437.5,396.6 448.2,396.6 458.9,393.9 469.7,385.4 480.4,385.4 491.2,388.0 501.9,382.5 512.6,381.5 523.4,385.4 534.1,388.4 544.9,393.3 555.6,394.7 566.3,394.9 577.1,392.9 587.8,389.7 598.6,393.3 609.3,393.7 620.0,395.3 630.8,395.8 641.5,396.2" fill="none" stroke="#7b9ff9" stroke-width="0.9"/>
<rect x="392.8" y="394.9" width="3.4" height="3.4" fill="#7b9ff9"/>
<rect x="403.5" y="394.9" width="3.4" height="3.4" fill="#7b9ff9"/>
<rect x="414.3" y="394.9" width="3.4" height="3.4" fill="#7b9ff9"/>
<rect x="425.0" y="394.9" width="3.4" height="3.4" fill="#7b9ff9"/>
<rect x="435.8" y="394.9" width="3.4" height="3.4" fill="#7b9ff9"/>
<rect x="446.5" y="394.9" width="3.4" height="3.4" fill="#7b9ff9"/>
<rect x="457.2" y="392.2" width="3.4" height="3.4" fill="#7b9ff9"/>
<rect x="468.0" y="383.7" width="3.4" height="3.4" fill="#7b9ff9"/>
<rect x="478.7" y="383.7" width="3.4" height="3.4" fill="#7b9ff9"/>
<rect x="489.5" y="386.3" width="3.4" height="3.4" fill="#7b9ff9"/>
<rect x="500.2" y="380.8" width="3.4" height="3.4" fill="#7b9ff9"/>
<rect x="510.9" y="379.8" width="3.4" height="3.4" fill="#7b9ff9"/>
<rect x="521.7" y="383.7" width="3.4" height="3.4" fill="#7b9ff9"/>
<rect x="532.4" y="386.7" width="3.4" height="3.4" fill="#7b9ff9"/>
<rect x="543.2" y="391.6" width="3.4" height="3.4" fill="#7b9ff9"/>
<rect x="553.9" y="393.0" width="3.4" height="3.4" fill="#7b9ff9"/>
<rect x="564.6" y="393.2" width="3.4" height="3.4" fill="#7b9ff9"/>
<rect x="575.4" y="391.2" width="3.4" height="3.4" fill="#7b9ff9"/>
<rect x="586.1" y="388.0" width="3.4" height="3.4" fill="#7b9ff9"/>
<rect x="596.9" y="391.6" width="3.4" height="3.4" fill="#7b9ff9"/>
<rect x="607.6" y="392.0" width="3.4" height="3.4" fill="#7b9ff9"/>
<rect x="618.3" y="393.6" width="3.4" height="3.4" fill="#7b9ff9"/>
<rect x="629.1" y="394.1" width="3.4" height="3.4" fill="#7b9ff9"/>
<rect x="639.8" y="394.5" width="3.4" height="3.4" fill="#7b9ff9"/>
<polyline points="394.5,396.4 405.2,396.3 416.0,396.1 426.7,396.1 437.5,396.3 448.2,396.4 458.9,386.8 469.7,388.4 480.4,386.4 491.2,379.9 501.9,381.9 512.6,381.5 523.4,384.4 534.1,387.4 544.9,390.3 555.6,389.9 566.3,386.8 577.1,388.8 587.8,390.3 598.6,392.9 609.3,394.3 620.0,395.3 630.8,395.8 641.5,396.2" fill="none" stroke="#c0d4f5" stroke-width="0.9"/>
<path d="M394.5 394.4L396.4 397.8H392.6Z" fill="#c0d4f5"/>
<path d="M405.2 394.3L407.1 397.7H403.3Z" fill="#c0d4f5"/>
<path d="M416.0 394.1L417.9 397.5H414.1Z" fill="#c0d4f5"/>
<path d="M426.7 394.1L428.6 397.5H424.8Z" fill="#c0d4f5"/>
<path d="M437.5 394.3L439.4 397.7H435.6Z" fill="#c0d4f5"/>
<path d="M448.2 394.4L450.1 397.8H446.3Z" fill="#c0d4f5"/>
<path d="M458.9 384.8L460.8 388.2H457.0Z" fill="#c0d4f5"/>
<path d="M469.7 386.4L471.6 389.8H467.8Z" fill="#c0d4f5"/>
<path d="M480.4 384.4L482.3 387.8H478.5Z" fill="#c0d4f5"/>
<path d="M491.2 377.9L493.1 381.3H489.3Z" fill="#c0d4f5"/>
<path d="M501.9 379.9L503.8 383.3H500.0Z" fill="#c0d4f5"/>
<path d="M512.6 379.5L514.5 382.9H510.7Z" fill="#c0d4f5"/>
<path d="M523.4 382.4L525.3 385.8H521.5Z" fill="#c0d4f5"/>
<path d="M534.1 385.4L536.0 388.8H532.2Z" fill="#c0d4f5"/>
<path d="M544.9 388.3L546.8 391.7H543.0Z" fill="#c0d4f5"/>
<path d="M555.6 387.9L557.5 391.3H553.7Z" fill="#c0d4f5"/>
<path d="M566.3 384.8L568.2 388.2H564.4Z" fill="#c0d4f5"/>
<path d="M577.1 386.8L579.0 390.2H575.2Z" fill="#c0d4f5"/>
<path d="M587.8 388.3L589.7 391.7H585.9Z" fill="#c0d4f5"/>
<path d="M598.6 390.9L600.5 394.3H596.7Z" fill="#c0d4f5"/>
<path d="M609.3 392.3L611.2 395.7H607.4Z" fill="#c0d4f5"/>
<path d="M620.0 393.3L621.9 396.7H618.1Z" fill="#c0d4f5"/>
<path d="M630.8 393.8L632.7 397.2H628.9Z" fill="#c0d4f5"/>
<path d="M641.5 394.2L643.4 397.6H639.6Z" fill="#c0d4f5"/>
<polyline points="394.5,396.6 405.2,395.8 416.0,394.1 426.7,390.6 437.5,389.5 448.2,388.9 458.9,320.4 469.7,318.0 480.4,320.0 491.2,313.5 501.9,328.3 512.6,342.0 523.4,346.0 534.1,350.9 544.9,359.8 555.6,367.7 566.3,377.1 577.1,378.5 587.8,382.8 598.6,389.3 609.3,391.9 620.0,394.3 630.8,395.7 641.5,396.2" fill="none" stroke="#f2cbb7" stroke-width="0.9"/>
<path d="M394.5 394.4L395.8 396.6L394.5 398.8L393.2 396.6Z" fill="#f2cbb7"/>
<path d="M405.2 393.6L406.5 395.8L405.2 398.0L403.9 395.8Z" fill="#f2cbb7"/>
<path d="M416.0 391.9L417.3 394.1L416.0 396.3L414.7 394.1Z" fill="#f2cbb7"/>
<path d="M426.7 388.4L428.0 390.6L426.7 392.8L425.4 390.6Z" fill="#f2cbb7"/>
<path d="M437.5 387.3L438.8 389.5L437.5 391.7L436.2 389.5Z" fill="#f2cbb7"/>
<path d="M448.2 386.7L449.5 388.9L448.2 391.1L446.9 388.9Z" fill="#f2cbb7"/>
<path d="M458.9 318.2L460.2 320.4L458.9 322.6L457.6 320.4Z" fill="#f2cbb7"/>
<path d="M469.7 315.8L471.0 318.0L469.7 320.2L468.4 318.0Z" fill="#f2cbb7"/>
<path d="M480.4 317.8L481.7 320.0L480.4 322.2L479.1 320.0Z" fill="#f2cbb7"/>
<path d="M491.2 311.3L492.5 313.5L491.2 315.7L489.9 313.5Z" fill="#f2cbb7"/>
<path d="M501.9 326.1L503.2 328.3L501.9 330.5L500.6 328.3Z" fill="#f2cbb7"/>
<path d="M512.6 339.8L513.9 342.0L512.6 344.2L511.3 342.0Z" fill="#f2cbb7"/>
<path d="M523.4 343.8L524.7 346.0L523.4 348.2L522.1 346.0Z" fill="#f2cbb7"/>
<path d="M534.1 348.7L535.4 350.9L534.1 353.1L532.8 350.9Z" fill="#f2cbb7"/>
<path d="M544.9 357.6L546.2 359.8L544.9 362.0L543.6 359.8Z" fill="#f2cbb7"/>
<path d="M555.6 365.5L556.9 367.7L555.6 369.9L554.3 367.7Z" fill="#f2cbb7"/>
<path d="M566.3 374.9L567.6 377.1L566.3 379.3L565.0 377.1Z" fill="#f2cbb7"/>
<path d="M577.1 376.3L578.4 378.5L577.1 380.7L575.8 378.5Z" fill="#f2cbb7"/>
<path d="M587.8 380.6L589.1 382.8L587.8 385.0L586.5 382.8Z" fill="#f2cbb7"/>
<path d="M598.6 387.1L599.9 389.3L598.6 391.5L597.3 389.3Z" fill="#f2cbb7"/>
<path d="M609.3 389.7L610.6 391.9L609.3 394.1L608.0 391.9Z" fill="#f2cbb7"/>
<path d="M620.0 392.1L621.3 394.3L620.0 396.5L618.7 394.3Z" fill="#f2cbb7"/>
<path d="M630.8 393.5L632.1 395.7L630.8 397.9L629.5 395.7Z" fill="#f2cbb7"/>
<path d="M641.5 394.0L642.8 396.2L641.5 398.4L640.2 396.2Z" fill="#f2cbb7"/>
<polyline points="394.5,396.2 405.2,395.3 416.0,392.9 426.7,389.3 437.5,388.4 448.2,387.9 458.9,319.4 469.7,303.6 480.4,306.6 491.2,301.6 501.9,311.1 512.6,329.8 523.4,337.5 534.1,342.0 544.9,349.3 555.6,354.9 566.3,369.6 577.1,368.7 587.8,374.6 598.6,385.4 609.3,390.7 620.0,393.3 630.8,395.3 641.5,396.2" fill="none" stroke="#ee8468" stroke-width="0.9"/>
<path d="M394.5 394.6L395.6 396.2L394.5 397.8L393.4 396.2Z" fill="#ee8468"/>
<path d="M405.2 393.7L406.3 395.3L405.2 396.9L404.1 395.3Z" fill="#ee8468"/>
<path d="M416.0 391.3L417.1 392.9L416.0 394.5L414.9 392.9Z" fill="#ee8468"/>
<path d="M426.7 387.7L427.8 389.3L426.7 390.9L425.6 389.3Z" fill="#ee8468"/>
<path d="M437.5 386.8L438.6 388.4L437.5 390.0L436.4 388.4Z" fill="#ee8468"/>
<path d="M448.2 386.3L449.3 387.9L448.2 389.5L447.1 387.9Z" fill="#ee8468"/>
<path d="M458.9 317.8L460.0 319.4L458.9 321.0L457.8 319.4Z" fill="#ee8468"/>
<path d="M469.7 302.0L470.8 303.6L469.7 305.2L468.6 303.6Z" fill="#ee8468"/>
<path d="M480.4 305.0L481.5 306.6L480.4 308.2L479.3 306.6Z" fill="#ee8468"/>
<path d="M491.2 300.0L492.3 301.6L491.2 303.2L490.1 301.6Z" fill="#ee8468"/>
<path d="M501.9 309.5L503.0 311.1L501.9 312.7L500.8 311.1Z" fill="#ee8468"/>
<path d="M512.6 328.2L513.7 329.8L512.6 331.4L511.5 329.8Z" fill="#ee8468"/>
<path d="M523.4 335.9L524.5 337.5L523.4 339.1L522.3 337.5Z" fill="#ee8468"/>
<path d="M534.1 340.4L535.2 342.0L534.1 343.6L533.0 342.0Z" fill="#ee8468"/>
<path d="M544.9 347.7L546.0 349.3L544.9 350.9L543.8 349.3Z" fill="#ee8468"/>
<path d="M555.6 353.3L556.7 354.9L555.6 356.5L554.5 354.9Z" fill="#ee8468"/>
<path d="M566.3 368.0L567.4 369.6L566.3 371.2L565.2 369.6Z" fill="#ee8468"/>
<path d="M577.1 367.1L578.2 368.7L577.1 370.3L576.0 368.7Z" fill="#ee8468"/>
<path d="M587.8 373.0L588.9 374.6L587.8 376.2L586.7 374.6Z" fill="#ee8468"/>
<path d="M598.6 383.8L599.7 385.4L598.6 387.0L597.5 385.4Z" fill="#ee8468"/>
<path d="M609.3 389.1L610.4 390.7L609.3 392.3L608.2 390.7Z" fill="#ee8468"/>
<path d="M620.0 391.7L621.1 393.3L620.0 394.9L618.9 393.3Z" fill="#ee8468"/>
<path d="M630.8 393.7L631.9 395.3L630.8 396.9L629.7 395.3Z" fill="#ee8468"/>
<path d="M641.5 394.6L642.6 396.2L641.5 397.8L640.4 396.2Z" fill="#ee8468"/>
<polyline points="394.5,396.2 405.2,394.3 416.0,391.3 426.7,386.0 437.5,387.4 448.2,385.4 458.9,307.2 469.7,298.7 480.4,298.1 491.2,287.3 501.9,298.3 512.6,313.9 523.4,323.3 534.1,332.2 544.9,349.9 555.6,358.2 566.3,364.7 577.1,365.7 587.8,370.2 598.6,381.5 609.3,386.4 620.0,391.9 630.8,394.7 641.5,396.2" fill="none" stroke="#b40426" stroke-width="0.9"/>
<path d="M394.5 394.0L396.3 396.2L394.5 398.4L392.7 396.2Z" fill="#b40426"/>
<path d="M405.2 392.1L407.0 394.3L405.2 396.5L403.4 394.3Z" fill="#b40426"/>
<path d="M416.0 389.1L417.8 391.3L416.0 393.5L414.2 391.3Z" fill="#b40426"/>
<path d="M426.7 383.8L428.5 386.0L426.7 388.2L424.9 386.0Z" fill="#b40426"/>
<path d="M437.5 385.2L439.3 387.4L437.5 389.6L435.7 387.4Z" fill="#b40426"/>
<path d="M448.2 383.2L450.0 385.4L448.2 387.6L446.4 385.4Z" fill="#b40426"/>
<path d="M458.9 305.0L460.7 307.2L458.9 309.4L457.1 307.2Z" fill="#b40426"/>
<path d="M469.7 296.5L471.5 298.7L469.7 300.9L467.9 298.7Z" fill="#b40426"/>
<path d="M480.4 295.9L482.2 298.1L480.4 300.3L478.6 298.1Z" fill="#b40426"/>
<path d="M491.2 285.1L493.0 287.3L491.2 289.5L489.4 287.3Z" fill="#b40426"/>
<path d="M501.9 296.1L503.7 298.3L501.9 300.5L500.1 298.3Z" fill="#b40426"/>
<path d="M512.6 311.7L514.4 313.9L512.6 316.1L510.8 313.9Z" fill="#b40426"/>
<path d="M523.4 321.1L525.2 323.3L523.4 325.5L521.6 323.3Z" fill="#b40426"/>
<path d="M534.1 330.0L535.9 332.2L534.1 334.4L532.3 332.2Z" fill="#b40426"/>
<path d="M544.9 347.7L546.7 349.9L544.9 352.1L543.1 349.9Z" fill="#b40426"/>
<path d="M555.6 356.0L557.4 358.2L555.6 360.4L553.8 358.2Z" fill="#b40426"/>
<path d="M566.3 362.5L568.1 364.7L566.3 366.9L564.5 364.7Z" fill="#b40426"/>
<path d="M577.1 363.5L578.9 365.7L577.1 367.9L575.3 365.7Z" fill="#b40426"/>
<path d="M587.8 368.0L589.6 370.2L587.8 372.4L586.0 370.2Z" fill="#b40426"/>
<path d="M598.6 379.3L600.4 381.5L598.6 383.7L596.8 381.5Z" fill="#b40426"/>
<path d="M609.3 384.2L611.1 386.4L609.3 388.6L607.5 386.4Z" fill="#b40426"/>
<path d="M620.0 389.7L621.8 391.9L620.0 394.1L618.2 391.9Z" fill="#b40426"/>
<path d="M630.8 392.5L632.6 394.7L630.8 396.9L629.0 394.7Z" fill="#b40426"/>
<path d="M641.5 394.0L643.3 396.2L641.5 398.4L639.7 396.2Z" fill="#b40426"/>
<text x="518" y="277.8" text-anchor="middle" class="ttl">100-Year</text>
<text transform="translate(362.4 362.2) rotate(-90)" class="yl" textLength="40.6" lengthAdjust="spacingAndGlyphs">Time Lost (hr)</text>
<text x="394.5" y="409.0" text-anchor="middle" class="tk">0</text>
<text x="448.2" y="409.0" text-anchor="middle" class="tk">5</text>
<text x="501.9" y="409.0" text-anchor="middle" class="tk">10</text>
<text x="555.6" y="409.0" text-anchor="middle" class="tk">15</text>
<text x="609.3" y="409.0" text-anchor="middle" class="tk">20</text>
<text x="510.8" y="416.6" class="yl" textLength="14" lengthAdjust="spacingAndGlyphs">Time</text>
<rect x="418.5" y="436.8" width="174.5" height="21" fill="#f3f3f3" stroke="#e6e6e6" stroke-width="0.5"/>
<line x1="421" x2="434.2" y1="442" y2="442" stroke="#3b4cc0" stroke-width="0.9" stroke-dasharray="2.2,1.3"/>
<circle cx="427.6" cy="442.0" r="1.7" fill="#3b4cc0"/>
<text x="439.9" y="444.5" class="lg">Normal</text>
<line x1="421" x2="434.2" y1="451.6" y2="451.6" stroke="#7b9ff9" stroke-width="0.9"/>
<rect x="425.9" y="449.9" width="3.4" height="3.4" fill="#7b9ff9"/>
<text x="439.9" y="454.1" class="lg">Coastal</text>
<line x1="479.2" x2="492.4" y1="442" y2="442" stroke="#c0d4f5" stroke-width="0.9"/>
<path d="M485.8 440.0L487.7 443.4H483.9Z" fill="#c0d4f5"/>
<text x="497.7" y="444.5" class="lg">Fluvial</text>
<line x1="479.2" x2="492.4" y1="451.6" y2="451.6" stroke="#f2cbb7" stroke-width="0.9"/>
<path d="M485.8 449.4L487.1 451.6L485.8 453.8L484.5 451.6Z" fill="#f2cbb7"/>
<text x="497.7" y="454.1" class="lg">Pluvial</text>
<line x1="534.1" x2="547.3000000000001" y1="442" y2="442" stroke="#ee8468" stroke-width="0.9"/>
<path d="M540.7 440.4L541.8 442.0L540.7 443.6L539.6 442.0Z" fill="#ee8468"/>
<text x="552.9" y="444.5" class="lg">Compound</text>
<line x1="534.1" x2="547.3000000000001" y1="451.6" y2="451.6" stroke="#b40426" stroke-width="0.9"/>
<path d="M540.7 449.4L542.5 451.6L540.7 453.8L538.9 451.6Z" fill="#b40426"/>
<text x="552.9" y="454.1" class="lg">Composite</text>
<rect x="393.10" y="476.70" width="21.44" height="28.37" fill="#6574d0" stroke="#ffffff" stroke-width="0.9"/>
<rect x="414.54" y="476.70" width="21.44" height="28.37" fill="#7287e0" stroke="#ffffff" stroke-width="0.9"/>
<rect x="435.98" y="476.70" width="21.44" height="28.37" fill="#f0dbcf" stroke="#ffffff" stroke-width="0.9"/>
<rect x="457.42" y="476.70" width="21.44" height="28.37" fill="#f9c6b0" stroke="#ffffff" stroke-width="0.9"/>
<rect x="478.86" y="476.70" width="21.44" height="28.37" fill="#e68473" stroke="#ffffff" stroke-width="0.9"/>
<rect x="393.10" y="505.07" width="21.44" height="28.37" fill="#6574d0" stroke="#ffffff" stroke-width="0.9"/>
<rect x="414.54" y="505.07" width="21.44" height="28.37" fill="#7287e0" stroke="#ffffff" stroke-width="0.9"/>
<rect x="435.98" y="505.07" width="21.44" height="28.37" fill="#efdcd2" stroke="#ffffff" stroke-width="0.9"/>
<rect x="457.42" y="505.07" width="21.44" height="28.37" fill="#f8cab5" stroke="#ffffff" stroke-width="0.9"/>
<rect x="478.86" y="505.07" width="21.44" height="28.37" fill="#e98a77" stroke="#ffffff" stroke-width="0.9"/>
<rect x="393.10" y="533.44" width="21.44" height="28.37" fill="#6473cf" stroke="#ffffff" stroke-width="0.9"/>
<rect x="414.54" y="533.44" width="21.44" height="28.37" fill="#7186df" stroke="#ffffff" stroke-width="0.9"/>
<rect x="435.98" y="533.44" width="21.44" height="28.37" fill="#e6e2e0" stroke="#ffffff" stroke-width="0.9"/>
<rect x="457.42" y="533.44" width="21.44" height="28.37" fill="#e6e2e0" stroke="#ffffff" stroke-width="0.9"/>
<rect x="478.86" y="533.44" width="21.44" height="28.37" fill="#f4a48c" stroke="#ffffff" stroke-width="0.9"/>
<line x1="391.1" x2="393.1" y1="490.9" y2="490.9" stroke="#555" stroke-width="0.4"/>
<line x1="391.1" x2="393.1" y1="519.3" y2="519.3" stroke="#555" stroke-width="0.4"/>
<line x1="391.1" x2="393.1" y1="547.6" y2="547.6" stroke="#555" stroke-width="0.4"/>
<line x1="403.8" x2="403.8" y1="561.8" y2="563.8" stroke="#555" stroke-width="0.4"/>
<line x1="425.3" x2="425.3" y1="561.8" y2="563.8" stroke="#555" stroke-width="0.4"/>
<line x1="446.7" x2="446.7" y1="561.8" y2="563.8" stroke="#555" stroke-width="0.4"/>
<line x1="468.1" x2="468.1" y1="561.8" y2="563.8" stroke="#555" stroke-width="0.4"/>
<line x1="489.6" x2="489.6" y1="561.8" y2="563.8" stroke="#555" stroke-width="0.4"/>
<text x="446.7" y="474.5" text-anchor="middle" class="hm">CO<tspan dy="1.6" font-size="5.5">2</tspan></text>
<text transform="translate(388.9 490.9) rotate(-90)" text-anchor="middle" class="hm">100</text>
<text transform="translate(388.9 519.3) rotate(-90)" text-anchor="middle" class="hm">50</text>
<text transform="translate(388.9 547.6) rotate(-90)" text-anchor="middle" class="hm">Baseline</text>
<text transform="translate(381 519.3) rotate(-90)" text-anchor="middle" class="hm">RP</text>
<rect x="512.00" y="476.70" width="21.44" height="28.37" fill="#6676d2" stroke="#ffffff" stroke-width="0.9"/>
<rect x="533.44" y="476.70" width="21.44" height="28.37" fill="#788fe6" stroke="#ffffff" stroke-width="0.9"/>
<rect x="554.88" y="476.70" width="21.44" height="28.37" fill="#f8c8b2" stroke="#ffffff" stroke-width="0.9"/>
<rect x="576.32" y="476.70" width="21.44" height="28.37" fill="#f5a991" stroke="#ffffff" stroke-width="0.9"/>
<rect x="597.76" y="476.70" width="21.44" height="28.37" fill="#c33652" stroke="#ffffff" stroke-width="0.9"/>
<rect x="512.00" y="505.07" width="21.44" height="28.37" fill="#6676d2" stroke="#ffffff" stroke-width="0.9"/>
<rect x="533.44" y="505.07" width="21.44" height="28.37" fill="#788fe6" stroke="#ffffff" stroke-width="0.9"/>
<rect x="554.88" y="505.07" width="21.44" height="28.37" fill="#f8c8b2" stroke="#ffffff" stroke-width="0.9"/>
<rect x="576.32" y="505.07" width="21.44" height="28.37" fill="#f5a991" stroke="#ffffff" stroke-width="0.9"/>
<rect x="597.76" y="505.07" width="21.44" height="28.37" fill="#cd5359" stroke="#ffffff" stroke-width="0.9"/>
<rect x="512.00" y="533.44" width="21.44" height="28.37" fill="#6676d2" stroke="#ffffff" stroke-width="0.9"/>
<rect x="533.44" y="533.44" width="21.44" height="28.37" fill="#768de4" stroke="#ffffff" stroke-width="0.9"/>
<rect x="554.88" y="533.44" width="21.44" height="28.37" fill="#f3d7c9" stroke="#ffffff" stroke-width="0.9"/>
<rect x="576.32" y="533.44" width="21.44" height="28.37" fill="#f3d7c9" stroke="#ffffff" stroke-width="0.9"/>
<rect x="597.76" y="533.44" width="21.44" height="28.37" fill="#df766a" stroke="#ffffff" stroke-width="0.9"/>
<line x1="510.0" x2="512.0" y1="490.9" y2="490.9" stroke="#555" stroke-width="0.4"/>
<line x1="510.0" x2="512.0" y1="519.3" y2="519.3" stroke="#555" stroke-width="0.4"/>
<line x1="510.0" x2="512.0" y1="547.6" y2="547.6" stroke="#555" stroke-width="0.4"/>
<line x1="522.7" x2="522.7" y1="561.8" y2="563.8" stroke="#555" stroke-width="0.4"/>
<line x1="544.2" x2="544.2" y1="561.8" y2="563.8" stroke="#555" stroke-width="0.4"/>
<line x1="565.6" x2="565.6" y1="561.8" y2="563.8" stroke="#555" stroke-width="0.4"/>
<line x1="587.0" x2="587.0" y1="561.8" y2="563.8" stroke="#555" stroke-width="0.4"/>
<line x1="608.5" x2="608.5" y1="561.8" y2="563.8" stroke="#555" stroke-width="0.4"/>
<text x="565.6" y="474.5" text-anchor="middle" class="hm">CO</text>
<rect x="393.10" y="571.30" width="21.44" height="28.37" fill="#6574d0" stroke="#ffffff" stroke-width="0.9"/>
<rect x="414.54" y="571.30" width="21.44" height="28.37" fill="#7287e0" stroke="#ffffff" stroke-width="0.9"/>
<rect x="435.98" y="571.30" width="21.44" height="28.37" fill="#f3d7c9" stroke="#ffffff" stroke-width="0.9"/>
<rect x="457.42" y="571.30" width="21.44" height="28.37" fill="#f8c8b2" stroke="#ffffff" stroke-width="0.9"/>
<rect x="478.86" y="571.30" width="21.44" height="28.37" fill="#d96c64" stroke="#ffffff" stroke-width="0.9"/>
<rect x="393.10" y="599.67" width="21.44" height="28.37" fill="#6574d0" stroke="#ffffff" stroke-width="0.9"/>
<rect x="414.54" y="599.67" width="21.44" height="28.37" fill="#7287e0" stroke="#ffffff" stroke-width="0.9"/>
<rect x="435.98" y="599.67" width="21.44" height="28.37" fill="#f0dbcf" stroke="#ffffff" stroke-width="0.9"/>
<rect x="457.42" y="599.67" width="21.44" height="28.37" fill="#f8c9b4" stroke="#ffffff" stroke-width="0.9"/>
<rect x="478.86" y="599.67" width="21.44" height="28.37" fill="#df766a" stroke="#ffffff" stroke-width="0.9"/>
<rect x="393.10" y="628.04" width="21.44" height="28.37" fill="#6574d0" stroke="#ffffff" stroke-width="0.9"/>
<rect x="414.54" y="628.04" width="21.44" height="28.37" fill="#7186df" stroke="#ffffff" stroke-width="0.9"/>
<rect x="435.98" y="628.04" width="21.44" height="28.37" fill="#edded5" stroke="#ffffff" stroke-width="0.9"/>
<rect x="457.42" y="628.04" width="21.44" height="28.37" fill="#efdcd2" stroke="#ffffff" stroke-width="0.9"/>
<rect x="478.86" y="628.04" width="21.44" height="28.37" fill="#f2a088" stroke="#ffffff" stroke-width="0.9"/>
<line x1="391.1" x2="393.1" y1="585.5" y2="585.5" stroke="#555" stroke-width="0.4"/>
<line x1="391.1" x2="393.1" y1="613.9" y2="613.9" stroke="#555" stroke-width="0.4"/>
<line x1="391.1" x2="393.1" y1="642.2" y2="642.2" stroke="#555" stroke-width="0.4"/>
<line x1="403.8" x2="403.8" y1="656.4" y2="658.4" stroke="#555" stroke-width="0.4"/>
<line x1="425.3" x2="425.3" y1="656.4" y2="658.4" stroke="#555" stroke-width="0.4"/>
<line x1="446.7" x2="446.7" y1="656.4" y2="658.4" stroke="#555" stroke-width="0.4"/>
<line x1="468.1" x2="468.1" y1="656.4" y2="658.4" stroke="#555" stroke-width="0.4"/>
<line x1="489.6" x2="489.6" y1="656.4" y2="658.4" stroke="#555" stroke-width="0.4"/>
<text x="446.7" y="569.1" text-anchor="middle" class="hm">PM<tspan dy="1.6" font-size="5.5">x</tspan></text>
<text transform="translate(388.9 585.5) rotate(-90)" text-anchor="middle" class="hm">100</text>
<text transform="translate(388.9 613.9) rotate(-90)" text-anchor="middle" class="hm">50</text>
<text transform="translate(388.9 642.2) rotate(-90)" text-anchor="middle" class="hm">Baseline</text>
<text transform="translate(381 613.9) rotate(-90)" text-anchor="middle" class="hm">RP</text>
<text transform="translate(406.7 658.6) rotate(-90)" text-anchor="end" class="hm">Coastal</text>
<text transform="translate(428.2 658.6) rotate(-90)" text-anchor="end" class="hm">Fluvial</text>
<text transform="translate(449.6 658.6) rotate(-90)" text-anchor="end" class="hm">Pluvial</text>
<text transform="translate(471.0 658.6) rotate(-90)" text-anchor="end" class="hm">Compound</text>
<text transform="translate(492.5 658.6) rotate(-90)" text-anchor="end" class="hm">Composite</text>
<text x="446.7" y="706.4" text-anchor="middle" class="hm">Scenario</text>
<rect x="512.00" y="571.30" width="21.44" height="28.37" fill="#6574d0" stroke="#ffffff" stroke-width="0.9"/>
<rect x="533.44" y="571.30" width="21.44" height="28.37" fill="#7287e0" stroke="#ffffff" stroke-width="0.9"/>
<rect x="554.88" y="571.30" width="21.44" height="28.37" fill="#f0dbcf" stroke="#ffffff" stroke-width="0.9"/>
<rect x="576.32" y="571.30" width="21.44" height="28.37" fill="#f8c8b2" stroke="#ffffff" stroke-width="0.9"/>
<rect x="597.76" y="571.30" width="21.44" height="28.37" fill="#df766a" stroke="#ffffff" stroke-width="0.9"/>
<rect x="512.00" y="599.67" width="21.44" height="28.37" fill="#6574d0" stroke="#ffffff" stroke-width="0.9"/>
<rect x="533.44" y="599.67" width="21.44" height="28.37" fill="#7287e0" stroke="#ffffff" stroke-width="0.9"/>
<rect x="554.88" y="599.67" width="21.44" height="28.37" fill="#efdcd2" stroke="#ffffff" stroke-width="0.9"/>
<rect x="576.32" y="599.67" width="21.44" height="28.37" fill="#f8cab5" stroke="#ffffff" stroke-width="0.9"/>
<rect x="597.76" y="599.67" width="21.44" height="28.37" fill="#e58271" stroke="#ffffff" stroke-width="0.9"/>
<rect x="512.00" y="628.04" width="21.44" height="28.37" fill="#6574d0" stroke="#ffffff" stroke-width="0.9"/>
<rect x="533.44" y="628.04" width="21.44" height="28.37" fill="#7186df" stroke="#ffffff" stroke-width="0.9"/>
<rect x="554.88" y="628.04" width="21.44" height="28.37" fill="#e6e2e0" stroke="#ffffff" stroke-width="0.9"/>
<rect x="576.32" y="628.04" width="21.44" height="28.37" fill="#e6e2e0" stroke="#ffffff" stroke-width="0.9"/>
<rect x="597.76" y="628.04" width="21.44" height="28.37" fill="#f4a48c" stroke="#ffffff" stroke-width="0.9"/>
<line x1="510.0" x2="512.0" y1="585.5" y2="585.5" stroke="#555" stroke-width="0.4"/>
<line x1="510.0" x2="512.0" y1="613.9" y2="613.9" stroke="#555" stroke-width="0.4"/>
<line x1="510.0" x2="512.0" y1="642.2" y2="642.2" stroke="#555" stroke-width="0.4"/>
<line x1="522.7" x2="522.7" y1="656.4" y2="658.4" stroke="#555" stroke-width="0.4"/>
<line x1="544.2" x2="544.2" y1="656.4" y2="658.4" stroke="#555" stroke-width="0.4"/>
<line x1="565.6" x2="565.6" y1="656.4" y2="658.4" stroke="#555" stroke-width="0.4"/>
<line x1="587.0" x2="587.0" y1="656.4" y2="658.4" stroke="#555" stroke-width="0.4"/>
<line x1="608.5" x2="608.5" y1="656.4" y2="658.4" stroke="#555" stroke-width="0.4"/>
<text x="565.6" y="569.1" text-anchor="middle" class="hm">NO<tspan dy="1.6" font-size="5.5">x</tspan></text>
<text transform="translate(525.6 658.6) rotate(-90)" text-anchor="end" class="hm">Coastal</text>
<text transform="translate(547.1 658.6) rotate(-90)" text-anchor="end" class="hm">Fluvial</text>
<text transform="translate(568.5 658.6) rotate(-90)" text-anchor="end" class="hm">Pluvial</text>
<text transform="translate(589.9 658.6) rotate(-90)" text-anchor="end" class="hm">Compound</text>
<text transform="translate(611.4 658.6) rotate(-90)" text-anchor="end" class="hm">Composite</text>
<text x="565.6" y="706.4" text-anchor="middle" class="hm">Scenario</text>
<defs><linearGradient id="cbg" x1="0" y1="1" x2="0" y2="0"><stop offset="0.000" stop-color="#6270cd"/><stop offset="0.017" stop-color="#6676d2"/><stop offset="0.034" stop-color="#697bd7"/><stop offset="0.051" stop-color="#6e82dc"/><stop offset="0.068" stop-color="#7287e0"/><stop offset="0.085" stop-color="#768de4"/><stop offset="0.102" stop-color="#7b93e9"/><stop offset="0.119" stop-color="#7f98ed"/><stop offset="0.136" stop-color="#839ef0"/><stop offset="0.153" stop-color="#89a4f3"/><stop offset="0.169" stop-color="#8da9f6"/><stop offset="0.186" stop-color="#91adf8"/><stop offset="0.203" stop-color="#97b3fa"/><stop offset="0.220" stop-color="#9bb7fc"/><stop offset="0.237" stop-color="#a0bcfd"/><stop offset="0.254" stop-color="#a5c1fe"/><stop offset="0.271" stop-color="#aac5ff"/><stop offset="0.288" stop-color="#aec8ff"/><stop offset="0.305" stop-color="#b4cdff"/><stop offset="0.322" stop-color="#b8d0fe"/><stop offset="0.339" stop-color="#bcd3fd"/><stop offset="0.356" stop-color="#c1d6fc"/><stop offset="0.373" stop-color="#c6d9fa"/><stop offset="0.390" stop-color="#cadbf9"/><stop offset="0.407" stop-color="#cfddf6"/><stop offset="0.424" stop-color="#d3dff3"/><stop offset="0.441" stop-color="#d6e0f1"/><stop offset="0.458" stop-color="#dbe2ed"/><stop offset="0.475" stop-color="#dee3e9"/><stop offset="0.492" stop-color="#e1e3e6"/><stop offset="0.508" stop-color="#e6e2e1"/><stop offset="0.525" stop-color="#e9e1dc"/><stop offset="0.542" stop-color="#ecdfd7"/><stop offset="0.559" stop-color="#efdcd2"/><stop offset="0.576" stop-color="#f1d9cd"/><stop offset="0.593" stop-color="#f3d7c8"/><stop offset="0.610" stop-color="#f5d3c2"/><stop offset="0.627" stop-color="#f7cfbd"/><stop offset="0.644" stop-color="#f8ccb7"/><stop offset="0.661" stop-color="#f8c7b1"/><stop offset="0.678" stop-color="#f9c3ac"/><stop offset="0.695" stop-color="#f9bfa7"/><stop offset="0.712" stop-color="#f8b9a1"/><stop offset="0.729" stop-color="#f8b49c"/><stop offset="0.746" stop-color="#f7b097"/><stop offset="0.763" stop-color="#f5a991"/><stop offset="0.780" stop-color="#f4a48c"/><stop offset="0.797" stop-color="#f29e87"/><stop offset="0.814" stop-color="#ef9781"/><stop offset="0.831" stop-color="#ec917d"/><stop offset="0.847" stop-color="#ea8b78"/><stop offset="0.864" stop-color="#e68473"/><stop offset="0.881" stop-color="#e37d6e"/><stop offset="0.898" stop-color="#df766a"/><stop offset="0.915" stop-color="#da6e65"/><stop offset="0.932" stop-color="#d66661"/><stop offset="0.949" stop-color="#d25e5d"/><stop offset="0.966" stop-color="#cd5359"/><stop offset="0.983" stop-color="#c84555"/><stop offset="1.000" stop-color="#c33652"/></linearGradient></defs>
<rect x="625.2" y="483.7" width="6.1" height="163.6" fill="url(#cbg)"/>
<line x1="631.3" x2="633" y1="500.3" y2="500.3" stroke="#444" stroke-width="0.4"/>
<text x="632.8" y="502.9" class="hm">1500.0</text>
<line x1="631.3" x2="633" y1="551.4" y2="551.4" stroke="#444" stroke-width="0.4"/>
<text x="632.8" y="554.0" class="hm">1000.0</text>
<line x1="631.3" x2="633" y1="602.3" y2="602.3" stroke="#444" stroke-width="0.4"/>
<text x="632.8" y="604.9" class="hm">500.0</text>
<text transform="translate(665.6 565.8) rotate(-90)" text-anchor="middle" class="hm">Percentage Change Emissions</text>
<rect x="363.8" y="738.1" width="306.6" height="251.7" fill="#f3f3f3" stroke="#bdbdbd" stroke-width="0.9"/>
<line x1="425.2" x2="425.2" y1="738.1" y2="989.8" stroke="#222" stroke-width="0.7" stroke-dasharray="2,1.4"/>
<line x1="486.4" x2="486.4" y1="738.1" y2="989.8" stroke="#222" stroke-width="0.7" stroke-dasharray="2,1.4"/>
<line x1="547.6" x2="547.6" y1="738.1" y2="989.8" stroke="#222" stroke-width="0.7" stroke-dasharray="2,1.4"/>
<line x1="608.8" x2="608.8" y1="738.1" y2="989.8" stroke="#222" stroke-width="0.7" stroke-dasharray="2,1.4"/>
<line x1="361.0" x2="363.8" y1="979.0" y2="979.0" stroke="#444" stroke-width="0.6"/>
<text x="358.8" y="982.8" text-anchor="end" class="bxt">0</text>
<line x1="361.0" x2="363.8" y1="927.1" y2="927.1" stroke="#444" stroke-width="0.6"/>
<text x="358.8" y="930.9" text-anchor="end" class="bxt">10</text>
<line x1="361.0" x2="363.8" y1="875.3" y2="875.3" stroke="#444" stroke-width="0.6"/>
<text x="358.8" y="879.1" text-anchor="end" class="bxt">20</text>
<line x1="361.0" x2="363.8" y1="823.4" y2="823.4" stroke="#444" stroke-width="0.6"/>
<text x="358.8" y="827.2" text-anchor="end" class="bxt">30</text>
<line x1="361.0" x2="363.8" y1="771.5" y2="771.5" stroke="#444" stroke-width="0.6"/>
<text x="358.8" y="775.3" text-anchor="end" class="bxt">40</text>
<line x1="368.4" x2="380.0" y1="978.5" y2="978.5" stroke="#555" stroke-width="0.8"/>
<line x1="394.6" x2="394.6" y1="966.0" y2="966.6" stroke="#7d7d7d" stroke-width="0.8"/>
<line x1="394.6" x2="394.6" y1="969.7" y2="971.2" stroke="#7d7d7d" stroke-width="0.8"/>
<line x1="391.7" x2="397.5" y1="966.0" y2="966.0" stroke="#7d7d7d" stroke-width="0.8"/>
<line x1="391.7" x2="397.5" y1="971.2" y2="971.2" stroke="#7d7d7d" stroke-width="0.8"/>
<rect x="388.8" y="966.6" width="11.6" height="3.1" fill="#dcdcdc" stroke="#7d7d7d" stroke-width="0.7"/>
<line x1="388.8" x2="400.4" y1="968.1" y2="968.1" stroke="#7d7d7d" stroke-width="0.8"/>
<line x1="415.0" x2="415.0" y1="965.5" y2="966.0" stroke="#7d7d7d" stroke-width="0.8"/>
<line x1="415.0" x2="415.0" y1="969.7" y2="970.7" stroke="#7d7d7d" stroke-width="0.8"/>
<line x1="412.1" x2="417.9" y1="965.5" y2="965.5" stroke="#7d7d7d" stroke-width="0.8"/>
<line x1="412.1" x2="417.9" y1="970.7" y2="970.7" stroke="#7d7d7d" stroke-width="0.8"/>
<rect x="409.2" y="966.0" width="11.6" height="3.6" fill="#c55e50" stroke="#7d7d7d" stroke-width="0.7"/>
<line x1="409.2" x2="420.8" y1="967.8" y2="967.8" stroke="#7d7d7d" stroke-width="0.8"/>
<text x="394.6" y="1001.6" text-anchor="middle" class="bxg">Coastal</text>
<line x1="435.4" x2="435.4" y1="954.1" y2="954.6" stroke="#7d7d7d" stroke-width="0.8"/>
<line x1="435.4" x2="435.4" y1="961.4" y2="963.4" stroke="#7d7d7d" stroke-width="0.8"/>
<line x1="432.5" x2="438.3" y1="954.1" y2="954.1" stroke="#7d7d7d" stroke-width="0.8"/>
<line x1="432.5" x2="438.3" y1="963.4" y2="963.4" stroke="#7d7d7d" stroke-width="0.8"/>
<rect x="429.6" y="954.6" width="11.6" height="6.7" fill="#6a7fd6" stroke="#7d7d7d" stroke-width="0.7"/>
<line x1="429.6" x2="441.2" y1="958.8" y2="958.8" stroke="#7d7d7d" stroke-width="0.8"/>
<line x1="455.8" x2="455.8" y1="948.1" y2="948.4" stroke="#7d7d7d" stroke-width="0.8"/>
<line x1="455.8" x2="455.8" y1="956.7" y2="960.3" stroke="#7d7d7d" stroke-width="0.8"/>
<line x1="452.9" x2="458.7" y1="948.1" y2="948.1" stroke="#7d7d7d" stroke-width="0.8"/>
<line x1="452.9" x2="458.7" y1="960.3" y2="960.3" stroke="#7d7d7d" stroke-width="0.8"/>
<rect x="450.0" y="948.4" width="11.6" height="8.3" fill="#dcdcdc" stroke="#7d7d7d" stroke-width="0.7"/>
<line x1="450.0" x2="461.6" y1="954.1" y2="954.1" stroke="#7d7d7d" stroke-width="0.8"/>
<line x1="476.2" x2="476.2" y1="946.3" y2="946.8" stroke="#7d7d7d" stroke-width="0.8"/>
<line x1="476.2" x2="476.2" y1="955.1" y2="958.3" stroke="#7d7d7d" stroke-width="0.8"/>
<line x1="473.3" x2="479.1" y1="946.3" y2="946.3" stroke="#7d7d7d" stroke-width="0.8"/>
<line x1="473.3" x2="479.1" y1="958.3" y2="958.3" stroke="#7d7d7d" stroke-width="0.8"/>
<rect x="470.4" y="946.8" width="11.6" height="8.3" fill="#c55e50" stroke="#7d7d7d" stroke-width="0.7"/>
<line x1="470.4" x2="482.0" y1="952.0" y2="952.0" stroke="#7d7d7d" stroke-width="0.8"/>
<text x="455.8" y="1001.6" text-anchor="middle" class="bxg">Fluvial</text>
<line x1="496.6" x2="496.6" y1="834.3" y2="837.9" stroke="#7d7d7d" stroke-width="0.8"/>
<line x1="496.6" x2="496.6" y1="874.2" y2="889.3" stroke="#7d7d7d" stroke-width="0.8"/>
<line x1="493.7" x2="499.5" y1="834.3" y2="834.3" stroke="#7d7d7d" stroke-width="0.8"/>
<line x1="493.7" x2="499.5" y1="889.3" y2="889.3" stroke="#7d7d7d" stroke-width="0.8"/>
<rect x="490.8" y="837.9" width="11.6" height="36.3" fill="#6a7fd6" stroke="#7d7d7d" stroke-width="0.7"/>
<line x1="490.8" x2="502.4" y1="863.3" y2="863.3" stroke="#7d7d7d" stroke-width="0.8"/>
<line x1="517.0" x2="517.0" y1="826.0" y2="830.1" stroke="#7d7d7d" stroke-width="0.8"/>
<line x1="517.0" x2="517.0" y1="869.0" y2="884.6" stroke="#7d7d7d" stroke-width="0.8"/>
<line x1="514.1" x2="519.9" y1="826.0" y2="826.0" stroke="#7d7d7d" stroke-width="0.8"/>
<line x1="514.1" x2="519.9" y1="884.6" y2="884.6" stroke="#7d7d7d" stroke-width="0.8"/>
<rect x="511.2" y="830.1" width="11.6" height="38.9" fill="#dcdcdc" stroke="#7d7d7d" stroke-width="0.7"/>
<line x1="511.2" x2="522.8" y1="857.1" y2="857.1" stroke="#7d7d7d" stroke-width="0.8"/>
<line x1="537.4" x2="537.4" y1="823.9" y2="828.1" stroke="#7d7d7d" stroke-width="0.8"/>
<line x1="537.4" x2="537.4" y1="867.5" y2="883.0" stroke="#7d7d7d" stroke-width="0.8"/>
<line x1="534.5" x2="540.3" y1="823.9" y2="823.9" stroke="#7d7d7d" stroke-width="0.8"/>
<line x1="534.5" x2="540.3" y1="883.0" y2="883.0" stroke="#7d7d7d" stroke-width="0.8"/>
<rect x="531.6" y="828.1" width="11.6" height="39.4" fill="#c55e50" stroke="#7d7d7d" stroke-width="0.7"/>
<line x1="531.6" x2="543.2" y1="855.5" y2="855.5" stroke="#7d7d7d" stroke-width="0.8"/>
<text x="517.0" y="1001.6" text-anchor="middle" class="bxg">Pluvial</text>
<line x1="557.8" x2="557.8" y1="833.2" y2="837.4" stroke="#7d7d7d" stroke-width="0.8"/>
<line x1="557.8" x2="557.8" y1="874.2" y2="888.7" stroke="#7d7d7d" stroke-width="0.8"/>
<line x1="554.9" x2="560.7" y1="833.2" y2="833.2" stroke="#7d7d7d" stroke-width="0.8"/>
<line x1="554.9" x2="560.7" y1="888.7" y2="888.7" stroke="#7d7d7d" stroke-width="0.8"/>
<rect x="552.0" y="837.4" width="11.6" height="36.8" fill="#6a7fd6" stroke="#7d7d7d" stroke-width="0.7"/>
<line x1="552.0" x2="563.6" y1="861.8" y2="861.8" stroke="#7d7d7d" stroke-width="0.8"/>
<line x1="578.2" x2="578.2" y1="822.9" y2="827.0" stroke="#7d7d7d" stroke-width="0.8"/>
<line x1="578.2" x2="578.2" y1="866.4" y2="882.5" stroke="#7d7d7d" stroke-width="0.8"/>
<line x1="575.3" x2="581.1" y1="822.9" y2="822.9" stroke="#7d7d7d" stroke-width="0.8"/>
<line x1="575.3" x2="581.1" y1="882.5" y2="882.5" stroke="#7d7d7d" stroke-width="0.8"/>
<rect x="572.4" y="827.0" width="11.6" height="39.4" fill="#dcdcdc" stroke="#7d7d7d" stroke-width="0.7"/>
<line x1="572.4" x2="584.0" y1="854.0" y2="854.0" stroke="#7d7d7d" stroke-width="0.8"/>
<line x1="598.6" x2="598.6" y1="817.2" y2="820.8" stroke="#7d7d7d" stroke-width="0.8"/>
<line x1="598.6" x2="598.6" y1="862.3" y2="878.4" stroke="#7d7d7d" stroke-width="0.8"/>
<line x1="595.7" x2="601.5" y1="817.2" y2="817.2" stroke="#7d7d7d" stroke-width="0.8"/>
<line x1="595.7" x2="601.5" y1="878.4" y2="878.4" stroke="#7d7d7d" stroke-width="0.8"/>
<rect x="592.8" y="820.8" width="11.6" height="41.5" fill="#c55e50" stroke="#7d7d7d" stroke-width="0.7"/>
<line x1="592.8" x2="604.4" y1="849.3" y2="849.3" stroke="#7d7d7d" stroke-width="0.8"/>
<text x="578.2" y="1001.6" text-anchor="middle" class="bxg">Compound</text>
<line x1="619.0" x2="619.0" y1="780.3" y2="786.0" stroke="#7d7d7d" stroke-width="0.8"/>
<line x1="619.0" x2="619.0" y1="835.8" y2="856.1" stroke="#7d7d7d" stroke-width="0.8"/>
<line x1="616.1" x2="621.9" y1="780.3" y2="780.3" stroke="#7d7d7d" stroke-width="0.8"/>
<line x1="616.1" x2="621.9" y1="856.1" y2="856.1" stroke="#7d7d7d" stroke-width="0.8"/>
<rect x="613.2" y="786.0" width="11.6" height="49.8" fill="#6a7fd6" stroke="#7d7d7d" stroke-width="0.7"/>
<line x1="613.2" x2="624.8" y1="820.3" y2="820.3" stroke="#7d7d7d" stroke-width="0.8"/>
<line x1="639.4" x2="639.4" y1="754.4" y2="760.6" stroke="#7d7d7d" stroke-width="0.8"/>
<line x1="639.4" x2="639.4" y1="817.7" y2="840.5" stroke="#7d7d7d" stroke-width="0.8"/>
<line x1="636.5" x2="642.3" y1="754.4" y2="754.4" stroke="#7d7d7d" stroke-width="0.8"/>
<line x1="636.5" x2="642.3" y1="840.5" y2="840.5" stroke="#7d7d7d" stroke-width="0.8"/>
<rect x="633.6" y="760.6" width="11.6" height="57.1" fill="#dcdcdc" stroke="#7d7d7d" stroke-width="0.7"/>
<line x1="633.6" x2="645.2" y1="800.0" y2="800.0" stroke="#7d7d7d" stroke-width="0.8"/>
<line x1="659.8" x2="659.8" y1="749.2" y2="755.4" stroke="#7d7d7d" stroke-width="0.8"/>
<line x1="659.8" x2="659.8" y1="813.5" y2="837.4" stroke="#7d7d7d" stroke-width="0.8"/>
<line x1="656.9" x2="662.7" y1="749.2" y2="749.2" stroke="#7d7d7d" stroke-width="0.8"/>
<line x1="656.9" x2="662.7" y1="837.4" y2="837.4" stroke="#7d7d7d" stroke-width="0.8"/>
<rect x="654.0" y="755.4" width="11.6" height="58.1" fill="#c55e50" stroke="#7d7d7d" stroke-width="0.7"/>
<line x1="654.0" x2="665.6" y1="795.9" y2="795.9" stroke="#7d7d7d" stroke-width="0.8"/>
<text x="639.4" y="1001.6" text-anchor="middle" class="bxg">Composite</text>
<text transform="translate(342.6 917.1) rotate(-90)" class="bxl" textLength="110" lengthAdjust="spacingAndGlyphs">Net user cost (10<tspan dy="-3.8" font-size="7">6</tspan><tspan dy="3.8"> &#8377;)</tspan></text>
<rect x="368.7" y="742.4" width="69" height="54.6" rx="1.5" fill="#f3f3f3" stroke="#dddddd" stroke-width="0.6"/>
<text x="403.2" y="753.1" text-anchor="middle" class="bx">Scenario</text>
<line x1="370.8" x2="391" y1="762.6" y2="762.6" stroke="#6a7fd6" stroke-width="1.3"/>
<text x="397.1" y="766.0" class="bx">Baseline</text>
<line x1="370.8" x2="391" y1="775.7" y2="775.7" stroke="#dcdcdc" stroke-width="1.3"/>
<text x="397.1" y="779.1" class="bx">50 Yr</text>
<line x1="370.8" x2="391" y1="788.7" y2="788.7" stroke="#c55e50" stroke-width="1.3"/>
<text x="397.1" y="792.1" class="bx">100 Yr</text>
<rect x="0.6" y="0.6" width="683.8" height="1039.8" fill="none" stroke="#000" stroke-width="1.3"/><line x1="320.7" x2="320.7" y1="0" y2="1041" stroke="#111" stroke-width="1.4"/><line x1="0" x2="320.7" y1="208.86" y2="208.86" stroke="#111" stroke-width="1.6"/><line x1="0" x2="320.7" y1="416.86" y2="416.86" stroke="#111" stroke-width="1.6"/><line x1="0" x2="320.7" y1="624.77" y2="624.77" stroke="#111" stroke-width="1.6"/><line x1="0" x2="320.7" y1="832.7" y2="832.7" stroke="#111" stroke-width="1.6"/><line x1="320.7" x2="685" y1="461.84" y2="461.84" stroke="#222" stroke-width="1.4"/><line x1="320.7" x2="685" y1="715.2" y2="715.2" stroke="#222" stroke-width="1.4"/>
<text transform="translate(6.8 26) scale(0.85 1)" class="pl">a</text><text transform="translate(6.6000000000000005 237.8) scale(0.85 1)" class="pl">b</text><text transform="translate(6.2 443.6) scale(0.85 1)" class="pl">c</text><text transform="translate(6.4 653.8) scale(0.85 1)" class="pl">d</text><text transform="translate(7.1000000000000005 857.2) scale(0.85 1)" class="pl">e</text><text transform="translate(332.2 25.7) scale(0.85 1)" class="pl">f</text><text transform="translate(333.2 169.8) scale(0.85 1)" class="pl">g</text><text transform="translate(333.2 299.9) scale(0.85 1)" class="pl">h</text><text transform="translate(339.2 497) scale(0.85 1)" class="pl">i</text><text transform="translate(338.0 750) scale(0.85 1)" class="pl">j</text></svg></body></html>
